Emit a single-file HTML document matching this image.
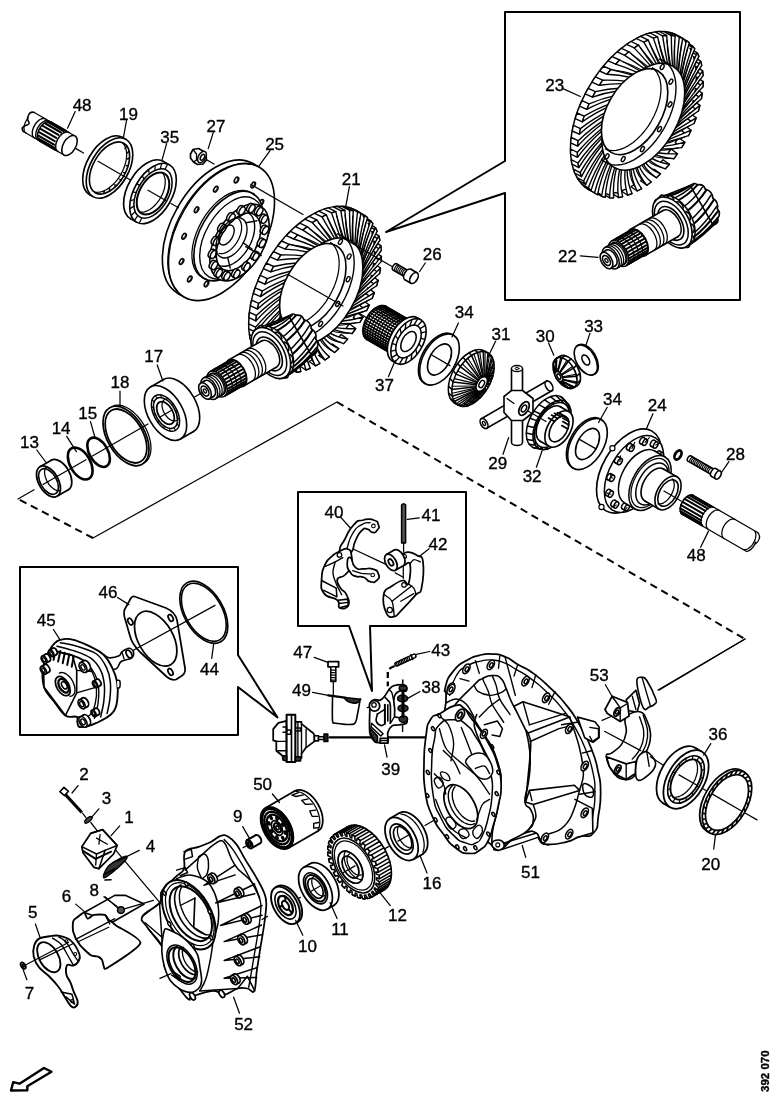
<!DOCTYPE html>
<html><head><meta charset="utf-8"><title>392 070</title>
<style>
html,body{margin:0;padding:0;background:#fff;}
svg{display:block;will-change:transform}
text{font-family:"Liberation Sans",sans-serif;fill:#000;stroke:#000;stroke-width:0.35px}
</style></head><body>
<svg width="778" height="1100" viewBox="0 0 778 1100" fill="none" stroke="#000" stroke-linecap="round" stroke-linejoin="round">
<rect x="0" y="0" width="778" height="1100" fill="#fff" stroke="none"/>
<path d="M505,161 L505,12 L740,12 L740,300 L505,300 L505,193 L386,232 Z" stroke-width="2" fill="none" />
<path d="M238,655 L238,567 L20,567 L20,735 L238,735 L238,687 L277.5,717.5 Z" stroke-width="2" fill="none" />
<path d="M349,626 L298,626 L298,492 L466,492 L466,626 L370,626 L372,691 Z" stroke-width="2" fill="none" />
<line x1="337.0" y1="402.0" x2="745.0" y2="639.0" stroke-width="2" stroke-dasharray="7.5 5" stroke-linecap="butt"/>
<line x1="93.0" y1="538.0" x2="18.0" y2="499.0" stroke-width="2" stroke-dasharray="7.5 5" stroke-linecap="butt"/>
<line x1="337.0" y1="402.0" x2="93.0" y2="538.0" stroke-width="1.25" />
<line x1="745.0" y1="639.0" x2="658.0" y2="690.0" stroke-width="1.25" />
<polygon points="64.0,155.0 75.0,136.0 34.3,112.5 23.3,131.5" fill="#fff" stroke="none"/>
<line x1="64.0" y1="155.0" x2="23.3" y2="131.5" stroke-width="1.25" />
<line x1="75.0" y1="136.0" x2="34.3" y2="112.5" stroke-width="1.25" />
<path d="M23.3,131.5 C18.3,124.5 31.8,126.0 28.8,122.0 S29.3,110.5 34.3,112.5" stroke-width="1.5" fill="#fff" />
<path d="M26.3,133.2 L25.9,132.9 L25.5,132.6 L25.2,132.2 L24.9,131.8 L24.6,131.3 L24.4,130.7 L24.2,130.2 L24.1,129.5 L24.0,128.9 L24.0,128.2 L24.0,127.5 L24.1,126.7 L24.2,126.0 L24.4,125.2 L24.6,124.4 L24.9,123.6 L25.2,122.8 L25.5,122.1 L25.9,121.3 L26.3,120.5 L26.7,119.8 L27.2,119.1 L27.7,118.4 L28.3,117.7" stroke-width="1.25" fill="none" />
<path d="M38.0,140.0 L37.3,139.5 L36.8,138.9 L36.3,138.1 L36.0,137.2 L35.8,136.1 L35.7,135.0 L35.8,133.8 L36.0,132.5 L36.3,131.2 L36.8,129.9 L37.4,128.6 L38.0,127.3 L38.8,126.1 L39.6,125.0 L40.5,123.9 L41.5,123.0 L42.5,122.2 L43.5,121.5 L44.5,121.0 L45.5,120.7 L46.5,120.5 L47.4,120.5 L48.3,120.6 L49.0,121.0" stroke-width="1.38" fill="none" />
<path d="M34.6,138.0 L33.9,137.5 L33.3,136.9 L32.9,136.1 L32.5,135.2 L32.3,134.1 L32.3,133.0 L32.3,131.8 L32.5,130.5 L32.9,129.2 L33.3,127.9 L33.9,126.6 L34.6,125.3 L35.3,124.1 L36.2,123.0 L37.1,121.9 L38.0,121.0 L39.0,120.2 L40.1,119.5 L41.1,119.0 L42.1,118.7 L43.0,118.5 L43.9,118.5 L44.8,118.6 L45.6,119.0" stroke-width="1.38" fill="none" />
<line x1="55.3" y1="149.8" x2="39.7" y2="140.8" stroke-width="2.12" />
<line x1="54.2" y1="147.6" x2="38.6" y2="138.6" stroke-width="2.12" />
<line x1="54.0" y1="144.6" x2="38.4" y2="135.6" stroke-width="2.12" />
<line x1="54.7" y1="141.2" x2="39.1" y2="132.2" stroke-width="2.12" />
<line x1="56.2" y1="137.8" x2="40.6" y2="128.8" stroke-width="2.12" />
<line x1="58.4" y1="134.8" x2="42.8" y2="125.8" stroke-width="2.12" />
<line x1="61.0" y1="132.5" x2="45.4" y2="123.5" stroke-width="2.12" />
<line x1="63.6" y1="131.2" x2="48.1" y2="122.2" stroke-width="2.12" />
<line x1="66.1" y1="131.0" x2="50.5" y2="122.0" stroke-width="2.12" />
<path d="M57.9,151.5 L57.3,151.0 L56.7,150.4 L56.3,149.6 L55.9,148.7 L55.7,147.6 L55.7,146.5 L55.7,145.3 L55.9,144.0 L56.3,142.7 L56.7,141.4 L57.3,140.1 L57.9,138.8 L58.7,137.6 L59.6,136.5 L60.5,135.4 L61.4,134.5 L62.4,133.7 L63.4,133.0 L64.5,132.5 L65.5,132.2 L66.4,132.0 L67.3,132.0 L68.2,132.1 L68.9,132.5" stroke-width="1.5" fill="none" />
<path d="M39.8,141.0 L39.1,140.5 L38.5,139.9 L38.1,139.1 L37.7,138.2 L37.5,137.1 L37.5,136.0 L37.5,134.8 L37.7,133.5 L38.1,132.2 L38.5,130.9 L39.1,129.6 L39.8,128.3 L40.5,127.1 L41.4,126.0 L42.3,124.9 L43.2,124.0 L44.2,123.2 L45.3,122.5 L46.3,122.0 L47.3,121.7 L48.2,121.5 L49.1,121.5 L50.0,121.6 L50.8,122.0" stroke-width="1.5" fill="none" />
<ellipse cx="69.5" cy="145.5" rx="6.3" ry="11.0" transform="rotate(30 69.5 145.5)" stroke-width="1.5" fill="#fff" />
<ellipse cx="106.0" cy="166.0" rx="19.0" ry="33.0" transform="rotate(30 106.0 166.0)" stroke-width="1.62" fill="#fff" />
<polygon points="93.0,196.6 126.0,139.4 122.5,137.4 89.5,194.6" fill="#fff" stroke="none"/>
<line x1="93.0" y1="196.6" x2="89.5" y2="194.6" stroke-width="1.62" />
<line x1="126.0" y1="139.4" x2="122.5" y2="137.4" stroke-width="1.62" />
<ellipse cx="109.5" cy="168.0" rx="19.0" ry="33.0" transform="rotate(30 109.5 168.0)" stroke-width="1.62" fill="#fff" />
<ellipse cx="109.5" cy="168.0" rx="16.4" ry="28.5" transform="rotate(30 109.5 168.0)" stroke-width="1.62" fill="none" />
<path d="M122.8,143.2 L124.1,144.8 L125.1,146.6 L125.9,148.8 L126.4,151.2 L126.6,153.8 L126.6,156.5 L126.3,159.4 L125.7,162.4 L124.8,165.5 L123.7,168.5 L122.3,171.6 L120.7,174.5 L119.0,177.4 L117.0,180.1 L114.9,182.6 L112.7,184.8 L110.4,186.8 L108.1,188.6 L105.7,190.0 L103.3,191.1 L101.0,191.9 L98.8,192.2 L96.7,192.3 L94.7,192.0" stroke-width="1.25" fill="none" />
<line x1="126.8" y1="146.1" x2="125.0" y2="148.4" stroke-width="1.5" />
<line x1="129.1" y1="151.3" x2="127.0" y2="153.0" stroke-width="1.5" />
<line x1="129.6" y1="157.9" x2="127.5" y2="159.0" stroke-width="1.5" />
<line x1="128.3" y1="165.4" x2="126.3" y2="165.7" stroke-width="1.5" />
<line x1="125.4" y1="173.2" x2="123.7" y2="172.6" stroke-width="1.5" />
<line x1="121.0" y1="180.5" x2="119.8" y2="179.2" stroke-width="1.5" />
<line x1="115.6" y1="186.7" x2="114.9" y2="184.7" stroke-width="1.5" />
<line x1="109.6" y1="191.2" x2="109.6" y2="188.8" stroke-width="1.5" />
<line x1="103.7" y1="193.6" x2="104.3" y2="190.9" stroke-width="1.5" />
<ellipse cx="146.9" cy="190.0" rx="19.0" ry="33.0" transform="rotate(30 146.9 190.0)" stroke-width="1.62" fill="#fff" />
<polygon points="136.5,222.1 169.5,164.9 163.4,161.4 130.4,218.6" fill="#fff" stroke="none"/>
<line x1="136.5" y1="222.1" x2="130.4" y2="218.6" stroke-width="1.62" />
<line x1="169.5" y1="164.9" x2="163.4" y2="161.4" stroke-width="1.62" />
<ellipse cx="153.0" cy="193.5" rx="19.0" ry="33.0" transform="rotate(30 153.0 193.5)" stroke-width="1.62" fill="#fff" />
<ellipse cx="153.0" cy="193.5" rx="15.6" ry="27.0" transform="rotate(30 153.0 193.5)" stroke-width="1.5" fill="none" />
<ellipse cx="153.0" cy="193.5" rx="13.3" ry="23.0" transform="rotate(30 153.0 193.5)" stroke-width="2.0" fill="none" />
<path d="M162.2,172.6 L163.2,173.8 L164.0,175.3 L164.6,177.1 L165.1,179.0 L165.2,181.1 L165.2,183.3 L164.9,185.7 L164.5,188.1 L163.8,190.5 L162.9,193.0 L161.8,195.4 L160.5,197.8 L159.1,200.1 L157.5,202.3 L155.8,204.3 L154.0,206.2 L152.2,207.8 L150.3,209.2 L148.4,210.3 L146.5,211.2 L144.6,211.8 L142.8,212.1 L141.1,212.2 L139.4,211.9" stroke-width="1.25" fill="none" />
<line x1="141.8" y1="217.8" x2="139.7" y2="222.3" stroke-width="1.25" />
<line x1="137.8" y1="215.6" x2="135.0" y2="219.7" stroke-width="1.25" />
<line x1="135.2" y1="211.6" x2="131.8" y2="215.0" stroke-width="1.25" />
<line x1="134.0" y1="206.1" x2="130.4" y2="208.4" stroke-width="1.25" />
<line x1="134.4" y1="199.5" x2="130.9" y2="200.6" stroke-width="1.25" />
<line x1="136.3" y1="192.4" x2="133.2" y2="192.2" stroke-width="1.25" />
<line x1="139.7" y1="185.4" x2="137.2" y2="183.9" stroke-width="1.25" />
<line x1="144.1" y1="179.1" x2="142.5" y2="176.4" stroke-width="1.25" />
<line x1="149.3" y1="174.0" x2="148.7" y2="170.4" stroke-width="1.25" />
<line x1="154.8" y1="170.5" x2="155.2" y2="166.2" stroke-width="1.25" />
<line x1="160.2" y1="168.9" x2="161.5" y2="164.4" stroke-width="1.25" />
<line x1="165.0" y1="169.4" x2="167.2" y2="165.0" stroke-width="1.25" />
<path d="M190.5,154 L193,149.5 L198.5,148.5 L203,151 L206,154 L206.5,160 L203,164 L197.5,164.5 L193.5,162 L190.5,158 Z" stroke-width="1.62" fill="#fff" />
<ellipse cx="202.0" cy="157.0" rx="3.6" ry="6.2" transform="rotate(30 202.0 157.0)" stroke-width="1.5" fill="#fff" />
<ellipse cx="202.5" cy="157.3" rx="1.8" ry="3.2" transform="rotate(30 202.5 157.3)" stroke-width="1.5" fill="none" />
<line x1="193.0" y1="149.5" x2="196.5" y2="154.0" stroke-width="1.25" />
<line x1="196.5" y1="154.0" x2="196.5" y2="160.0" stroke-width="1.25" />
<line x1="196.5" y1="160.0" x2="193.5" y2="162.0" stroke-width="1.25" />
<line x1="207.0" y1="160.0" x2="214.0" y2="164.0" stroke-width="1.25" />
<ellipse cx="215.4" cy="228.5" rx="43.3" ry="75.0" transform="rotate(30 215.4 228.5)" stroke-width="1.62" fill="#fff" />
<polygon points="184.0,296.9 259.0,167.1 252.9,163.6 177.9,293.4" fill="#fff" stroke="none"/>
<line x1="184.0" y1="296.9" x2="177.9" y2="293.4" stroke-width="1.62" />
<line x1="259.0" y1="167.1" x2="252.9" y2="163.6" stroke-width="1.62" />
<ellipse cx="221.5" cy="232.0" rx="43.3" ry="75.0" transform="rotate(30 221.5 232.0)" stroke-width="1.62" fill="#fff" />
<path d="M177.7,291.1 L174.4,287.0 L171.7,282.1 L169.7,276.6 L168.3,270.4 L167.7,263.7 L167.9,256.5 L168.7,249.0 L170.3,241.2 L172.5,233.3 L175.4,225.3 L178.9,217.4 L183.0,209.8 L187.6,202.4 L192.7,195.4 L198.1,188.9 L203.9,183.0 L209.8,177.7 L215.9,173.2 L222.1,169.5 L228.2,166.7 L234.2,164.8 L240.0,163.7 L245.6,163.6 L250.8,164.5" stroke-width="1.12" fill="none" />
<ellipse cx="253.2" cy="185.0" rx="1.8" ry="3.2" transform="rotate(30 253.2 185.0)" stroke-width="1.5" fill="none" />
<path d="M254.2,182.1 L254.5,182.9 L254.4,184.1 L253.9,185.3 L253.1,186.4 L252.1,187.0 L251.2,187.2" stroke-width="1.0" fill="none" />
<ellipse cx="261.4" cy="202.4" rx="1.8" ry="3.2" transform="rotate(30 261.4 202.4)" stroke-width="1.5" fill="none" />
<path d="M262.4,199.5 L262.7,200.4 L262.6,201.5 L262.1,202.7 L261.3,203.8 L260.3,204.5 L259.4,204.6" stroke-width="1.0" fill="none" />
<ellipse cx="258.9" cy="227.7" rx="1.8" ry="3.2" transform="rotate(30 258.9 227.7)" stroke-width="1.5" fill="none" />
<path d="M259.9,224.9 L260.2,225.7 L260.1,226.9 L259.6,228.1 L258.8,229.2 L257.8,229.8 L256.9,230.0" stroke-width="1.0" fill="none" />
<ellipse cx="246.4" cy="254.2" rx="1.8" ry="3.2" transform="rotate(30 246.4 254.2)" stroke-width="1.5" fill="none" />
<path d="M247.3,251.4 L247.7,252.2 L247.6,253.4 L247.1,254.6 L246.2,255.7 L245.3,256.3 L244.4,256.5" stroke-width="1.0" fill="none" />
<ellipse cx="227.2" cy="274.8" rx="1.8" ry="3.2" transform="rotate(30 227.2 274.8)" stroke-width="1.5" fill="none" />
<path d="M228.1,271.9 L228.5,272.7 L228.4,273.9 L227.9,275.1 L227.1,276.2 L226.1,276.9 L225.2,277.0" stroke-width="1.0" fill="none" />
<ellipse cx="206.5" cy="283.9" rx="1.8" ry="3.2" transform="rotate(30 206.5 283.9)" stroke-width="1.5" fill="none" />
<path d="M207.4,281.0 L207.8,281.8 L207.7,283.0 L207.2,284.2 L206.4,285.3 L205.4,285.9 L204.5,286.1" stroke-width="1.0" fill="none" />
<ellipse cx="189.8" cy="279.0" rx="1.8" ry="3.2" transform="rotate(30 189.8 279.0)" stroke-width="1.5" fill="none" />
<path d="M190.8,276.2 L191.1,277.0 L191.0,278.2 L190.5,279.4 L189.7,280.5 L188.7,281.1 L187.8,281.3" stroke-width="1.0" fill="none" />
<ellipse cx="181.6" cy="261.6" rx="1.8" ry="3.2" transform="rotate(30 181.6 261.6)" stroke-width="1.5" fill="none" />
<path d="M182.6,258.7 L182.9,259.6 L182.8,260.7 L182.3,262.0 L181.5,263.0 L180.5,263.7 L179.6,263.8" stroke-width="1.0" fill="none" />
<ellipse cx="184.1" cy="236.3" rx="1.8" ry="3.2" transform="rotate(30 184.1 236.3)" stroke-width="1.5" fill="none" />
<path d="M185.1,233.4 L185.4,234.2 L185.3,235.4 L184.8,236.6 L184.0,237.7 L183.0,238.3 L182.1,238.5" stroke-width="1.0" fill="none" />
<ellipse cx="196.6" cy="209.8" rx="1.8" ry="3.2" transform="rotate(30 196.6 209.8)" stroke-width="1.5" fill="none" />
<path d="M197.6,206.9 L197.9,207.7 L197.8,208.9 L197.3,210.1 L196.5,211.2 L195.6,211.9 L194.7,212.0" stroke-width="1.0" fill="none" />
<ellipse cx="215.8" cy="189.2" rx="1.8" ry="3.2" transform="rotate(30 215.8 189.2)" stroke-width="1.5" fill="none" />
<path d="M216.8,186.4 L217.1,187.2 L217.0,188.4 L216.5,189.6 L215.7,190.6 L214.7,191.3 L213.8,191.4" stroke-width="1.0" fill="none" />
<ellipse cx="236.5" cy="180.1" rx="1.8" ry="3.2" transform="rotate(30 236.5 180.1)" stroke-width="1.5" fill="none" />
<path d="M237.5,177.3 L237.8,178.1 L237.7,179.3 L237.2,180.5 L236.4,181.6 L235.5,182.2 L234.6,182.4" stroke-width="1.0" fill="none" />
<ellipse cx="228.5" cy="236.0" rx="28.3" ry="49.0" transform="rotate(30 228.5 236.0)" stroke-width="1.62" fill="#fff" />
<path d="M206.1,279.1 L202.3,277.6 L199.0,275.2 L196.3,272.0 L194.2,268.0 L192.7,263.3 L192.0,258.1 L191.9,252.4 L192.6,246.3 L194.0,239.9 L196.1,233.5 L198.8,227.1 L202.0,220.9 L205.8,214.9 L210.0,209.4 L214.5,204.4 L219.3,200.0 L224.2,196.4 L229.2,193.6 L234.2,191.6 L238.9,190.5 L243.4,190.3 L247.6,191.1 L251.3,192.8 L254.5,195.3" stroke-width="1.25" fill="none" />
<ellipse cx="231.5" cy="238.0" rx="26.0" ry="45.0" transform="rotate(30 231.5 238.0)" stroke-width="1.38" fill="#fff" />
<ellipse cx="239.5" cy="242.5" rx="24.2" ry="42.0" transform="rotate(30 239.5 242.5)" stroke-width="1.62" fill="#fff" />
<ellipse cx="238.5" cy="241.9" rx="18.2" ry="31.5" transform="rotate(30 238.5 241.9)" stroke-width="1.62" fill="none" />
<ellipse cx="257.6" cy="210.4" rx="2.5" ry="4.4" transform="rotate(30 257.6 210.4)" stroke-width="1.5" fill="#fff" />
<polygon points="257.6,215.5 262.0,207.9 259.8,206.6 255.4,214.2" fill="#fff" stroke="none"/>
<line x1="257.6" y1="215.5" x2="255.4" y2="214.2" stroke-width="1.5" />
<line x1="262.0" y1="207.9" x2="259.8" y2="206.6" stroke-width="1.5" />
<ellipse cx="259.8" cy="211.7" rx="2.5" ry="4.4" transform="rotate(30 259.8 211.7)" stroke-width="1.5" fill="#fff" />
<ellipse cx="262.4" cy="218.1" rx="2.5" ry="4.4" transform="rotate(30 262.4 218.1)" stroke-width="1.5" fill="#fff" />
<polygon points="262.3,223.1 266.7,215.5 264.6,214.3 260.2,221.9" fill="#fff" stroke="none"/>
<line x1="262.3" y1="223.1" x2="260.2" y2="221.9" stroke-width="1.5" />
<line x1="266.7" y1="215.5" x2="264.6" y2="214.3" stroke-width="1.5" />
<ellipse cx="264.5" cy="219.3" rx="2.5" ry="4.4" transform="rotate(30 264.5 219.3)" stroke-width="1.5" fill="#fff" />
<ellipse cx="263.4" cy="229.2" rx="2.5" ry="4.4" transform="rotate(30 263.4 229.2)" stroke-width="1.5" fill="#fff" />
<polygon points="263.3,234.3 267.7,226.7 265.6,225.4 261.2,233.0" fill="#fff" stroke="none"/>
<line x1="263.3" y1="234.3" x2="261.2" y2="233.0" stroke-width="1.5" />
<line x1="267.7" y1="226.7" x2="265.6" y2="225.4" stroke-width="1.5" />
<ellipse cx="265.5" cy="230.5" rx="2.5" ry="4.4" transform="rotate(30 265.5 230.5)" stroke-width="1.5" fill="#fff" />
<ellipse cx="260.4" cy="242.2" rx="2.5" ry="4.4" transform="rotate(30 260.4 242.2)" stroke-width="1.5" fill="#fff" />
<polygon points="260.3,247.3 264.7,239.7 262.6,238.4 258.2,246.0" fill="#fff" stroke="none"/>
<line x1="260.3" y1="247.3" x2="258.2" y2="246.0" stroke-width="1.5" />
<line x1="264.7" y1="239.7" x2="262.6" y2="238.4" stroke-width="1.5" />
<ellipse cx="262.5" cy="243.5" rx="2.5" ry="4.4" transform="rotate(30 262.5 243.5)" stroke-width="1.5" fill="#fff" />
<ellipse cx="253.9" cy="255.1" rx="2.5" ry="4.4" transform="rotate(30 253.9 255.1)" stroke-width="1.5" fill="#fff" />
<polygon points="253.8,260.1 258.2,252.5 256.1,251.3 251.7,258.9" fill="#fff" stroke="none"/>
<line x1="253.8" y1="260.1" x2="251.7" y2="258.9" stroke-width="1.5" />
<line x1="258.2" y1="252.5" x2="256.1" y2="251.3" stroke-width="1.5" />
<ellipse cx="256.0" cy="256.3" rx="2.5" ry="4.4" transform="rotate(30 256.0 256.3)" stroke-width="1.5" fill="#fff" />
<ellipse cx="244.9" cy="265.8" rx="2.5" ry="4.4" transform="rotate(30 244.9 265.8)" stroke-width="1.5" fill="#fff" />
<polygon points="244.8,270.9 249.2,263.3 247.1,262.0 242.7,269.6" fill="#fff" stroke="none"/>
<line x1="244.8" y1="270.9" x2="242.7" y2="269.6" stroke-width="1.5" />
<line x1="249.2" y1="263.3" x2="247.1" y2="262.0" stroke-width="1.5" />
<ellipse cx="247.0" cy="267.1" rx="2.5" ry="4.4" transform="rotate(30 247.0 267.1)" stroke-width="1.5" fill="#fff" />
<ellipse cx="234.7" cy="272.8" rx="2.5" ry="4.4" transform="rotate(30 234.7 272.8)" stroke-width="1.5" fill="#fff" />
<polygon points="234.7,277.9 239.1,270.3 236.9,269.0 232.5,276.6" fill="#fff" stroke="none"/>
<line x1="234.7" y1="277.9" x2="232.5" y2="276.6" stroke-width="1.5" />
<line x1="239.1" y1="270.3" x2="236.9" y2="269.0" stroke-width="1.5" />
<ellipse cx="236.9" cy="274.1" rx="2.5" ry="4.4" transform="rotate(30 236.9 274.1)" stroke-width="1.5" fill="#fff" />
<ellipse cx="225.0" cy="275.0" rx="2.5" ry="4.4" transform="rotate(30 225.0 275.0)" stroke-width="1.5" fill="#fff" />
<polygon points="224.9,280.1 229.3,272.4 227.2,271.2 222.8,278.8" fill="#fff" stroke="none"/>
<line x1="224.9" y1="280.1" x2="222.8" y2="278.8" stroke-width="1.5" />
<line x1="229.3" y1="272.4" x2="227.2" y2="271.2" stroke-width="1.5" />
<ellipse cx="227.1" cy="276.3" rx="2.5" ry="4.4" transform="rotate(30 227.1 276.3)" stroke-width="1.5" fill="#fff" />
<ellipse cx="217.1" cy="272.1" rx="2.5" ry="4.4" transform="rotate(30 217.1 272.1)" stroke-width="1.5" fill="#fff" />
<polygon points="217.0,277.1 221.4,269.5 219.3,268.3 214.9,275.9" fill="#fff" stroke="none"/>
<line x1="217.0" y1="277.1" x2="214.9" y2="275.9" stroke-width="1.5" />
<line x1="221.4" y1="269.5" x2="219.3" y2="268.3" stroke-width="1.5" />
<ellipse cx="219.2" cy="273.3" rx="2.5" ry="4.4" transform="rotate(30 219.2 273.3)" stroke-width="1.5" fill="#fff" />
<ellipse cx="212.3" cy="264.4" rx="2.5" ry="4.4" transform="rotate(30 212.3 264.4)" stroke-width="1.5" fill="#fff" />
<polygon points="212.3,269.5 216.7,261.9 214.5,260.6 210.1,268.2" fill="#fff" stroke="none"/>
<line x1="212.3" y1="269.5" x2="210.1" y2="268.2" stroke-width="1.5" />
<line x1="216.7" y1="261.9" x2="214.5" y2="260.6" stroke-width="1.5" />
<ellipse cx="214.5" cy="265.7" rx="2.5" ry="4.4" transform="rotate(30 214.5 265.7)" stroke-width="1.5" fill="#fff" />
<ellipse cx="211.3" cy="253.3" rx="2.5" ry="4.4" transform="rotate(30 211.3 253.3)" stroke-width="1.5" fill="#fff" />
<polygon points="211.3,258.3 215.7,250.7 213.5,249.5 209.1,257.1" fill="#fff" stroke="none"/>
<line x1="211.3" y1="258.3" x2="209.1" y2="257.1" stroke-width="1.5" />
<line x1="215.7" y1="250.7" x2="213.5" y2="249.5" stroke-width="1.5" />
<ellipse cx="213.5" cy="254.5" rx="2.5" ry="4.4" transform="rotate(30 213.5 254.5)" stroke-width="1.5" fill="#fff" />
<ellipse cx="214.3" cy="240.3" rx="2.5" ry="4.4" transform="rotate(30 214.3 240.3)" stroke-width="1.5" fill="#fff" />
<polygon points="214.3,245.3 218.7,237.7 216.5,236.5 212.1,244.1" fill="#fff" stroke="none"/>
<line x1="214.3" y1="245.3" x2="212.1" y2="244.1" stroke-width="1.5" />
<line x1="218.7" y1="237.7" x2="216.5" y2="236.5" stroke-width="1.5" />
<ellipse cx="216.5" cy="241.5" rx="2.5" ry="4.4" transform="rotate(30 216.5 241.5)" stroke-width="1.5" fill="#fff" />
<ellipse cx="220.8" cy="227.4" rx="2.5" ry="4.4" transform="rotate(30 220.8 227.4)" stroke-width="1.5" fill="#fff" />
<polygon points="220.8,232.5 225.2,224.9 223.0,223.6 218.6,231.2" fill="#fff" stroke="none"/>
<line x1="220.8" y1="232.5" x2="218.6" y2="231.2" stroke-width="1.5" />
<line x1="225.2" y1="224.9" x2="223.0" y2="223.6" stroke-width="1.5" />
<ellipse cx="223.0" cy="228.7" rx="2.5" ry="4.4" transform="rotate(30 223.0 228.7)" stroke-width="1.5" fill="#fff" />
<ellipse cx="229.8" cy="216.7" rx="2.5" ry="4.4" transform="rotate(30 229.8 216.7)" stroke-width="1.5" fill="#fff" />
<polygon points="229.8,221.7 234.2,214.1 232.0,212.9 227.6,220.5" fill="#fff" stroke="none"/>
<line x1="229.8" y1="221.7" x2="227.6" y2="220.5" stroke-width="1.5" />
<line x1="234.2" y1="214.1" x2="232.0" y2="212.9" stroke-width="1.5" />
<ellipse cx="232.0" cy="217.9" rx="2.5" ry="4.4" transform="rotate(30 232.0 217.9)" stroke-width="1.5" fill="#fff" />
<ellipse cx="240.0" cy="209.7" rx="2.5" ry="4.4" transform="rotate(30 240.0 209.7)" stroke-width="1.5" fill="#fff" />
<polygon points="239.9,214.7 244.3,207.1 242.2,205.9 237.8,213.5" fill="#fff" stroke="none"/>
<line x1="239.9" y1="214.7" x2="237.8" y2="213.5" stroke-width="1.5" />
<line x1="244.3" y1="207.1" x2="242.2" y2="205.9" stroke-width="1.5" />
<ellipse cx="242.1" cy="210.9" rx="2.5" ry="4.4" transform="rotate(30 242.1 210.9)" stroke-width="1.5" fill="#fff" />
<ellipse cx="249.7" cy="207.5" rx="2.5" ry="4.4" transform="rotate(30 249.7 207.5)" stroke-width="1.5" fill="#fff" />
<polygon points="249.7,212.6 254.1,204.9 251.9,203.7 247.5,211.3" fill="#fff" stroke="none"/>
<line x1="249.7" y1="212.6" x2="247.5" y2="211.3" stroke-width="1.5" />
<line x1="254.1" y1="204.9" x2="251.9" y2="203.7" stroke-width="1.5" />
<ellipse cx="251.9" cy="208.7" rx="2.5" ry="4.4" transform="rotate(30 251.9 208.7)" stroke-width="1.5" fill="#fff" />
<path d="M248.5,213.0 L250.3,214.4 L251.9,216.1 L253.1,218.3 L254.0,220.8 L254.5,223.7 L254.7,226.7 L254.5,230.1 L254.0,233.5 L253.1,237.1 L251.9,240.6 L250.3,244.2 L248.5,247.7 L246.4,251.0 L244.1,254.1 L241.6,256.9 L239.0,259.5 L236.3,261.7 L233.5,263.5 L230.7,264.9 L228.0,265.8 L225.4,266.3 L222.9,266.3 L220.6,265.9 L218.5,265.0" stroke-width="1.38" fill="none" />
<ellipse cx="231.5" cy="237.9" rx="12.7" ry="22.0" transform="rotate(30 231.5 237.9)" stroke-width="1.38" fill="none" />
<path d="M238.9,219.3 L239.8,220.4 L240.6,221.7 L241.1,223.2 L241.5,224.9 L241.6,226.7 L241.6,228.6 L241.4,230.7 L240.9,232.8 L240.3,234.9 L239.6,237.1 L238.6,239.2 L237.5,241.3 L236.2,243.3 L234.9,245.2 L233.4,246.9 L231.9,248.5 L230.3,249.9 L228.6,251.1 L226.9,252.1 L225.3,252.9 L223.7,253.4 L222.1,253.7 L220.6,253.7 L219.2,253.5" stroke-width="1.25" fill="none" />
<ellipse cx="226.5" cy="235.0" rx="6.3" ry="11.0" transform="rotate(30 226.5 235.0)" stroke-width="1.38" fill="none" />
<line x1="245.9" y1="222.8" x2="256.9" y2="220.8" stroke-width="1.38" />
<line x1="243.2" y1="242.9" x2="252.1" y2="249.0" stroke-width="1.38" />
<line x1="227.7" y1="257.5" x2="230.2" y2="268.2" stroke-width="1.38" />
<line x1="216.3" y1="250.7" x2="215.3" y2="257.4" stroke-width="1.38" />
<line x1="221.5" y1="229.9" x2="223.5" y2="228.5" stroke-width="1.38" />
<line x1="237.6" y1="217.9" x2="245.9" y2="213.0" stroke-width="1.38" />
<line x1="245.7" y1="246.6" x2="261.3" y2="255.6" stroke-width="1.25" />
<line x1="76.0" y1="148.6" x2="83.5" y2="153.0" stroke-width="1.25" />
<line x1="98.0" y1="161.3" x2="130.0" y2="179.8" stroke-width="1.25" />
<line x1="148.0" y1="190.2" x2="166.3" y2="200.8" stroke-width="1.25" />
<line x1="171.0" y1="203.5" x2="178.5" y2="207.8" stroke-width="1.25" />
<ellipse cx="311.6" cy="287.5" rx="51.4" ry="89.0" transform="rotate(30 311.6 287.5)" stroke-width="1.5" fill="#fff" />
<ellipse cx="318.5" cy="291.5" rx="51.1" ry="88.5" transform="rotate(30 318.5 291.5)" stroke-width="0.12" fill="#fff" stroke="#fff"/>
<path d="M329.4,356.8 L323.1,352.3 L318.7,355.5 L325.0,360.0 Z" stroke-width="1.38" fill="#fff" />
<path d="M317.5,341.3 Q321.2,350.0 329.4,356.8 L325.0,360.0 Q318.0,352.0 315.3,342.3 Z" stroke-width="1.38" fill="#fff" />
<path d="M313.8,342.8 Q316.2,351.3 322.9,357.3" stroke-width="1.12" fill="none" />
<path d="M338.7,348.6 L332.4,344.0 L328.2,348.0 L334.5,352.5 Z" stroke-width="1.38" fill="#fff" />
<path d="M323.9,337.8 Q329.1,344.3 338.7,348.6 L334.5,352.5 Q325.9,346.8 321.6,339.2 Z" stroke-width="1.38" fill="#fff" />
<path d="M320.1,340.0 Q324.0,346.6 331.9,350.6" stroke-width="1.12" fill="none" />
<path d="M319.8,363.4 L313.5,359.0 L309.1,361.5 L315.4,365.8 Z" stroke-width="1.38" fill="#fff" />
<path d="M311.3,343.7 Q313.3,354.4 319.8,363.4 L315.4,365.8 Q310.0,355.8 309.1,344.2 Z" stroke-width="1.38" fill="#fff" />
<path d="M307.7,344.5 Q308.5,354.7 313.8,362.6" stroke-width="1.12" fill="none" />
<path d="M347.6,339.1 L341.2,334.5 L337.2,339.0 L343.6,343.6 Z" stroke-width="1.38" fill="#fff" />
<path d="M330.1,333.2 Q336.8,337.3 347.6,339.1 L343.6,343.6 Q333.7,340.3 327.9,335.0 Z" stroke-width="1.38" fill="#fff" />
<path d="M326.5,336.0 Q331.6,340.5 340.5,342.4" stroke-width="1.12" fill="none" />
<path d="M310.2,368.3 L303.9,364.0 L299.5,365.8 L305.8,370.0 Z" stroke-width="1.38" fill="#fff" />
<path d="M305.3,344.8 Q305.4,357.3 310.2,368.3 L305.8,370.0 Q302.3,358.1 303.2,344.9 Z" stroke-width="1.38" fill="#fff" />
<path d="M355.7,328.5 L349.3,323.8 L345.7,328.8 L352.1,333.5 Z" stroke-width="1.38" fill="#fff" />
<path d="M336.2,327.6 Q344.0,329.2 355.7,328.5 L352.1,333.5 Q341.2,332.6 334.1,329.7 Z" stroke-width="1.38" fill="#fff" />
<path d="M332.7,331.0 Q338.9,333.3 348.7,333.1" stroke-width="1.12" fill="none" />
<path d="M300.8,371.5 L294.4,367.3 L290.2,368.2 L296.6,372.3 Z" stroke-width="1.38" fill="#fff" />
<path d="M299.7,344.7 Q297.8,358.7 300.8,371.5 L296.6,372.3 Q294.9,358.8 297.8,344.3 Z" stroke-width="1.38" fill="#fff" />
<path d="M363.1,317.0 L356.6,312.3 L353.4,317.6 L359.8,322.4 Z" stroke-width="1.38" fill="#fff" />
<path d="M341.9,321.2 Q350.7,320.3 363.1,317.0 L359.8,322.4 Q348.1,324.0 339.9,323.6 Z" stroke-width="1.38" fill="#fff" />
<path d="M338.6,325.1 Q345.8,325.1 356.2,322.7" stroke-width="1.12" fill="none" />
<path d="M291.8,372.7 L285.4,368.7 L281.5,368.7 L287.8,372.7 Z" stroke-width="1.38" fill="#fff" />
<path d="M294.6,343.3 Q290.8,358.5 291.8,372.7 L287.8,372.7 Q288.1,358.0 292.9,342.5 Z" stroke-width="1.38" fill="#fff" />
<path d="M369.3,305.0 L362.8,300.2 L360.1,305.7 L366.6,310.5 Z" stroke-width="1.38" fill="#fff" />
<path d="M347.2,314.1 Q356.6,310.6 369.3,305.0 L366.6,310.5 Q354.3,314.6 345.4,316.7 Z" stroke-width="1.38" fill="#fff" />
<path d="M344.2,318.3 Q352.0,316.1 362.7,311.7" stroke-width="1.12" fill="none" />
<path d="M283.4,372.1 L277.0,368.2 L273.4,367.3 L279.8,371.1 Z" stroke-width="1.38" fill="#fff" />
<path d="M290.1,340.7 Q284.4,356.7 283.4,372.1 L279.8,371.1 Q282.0,355.6 288.7,339.5 Z" stroke-width="1.38" fill="#fff" />
<path d="M374.4,292.6 L367.7,287.8 L365.6,293.4 L372.2,298.3 Z" stroke-width="1.38" fill="#fff" />
<path d="M351.8,306.4 Q361.6,300.5 374.4,292.6 L372.2,298.3 Q359.6,304.7 350.2,309.2 Z" stroke-width="1.38" fill="#fff" />
<path d="M349.2,311.0 Q357.4,306.6 368.3,300.2" stroke-width="1.12" fill="none" />
<path d="M275.8,369.5 L269.4,365.8 L266.2,364.0 L272.7,367.8 Z" stroke-width="1.38" fill="#fff" />
<path d="M286.4,337.0 Q278.8,353.4 275.8,369.5 L272.7,367.8 Q276.7,351.7 285.2,335.4 Z" stroke-width="1.38" fill="#fff" />
<path d="M378.1,280.2 L371.4,275.4 L369.9,281.0 L376.6,285.8 Z" stroke-width="1.38" fill="#fff" />
<path d="M355.8,298.4 Q365.5,290.3 378.1,280.2 L376.6,285.8 Q364.0,294.5 354.4,301.3 Z" stroke-width="1.38" fill="#fff" />
<path d="M353.5,303.2 Q361.9,296.7 372.6,288.4" stroke-width="1.12" fill="none" />
<path d="M269.3,365.2 L262.7,361.5 L260.1,359.0 L266.6,362.6 Z" stroke-width="1.38" fill="#fff" />
<path d="M283.4,332.2 Q274.1,348.7 269.3,365.2 L266.6,362.6 Q272.5,346.3 282.6,330.2 Z" stroke-width="1.38" fill="#fff" />
<path d="M380.5,268.0 L373.7,263.2 L372.8,268.7 L379.6,273.5 Z" stroke-width="1.38" fill="#fff" />
<path d="M358.9,290.3 Q368.4,280.0 380.5,268.0 L379.6,273.5 Q367.4,284.2 357.9,293.2 Z" stroke-width="1.38" fill="#fff" />
<path d="M357.2,295.1 Q365.4,286.6 375.7,276.8" stroke-width="1.12" fill="none" />
<path d="M263.9,359.1 L257.2,355.5 L255.2,352.3 L261.8,355.8 Z" stroke-width="1.38" fill="#fff" />
<path d="M281.4,326.4 Q270.4,342.6 263.9,359.1 L261.8,355.8 Q269.3,339.7 280.9,324.1 Z" stroke-width="1.38" fill="#fff" />
<path d="M381.4,256.4 L374.5,251.7 L374.3,256.9 L381.2,261.6 Z" stroke-width="1.38" fill="#fff" />
<path d="M361.2,282.1 Q370.1,270.0 381.4,256.4 L381.2,261.6 Q369.6,274.0 360.4,285.0 Z" stroke-width="1.38" fill="#fff" />
<path d="M359.9,286.9 Q367.8,276.7 377.5,265.5" stroke-width="1.12" fill="none" />
<path d="M259.7,351.4 L253.0,348.0 L251.6,344.0 L258.3,347.4 Z" stroke-width="1.38" fill="#fff" />
<path d="M280.3,319.8 Q267.9,335.3 259.7,351.4 L258.3,347.4 Q267.2,332.0 280.2,317.3 Z" stroke-width="1.38" fill="#fff" />
<path d="M380.8,245.6 L373.8,241.0 L374.3,245.8 L381.3,250.5 Z" stroke-width="1.38" fill="#fff" />
<path d="M362.5,274.2 Q370.6,260.5 380.8,245.6 L381.3,250.5 Q370.6,264.3 362.1,277.0 Z" stroke-width="1.38" fill="#fff" />
<path d="M361.8,278.8 Q369.0,267.2 377.8,254.8" stroke-width="1.12" fill="none" />
<path d="M257.0,342.4 L250.2,339.0 L249.4,334.5 L256.2,337.8 Z" stroke-width="1.38" fill="#fff" />
<path d="M280.2,312.6 Q266.6,327.0 257.0,342.4 L256.2,337.8 Q266.4,323.3 280.4,309.9 Z" stroke-width="1.38" fill="#fff" />
<path d="M378.8,235.9 L371.7,231.4 L372.8,235.6 L379.9,240.2 Z" stroke-width="1.38" fill="#fff" />
<path d="M362.8,266.7 Q369.9,251.8 378.8,235.9 L379.9,240.2 Q370.3,255.2 362.8,269.3 Z" stroke-width="1.38" fill="#fff" />
<path d="M362.7,271.1 Q369.1,258.2 376.8,244.9" stroke-width="1.12" fill="none" />
<path d="M255.7,332.1 L248.8,328.8 L248.7,323.8 L255.6,327.1 Z" stroke-width="1.38" fill="#fff" />
<path d="M281.1,304.9 Q266.5,317.8 255.7,332.1 L255.6,327.1 Q266.8,313.9 281.6,302.0 Z" stroke-width="1.38" fill="#fff" />
<path d="M375.4,227.6 L368.2,223.1 L369.9,226.7 L377.1,231.2 Z" stroke-width="1.38" fill="#fff" />
<path d="M362.2,259.8 Q368.0,243.9 375.4,227.6 L377.1,231.2 Q368.9,247.0 362.6,262.2 Z" stroke-width="1.38" fill="#fff" />
<path d="M362.7,263.8 Q368.0,250.0 374.4,236.2" stroke-width="1.12" fill="none" />
<path d="M255.9,320.9 L248.9,317.6 L249.4,312.3 L256.4,315.5 Z" stroke-width="1.38" fill="#fff" />
<path d="M282.9,296.8 Q267.6,308.0 255.9,320.9 L256.4,315.5 Q268.4,303.9 283.7,293.9 Z" stroke-width="1.38" fill="#fff" />
<path d="M370.6,220.7 L363.3,216.3 L365.7,219.2 L372.9,223.6 Z" stroke-width="1.38" fill="#fff" />
<path d="M360.7,253.6 Q364.9,237.2 370.6,220.7 L372.9,223.6 Q366.3,239.8 361.4,255.7 Z" stroke-width="1.38" fill="#fff" />
<path d="M361.7,257.1 Q365.7,242.7 370.7,228.7" stroke-width="1.12" fill="none" />
<path d="M257.5,309.0 L250.4,305.8 L251.6,300.2 L258.7,303.4 Z" stroke-width="1.38" fill="#fff" />
<path d="M285.6,288.7 Q269.9,297.9 257.5,309.0 L258.7,303.4 Q271.1,293.7 286.7,285.7 Z" stroke-width="1.38" fill="#fff" />
<path d="M364.6,215.4 L357.2,211.1 L360.1,213.3 L367.5,217.6 Z" stroke-width="1.38" fill="#fff" />
<path d="M358.2,248.3 Q360.7,231.8 364.6,215.4 L367.5,217.6 Q362.5,233.8 359.2,250.1 Z" stroke-width="1.38" fill="#fff" />
<path d="M359.8,251.3 Q362.3,236.6 365.8,222.7" stroke-width="1.12" fill="none" />
<path d="M260.6,296.6 L253.4,293.5 L255.2,287.8 L262.4,291.0 Z" stroke-width="1.38" fill="#fff" />
<path d="M289.1,280.5 Q273.3,287.6 260.6,296.6 L262.4,291.0 Q275.0,283.4 290.6,277.7 Z" stroke-width="1.38" fill="#fff" />
<path d="M357.5,212.0 L350.1,207.8 L353.5,209.1 L360.9,213.3 Z" stroke-width="1.38" fill="#fff" />
<path d="M354.9,244.0 Q355.5,227.7 357.5,212.0 L360.9,213.3 Q357.8,229.2 356.2,245.4 Z" stroke-width="1.38" fill="#fff" />
<path d="M356.9,246.4 Q357.8,231.8 359.8,218.4" stroke-width="1.12" fill="none" />
<path d="M265.0,284.2 L257.7,281.0 L260.2,275.4 L267.4,278.6 Z" stroke-width="1.38" fill="#fff" />
<path d="M293.4,272.7 Q277.8,277.4 265.0,284.2 L267.4,278.6 Q279.9,273.3 295.1,270.0 Z" stroke-width="1.38" fill="#fff" />
<path d="M349.5,210.4 L342.0,206.3 L345.8,206.8 L353.3,210.9 Z" stroke-width="1.38" fill="#fff" />
<path d="M350.8,240.8 Q349.5,225.2 349.5,210.4 L353.3,210.9 Q352.1,226.0 352.3,241.8 Z" stroke-width="1.38" fill="#fff" />
<path d="M353.3,242.6 Q352.5,228.4 352.8,215.7" stroke-width="1.12" fill="none" />
<path d="M270.7,271.9 L263.3,268.7 L266.3,263.2 L273.7,266.5 Z" stroke-width="1.38" fill="#fff" />
<path d="M298.4,265.3 Q283.3,267.5 270.7,271.9 L273.7,266.5 Q285.7,263.6 300.3,262.8 Z" stroke-width="1.38" fill="#fff" />
<path d="M340.8,210.7 L333.3,206.8 L337.4,206.3 L344.9,210.3 Z" stroke-width="1.38" fill="#fff" />
<path d="M345.9,238.9 Q342.8,224.2 340.8,210.7 L344.9,210.3 Q345.6,224.4 347.7,239.4 Z" stroke-width="1.38" fill="#fff" />
<path d="M348.8,239.9 Q346.4,226.5 345.0,214.8" stroke-width="1.12" fill="none" />
<path d="M277.5,260.1 L270.1,256.9 L273.5,251.7 L280.9,255.0 Z" stroke-width="1.38" fill="#fff" />
<path d="M303.9,258.5 Q289.5,258.2 277.5,260.1 L280.9,255.0 Q292.3,254.6 306.0,256.2 Z" stroke-width="1.38" fill="#fff" />
<path d="M331.6,212.9 L324.0,209.1 L328.3,207.8 L335.8,211.6 Z" stroke-width="1.38" fill="#fff" />
<path d="M340.6,238.1 Q335.4,224.8 331.6,212.9 L335.8,211.6 Q338.5,224.4 342.6,238.2 Z" stroke-width="1.38" fill="#fff" />
<path d="M343.8,238.4 Q339.6,226.0 336.6,215.7" stroke-width="1.12" fill="none" />
<path d="M285.2,249.1 L277.8,245.8 L281.6,241.0 L289.1,244.3 Z" stroke-width="1.38" fill="#fff" />
<path d="M309.8,252.5 Q296.5,249.6 285.2,249.1 L289.1,244.3 Q299.5,246.4 312.0,250.5 Z" stroke-width="1.38" fill="#fff" />
<path d="M313.4,249.4 Q301.7,246.0 292.3,245.1" stroke-width="1.12" fill="none" />
<path d="M322.0,216.9 L314.5,213.3 L318.9,211.1 L326.4,214.9 Z" stroke-width="1.38" fill="#fff" />
<path d="M334.7,238.6 Q327.7,226.9 322.0,216.9 L326.4,214.9 Q330.9,225.9 336.9,238.3 Z" stroke-width="1.38" fill="#fff" />
<path d="M338.2,238.2 Q332.3,227.2 327.7,218.4" stroke-width="1.12" fill="none" />
<path d="M293.8,239.0 L286.3,235.6 L290.4,231.4 L297.9,234.8 Z" stroke-width="1.38" fill="#fff" />
<path d="M316.0,247.4 Q304.0,242.1 293.8,239.0 L297.9,234.8 Q307.1,239.3 318.2,245.8 Z" stroke-width="1.38" fill="#fff" />
<path d="M319.7,244.8 Q309.2,239.3 300.7,236.3" stroke-width="1.12" fill="none" />
<path d="M312.4,222.7 L304.8,219.2 L309.2,216.3 L316.8,219.9 Z" stroke-width="1.38" fill="#fff" />
<path d="M328.6,240.4 Q319.8,230.6 312.4,222.7 L316.8,219.9 Q323.0,228.9 330.8,239.6 Z" stroke-width="1.38" fill="#fff" />
<path d="M332.2,239.2 Q324.7,229.8 318.7,222.8" stroke-width="1.12" fill="none" />
<path d="M302.9,230.1 L295.4,226.7 L299.7,223.1 L307.2,226.6 Z" stroke-width="1.38" fill="#fff" />
<path d="M322.3,243.3 Q311.8,235.7 302.9,230.1 L307.2,226.6 Q315.0,233.4 324.6,242.1 Z" stroke-width="1.38" fill="#fff" />
<path d="M326.0,241.4 Q316.9,233.9 309.6,228.9" stroke-width="1.12" fill="none" />
<ellipse cx="321.5" cy="291.5" rx="33.8" ry="58.5" transform="rotate(30 321.5 291.5)" stroke-width="1.5" fill="#fff" />
<path d="M337.4,233.9 L341.0,235.3 L344.3,237.3 L347.2,240.0 L349.6,243.4 L351.5,247.3 L352.9,251.7 L353.8,256.5 L354.2,261.8 L354.0,267.4 L353.3,273.2 L352.0,279.2 L350.2,285.3 L348.0,291.4 L345.2,297.5 L342.1,303.4 L338.5,309.1 L334.7,314.5 L330.5,319.5 L326.1,324.1 L321.5,328.2 L316.8,331.7 L312.1,334.7 L307.4,337.0 L302.7,338.6 L298.2,339.6 L293.9,339.9 L289.8,339.5 L286.0,338.3 L282.6,336.5 L279.6,334.1" stroke-width="1.38" fill="none" />
<ellipse cx="312.8" cy="286.5" rx="27.1" ry="47.0" transform="rotate(30 312.8 286.5)" stroke-width="1.62" fill="#fff" />
<path d="M330.6,242.5 L333.2,244.8 L335.4,247.7 L337.1,251.2 L338.3,255.1 L339.0,259.5 L339.2,264.3 L338.8,269.3 L337.9,274.6 L336.5,280.0 L334.6,285.4 L332.2,290.8 L329.4,296.1 L326.3,301.1 L322.8,305.8 L319.0,310.2 L315.1,314.1 L311.0,317.5 L306.8,320.4 L302.6,322.6 L298.4,324.2 L294.4,325.1 L290.5,325.4 L286.9,325.0 L283.6,323.8" stroke-width="1.25" fill="none" />
<ellipse cx="340.4" cy="241.8" rx="1.6" ry="2.8" transform="rotate(30 340.4 241.8)" stroke-width="1.38" fill="#fff" />
<ellipse cx="349.1" cy="256.5" rx="1.6" ry="2.8" transform="rotate(30 349.1 256.5)" stroke-width="1.38" fill="#fff" />
<ellipse cx="348.2" cy="279.2" rx="1.6" ry="2.8" transform="rotate(30 348.2 279.2)" stroke-width="1.38" fill="#fff" />
<ellipse cx="337.7" cy="303.9" rx="1.6" ry="2.8" transform="rotate(30 337.7 303.9)" stroke-width="1.38" fill="#fff" />
<ellipse cx="320.6" cy="323.9" rx="1.6" ry="2.8" transform="rotate(30 320.6 323.9)" stroke-width="1.38" fill="#fff" />
<ellipse cx="301.4" cy="333.9" rx="1.6" ry="2.8" transform="rotate(30 301.4 333.9)" stroke-width="1.38" fill="#fff" />
<ellipse cx="285.3" cy="331.2" rx="1.6" ry="2.8" transform="rotate(30 285.3 331.2)" stroke-width="1.38" fill="#fff" />
<line x1="251.0" y1="184.5" x2="303.0" y2="214.5" stroke-width="1.25" />
<line x1="343.0" y1="238.0" x2="392.0" y2="266.5" stroke-width="1.25" />
<line x1="288.0" y1="274.5" x2="343.0" y2="306.0" stroke-width="1.25" />
<line x1="359.5" y1="313.5" x2="368.0" y2="318.5" stroke-width="1.25" />
<ellipse cx="300.3" cy="336.0" rx="13.3" ry="23.0" transform="rotate(-30 300.3 336.0)" stroke-width="0.12" fill="#fff" stroke="#fff"/>
<path d="M256.8,328.8 L288.8,316.1 L311.8,355.9 L284.8,377.2 Z" stroke-width="1.62" fill="#fff" />
<path d="M312.3,355.6 Q318.2,352.6 316.1,349.2" stroke-width="1.62" fill="#fff" />
<path d="M316.1,349.2 Q320.1,343.7 315.8,339.3" stroke-width="1.62" fill="#fff" />
<path d="M315.8,339.3 Q317.4,332.4 311.3,328.6" stroke-width="1.62" fill="#fff" />
<path d="M311.3,328.6 Q310.8,321.6 303.9,319.8" stroke-width="1.62" fill="#fff" />
<path d="M303.9,319.8 Q302.2,314.3 295.5,315.3" stroke-width="1.62" fill="#fff" />
<path d="M295.5,315.3 Q293.6,312.3 288.4,316.3" stroke-width="1.62" fill="#fff" />
<path d="M284.8,377.2 Q301.6,366.9 315.4,351.5" stroke-width="2.0" fill="none" />
<path d="M287.3,375.2 Q303.4,363.9 316.4,347.7" stroke-width="1.5" fill="none" />
<path d="M290.1,369.4 Q304.7,358.1 316.2,341.8" stroke-width="2.0" fill="none" />
<path d="M290.6,365.2 Q304.3,353.5 315.1,336.8" stroke-width="1.5" fill="none" />
<path d="M289.6,356.8 Q302.5,346.1 312.3,330.4" stroke-width="2.0" fill="none" />
<path d="M288.0,351.7 Q300.2,341.2 309.4,325.7" stroke-width="1.5" fill="none" />
<path d="M283.7,343.0 Q295.8,334.3 304.8,320.6" stroke-width="2.0" fill="none" />
<path d="M280.4,338.6 Q292.2,330.6 301.0,317.7" stroke-width="1.5" fill="none" />
<path d="M273.9,332.2 Q286.5,326.3 296.0,315.4" stroke-width="2.0" fill="none" />
<path d="M269.9,329.7 Q282.7,324.8 292.4,315.0" stroke-width="1.5" fill="none" />
<path d="M263.2,327.5 Q277.5,324.3 288.8,316.1" stroke-width="2.0" fill="none" />
<path d="M259.7,327.7 Q275.7,324.4 288.8,316.1" stroke-width="1.5" fill="none" />
<ellipse cx="273.8" cy="351.3" rx="16.2" ry="28.0" transform="rotate(-30 273.8 351.3)" stroke-width="1.5" fill="#fff" />
<path d="M256.5,358.1 Q258.9,362.4 261.6,366.1" stroke-width="1.62" fill="#fff" />
<path d="M264.4,369.4 Q268.6,373.7 270.9,374.8" stroke-width="1.62" fill="#fff" />
<path d="M274.1,376.5 Q279.5,379.5 280.5,378.1" stroke-width="1.62" fill="#fff" />
<path d="M283.2,377.8 Q288.9,378.5 288.0,375.0" stroke-width="1.62" fill="#fff" />
<path d="M289.6,372.8 Q294.5,370.9 291.5,366.5" stroke-width="1.62" fill="#fff" />
<path d="M291.6,362.9 Q294.9,358.5 290.2,354.5" stroke-width="1.62" fill="#fff" />
<path d="M288.7,350.4 Q290.0,344.4 284.4,342.1" stroke-width="1.62" fill="#fff" />
<path d="M281.8,338.5 Q281.0,332.1 275.5,332.2" stroke-width="1.62" fill="#fff" />
<path d="M272.3,329.9 Q270.1,324.5 265.7,327.2" stroke-width="1.62" fill="#fff" />
<path d="M262.8,326.9 Q260.1,323.5 257.4,328.5" stroke-width="1.62" fill="#fff" />
<path d="M255.4,330.2 Q253.2,329.4 252.7,335.6" stroke-width="1.62" fill="#fff" />
<ellipse cx="270.8" cy="353.0" rx="16.2" ry="28.0" transform="rotate(-30 270.8 353.0)" stroke-width="1.62" fill="#fff" />
<ellipse cx="269.8" cy="353.6" rx="13.8" ry="24.0" transform="rotate(-30 269.8 353.6)" stroke-width="1.5" fill="none" />
<ellipse cx="269.3" cy="353.9" rx="10.7" ry="18.5" transform="rotate(-30 269.3 353.9)" stroke-width="1.62" fill="#fff" />
<ellipse cx="269.1" cy="354.0" rx="8.7" ry="15.0" transform="rotate(-30 269.1 354.0)" stroke-width="1.5" fill="#fff" />
<polygon points="228.7,360.0 243.7,386.0 276.6,367.0 261.6,341.0" fill="#fff" stroke="none"/>
<line x1="228.7" y1="360.0" x2="261.6" y2="341.0" stroke-width="1.5" />
<line x1="243.7" y1="386.0" x2="276.6" y2="367.0" stroke-width="1.5" />
<ellipse cx="236.2" cy="373.0" rx="8.7" ry="15.0" transform="rotate(-30 236.2 373.0)" stroke-width="1.5" fill="#fff" />
<path d="M252.3,381.0 L253.3,380.3 L254.0,379.4 L254.6,378.3 L255.1,377.1 L255.3,375.7 L255.4,374.1 L255.3,372.5 L255.1,370.7 L254.6,369.0 L254.0,367.2 L253.2,365.4 L252.3,363.7 L251.3,362.0 L250.1,360.5 L248.9,359.0 L247.6,357.8 L246.2,356.7 L244.8,355.8 L243.4,355.1 L242.1,354.6 L240.8,354.3 L239.5,354.3 L238.4,354.6 L237.3,355.0" stroke-width="1.25" fill="none" />
<path d="M255.8,379.0 L256.7,378.3 L257.5,377.4 L258.1,376.3 L258.5,375.1 L258.8,373.7 L258.9,372.1 L258.8,370.5 L258.5,368.7 L258.1,367.0 L257.5,365.2 L256.7,363.4 L255.8,361.7 L254.8,360.0 L253.6,358.5 L252.4,357.0 L251.0,355.8 L249.7,354.7 L248.3,353.8 L246.9,353.1 L245.6,352.6 L244.2,352.3 L243.0,352.3 L241.8,352.6 L240.8,353.0" stroke-width="1.25" fill="none" />
<path d="M259.3,377.0 L260.2,376.3 L260.9,375.4 L261.6,374.3 L262.0,373.1 L262.3,371.7 L262.4,370.1 L262.3,368.5 L262.0,366.7 L261.6,365.0 L260.9,363.2 L260.2,361.4 L259.3,359.7 L258.2,358.0 L257.1,356.5 L255.8,355.0 L254.5,353.8 L253.1,352.7 L251.8,351.8 L250.4,351.1 L249.0,350.6 L247.7,350.3 L246.5,350.3 L245.3,350.6 L244.3,351.0" stroke-width="1.25" fill="none" />
<path d="M262.7,375.0 L263.6,374.3 L264.4,373.4 L265.0,372.3 L265.5,371.1 L265.7,369.7 L265.8,368.1 L265.7,366.5 L265.5,364.7 L265.0,363.0 L264.4,361.2 L263.6,359.4 L262.7,357.7 L261.7,356.0 L260.5,354.5 L259.3,353.0 L258.0,351.8 L256.6,350.7 L255.2,349.8 L253.8,349.1 L252.5,348.6 L251.2,348.3 L249.9,348.3 L248.8,348.6 L247.7,349.0" stroke-width="1.25" fill="none" />
<ellipse cx="236.2" cy="373.0" rx="8.3" ry="14.3" transform="rotate(-30 236.2 373.0)" stroke-width="1.5" fill="#fff" />
<polygon points="210.0,371.6 224.3,396.4 243.3,385.4 229.0,360.6" fill="#fff" stroke="none"/>
<line x1="210.0" y1="371.6" x2="229.0" y2="360.6" stroke-width="1.5" />
<line x1="224.3" y1="396.4" x2="243.3" y2="385.4" stroke-width="1.5" />
<ellipse cx="217.1" cy="384.0" rx="8.3" ry="14.3" transform="rotate(-30 217.1 384.0)" stroke-width="1.5" fill="#fff" />
<line x1="226.0" y1="395.3" x2="243.3" y2="385.3" stroke-width="1.88" />
<line x1="227.2" y1="393.6" x2="244.5" y2="383.6" stroke-width="1.88" />
<line x1="227.9" y1="391.3" x2="245.3" y2="381.3" stroke-width="1.88" />
<line x1="228.1" y1="388.6" x2="245.4" y2="378.6" stroke-width="1.88" />
<line x1="227.6" y1="385.6" x2="245.0" y2="375.6" stroke-width="1.88" />
<line x1="226.6" y1="382.4" x2="244.0" y2="372.4" stroke-width="1.88" />
<line x1="225.1" y1="379.4" x2="242.5" y2="369.4" stroke-width="1.88" />
<line x1="223.2" y1="376.5" x2="240.5" y2="366.5" stroke-width="1.88" />
<line x1="221.0" y1="374.1" x2="238.3" y2="364.1" stroke-width="1.88" />
<line x1="218.6" y1="372.2" x2="235.9" y2="362.2" stroke-width="1.88" />
<line x1="216.2" y1="371.0" x2="233.5" y2="361.0" stroke-width="1.88" />
<line x1="213.9" y1="370.5" x2="231.2" y2="360.5" stroke-width="1.88" />
<line x1="211.8" y1="370.7" x2="229.1" y2="360.7" stroke-width="1.88" />
<path d="M229.5,393.4 L230.3,392.7 L231.1,391.9 L231.7,390.9 L232.1,389.7 L232.3,388.3 L232.4,386.8 L232.3,385.3 L232.1,383.6 L231.7,381.9 L231.1,380.2 L230.3,378.5 L229.5,376.9 L228.5,375.3 L227.4,373.8 L226.2,372.4 L224.9,371.2 L223.6,370.2 L222.3,369.3 L221.0,368.7 L219.7,368.2 L218.4,368.0 L217.3,368.0 L216.2,368.2 L215.2,368.6" stroke-width="1.12" fill="none" />
<path d="M233.8,390.9 L234.7,390.2 L235.4,389.4 L236.0,388.4 L236.4,387.2 L236.7,385.8 L236.8,384.3 L236.7,382.8 L236.4,381.1 L236.0,379.4 L235.4,377.7 L234.7,376.0 L233.8,374.4 L232.8,372.8 L231.7,371.3 L230.5,369.9 L229.3,368.7 L228.0,367.7 L226.6,366.8 L225.3,366.2 L224.0,365.7 L222.8,365.5 L221.6,365.5 L220.5,365.7 L219.5,366.1" stroke-width="1.12" fill="none" />
<path d="M238.1,388.4 L239.0,387.7 L239.7,386.9 L240.3,385.9 L240.7,384.7 L241.0,383.3 L241.1,381.8 L241.0,380.3 L240.7,378.6 L240.3,376.9 L239.7,375.2 L239.0,373.5 L238.1,371.9 L237.1,370.3 L236.0,368.8 L234.8,367.4 L233.6,366.2 L232.3,365.2 L231.0,364.3 L229.7,363.7 L228.4,363.2 L227.1,363.0 L225.9,363.0 L224.8,363.2 L223.8,363.6" stroke-width="1.12" fill="none" />
<ellipse cx="217.1" cy="384.0" rx="6.9" ry="12.0" transform="rotate(-30 217.1 384.0)" stroke-width="1.5" fill="#fff" />
<polygon points="203.3,378.1 215.3,398.9 223.1,394.4 211.1,373.6" fill="#fff" stroke="none"/>
<line x1="203.3" y1="378.1" x2="211.1" y2="373.6" stroke-width="1.5" />
<line x1="215.3" y1="398.9" x2="223.1" y2="394.4" stroke-width="1.5" />
<ellipse cx="209.3" cy="388.5" rx="6.9" ry="12.0" transform="rotate(-30 209.3 388.5)" stroke-width="1.5" fill="#fff" />
<path d="M217.5,397.6 L218.2,397.1 L218.8,396.4 L219.3,395.5 L219.7,394.5 L219.9,393.4 L220.0,392.2 L219.9,390.8 L219.7,389.4 L219.3,388.0 L218.8,386.6 L218.2,385.2 L217.5,383.8 L216.7,382.5 L215.7,381.2 L214.7,380.1 L213.7,379.1 L212.6,378.2 L211.5,377.5 L210.4,376.9 L209.3,376.5 L208.2,376.3 L207.3,376.3 L206.3,376.5 L205.5,376.9" stroke-width="1.25" fill="none" />
<path d="M219.7,396.4 L220.4,395.9 L221.0,395.1 L221.5,394.3 L221.9,393.3 L222.1,392.1 L222.1,390.9 L222.1,389.6 L221.9,388.2 L221.5,386.8 L221.0,385.3 L220.4,383.9 L219.7,382.5 L218.8,381.2 L217.9,380.0 L216.9,378.8 L215.9,377.8 L214.8,376.9 L213.7,376.2 L212.6,375.6 L211.5,375.3 L210.4,375.1 L209.4,375.1 L208.5,375.2 L207.7,375.6" stroke-width="1.25" fill="none" />
<path d="M221.8,395.1 L222.6,394.6 L223.2,393.9 L223.7,393.0 L224.0,392.0 L224.2,390.9 L224.3,389.7 L224.2,388.3 L224.0,386.9 L223.7,385.5 L223.2,384.1 L222.6,382.7 L221.8,381.3 L221.0,380.0 L220.1,378.7 L219.1,377.6 L218.0,376.6 L216.9,375.7 L215.8,375.0 L214.7,374.4 L213.6,374.0 L212.6,373.8 L211.6,373.8 L210.7,374.0 L209.8,374.4" stroke-width="1.25" fill="none" />
<ellipse cx="209.3" cy="388.5" rx="5.2" ry="9.0" transform="rotate(-30 209.3 388.5)" stroke-width="1.62" fill="#fff" />
<polygon points="200.5,383.2 209.5,398.8 213.8,396.3 204.8,380.7" fill="#fff" stroke="none"/>
<line x1="200.5" y1="383.2" x2="204.8" y2="380.7" stroke-width="1.62" />
<line x1="209.5" y1="398.8" x2="213.8" y2="396.3" stroke-width="1.62" />
<ellipse cx="205.0" cy="391.0" rx="5.2" ry="9.0" transform="rotate(-30 205.0 391.0)" stroke-width="1.62" fill="#fff" />
<ellipse cx="205.0" cy="391.0" rx="3.2" ry="5.5" transform="rotate(-30 205.0 391.0)" stroke-width="1.62" fill="none" />
<ellipse cx="205.0" cy="391.0" rx="1.3" ry="2.2" transform="rotate(-30 205.0 391.0)" stroke-width="1.25" fill="none" />
<ellipse cx="394.9" cy="267.0" rx="2.1" ry="3.6" transform="rotate(30 394.9 267.0)" stroke-width="1.5" fill="#fff" />
<polygon points="406.1,277.6 409.7,271.4 396.7,263.9 393.1,270.1" fill="#fff" stroke="none"/>
<line x1="406.1" y1="277.6" x2="393.1" y2="270.1" stroke-width="1.5" />
<line x1="409.7" y1="271.4" x2="396.7" y2="263.9" stroke-width="1.5" />
<ellipse cx="407.9" cy="274.5" rx="2.1" ry="3.6" transform="rotate(30 407.9 274.5)" stroke-width="1.5" fill="#fff" />
<path d="M403.0,275.8 L402.4,274.9 L402.4,273.4 L403.0,271.7 L404.2,270.2 L405.5,269.5 L406.6,269.6" stroke-width="1.12" fill="none" />
<path d="M401.5,274.9 L400.8,274.0 L400.8,272.5 L401.5,270.8 L402.6,269.3 L403.9,268.6 L405.1,268.7" stroke-width="1.12" fill="none" />
<path d="M399.9,274.0 L399.2,273.1 L399.2,271.6 L399.9,269.9 L401.0,268.4 L402.4,267.7 L403.5,267.8" stroke-width="1.12" fill="none" />
<path d="M398.3,273.1 L397.7,272.2 L397.7,270.7 L398.3,269.0 L399.5,267.5 L400.8,266.8 L401.9,266.9" stroke-width="1.12" fill="none" />
<path d="M396.8,272.2 L396.1,271.3 L396.1,269.8 L396.8,268.1 L397.9,266.6 L399.2,265.9 L400.4,266.0" stroke-width="1.12" fill="none" />
<path d="M395.2,271.3 L394.6,270.4 L394.6,268.9 L395.2,267.2 L396.4,265.7 L397.7,265.0 L398.8,265.1" stroke-width="1.12" fill="none" />
<ellipse cx="407.9" cy="274.5" rx="3.5" ry="6.0" transform="rotate(30 407.9 274.5)" stroke-width="1.62" fill="#fff" />
<polygon points="411.0,283.2 417.0,272.8 410.9,269.3 404.9,279.7" fill="#fff" stroke="none"/>
<line x1="411.0" y1="283.2" x2="404.9" y2="279.7" stroke-width="1.62" />
<line x1="417.0" y1="272.8" x2="410.9" y2="269.3" stroke-width="1.62" />
<ellipse cx="414.0" cy="278.0" rx="3.5" ry="6.0" transform="rotate(30 414.0 278.0)" stroke-width="1.62" fill="#fff" />
<polygon points="395.5,356.0 414.5,323.0 386.0,306.5 367.0,339.5" fill="#fff" stroke="none"/>
<line x1="395.5" y1="356.0" x2="367.0" y2="339.5" stroke-width="1.62" />
<line x1="414.5" y1="323.0" x2="386.0" y2="306.5" stroke-width="1.62" />
<ellipse cx="376.5" cy="323.0" rx="11.0" ry="19.0" transform="rotate(30 376.5 323.0)" stroke-width="0.12" fill="#fff" stroke="#fff"/>
<path d="M367.0,339.5 L365.8,338.6 L364.8,337.5 L364.0,336.1 L363.5,334.5 L363.1,332.7 L363.0,330.8 L363.1,328.7 L363.5,326.5 L364.1,324.2 L364.8,322.0 L365.8,319.7 L367.0,317.5 L368.3,315.4 L369.7,313.4 L371.3,311.6 L373.0,310.0 L374.7,308.6 L376.5,307.5 L378.2,306.6 L379.9,306.0 L381.6,305.7 L383.2,305.7 L384.6,306.0 L386.0,306.5" stroke-width="1.88" fill="none" />
<line x1="395.0" y1="355.6" x2="366.4" y2="339.1" stroke-width="1.62" />
<line x1="393.7" y1="354.4" x2="365.2" y2="337.9" stroke-width="1.62" />
<line x1="392.8" y1="352.9" x2="364.2" y2="336.4" stroke-width="1.62" />
<line x1="392.1" y1="351.1" x2="363.5" y2="334.6" stroke-width="1.62" />
<line x1="391.7" y1="349.1" x2="363.1" y2="332.6" stroke-width="1.62" />
<line x1="391.6" y1="346.8" x2="363.0" y2="330.3" stroke-width="1.62" />
<line x1="391.8" y1="344.3" x2="363.3" y2="327.8" stroke-width="1.62" />
<line x1="392.3" y1="341.8" x2="363.8" y2="325.3" stroke-width="1.62" />
<line x1="393.1" y1="339.2" x2="364.6" y2="322.7" stroke-width="1.62" />
<line x1="394.2" y1="336.6" x2="365.6" y2="320.1" stroke-width="1.62" />
<line x1="395.5" y1="334.0" x2="367.0" y2="317.5" stroke-width="1.62" />
<line x1="397.1" y1="331.6" x2="368.5" y2="315.1" stroke-width="1.62" />
<line x1="398.8" y1="329.4" x2="370.2" y2="312.9" stroke-width="1.62" />
<line x1="400.6" y1="327.4" x2="372.1" y2="310.9" stroke-width="1.62" />
<line x1="402.6" y1="325.7" x2="374.0" y2="309.2" stroke-width="1.62" />
<line x1="404.6" y1="324.2" x2="376.0" y2="307.7" stroke-width="1.62" />
<line x1="406.6" y1="323.2" x2="378.1" y2="306.7" stroke-width="1.62" />
<line x1="408.6" y1="322.5" x2="380.0" y2="306.0" stroke-width="1.62" />
<line x1="410.5" y1="322.2" x2="382.0" y2="305.7" stroke-width="1.62" />
<line x1="412.3" y1="322.3" x2="383.7" y2="305.8" stroke-width="1.62" />
<line x1="413.9" y1="322.7" x2="385.3" y2="306.2" stroke-width="1.62" />
<path d="M392.1,354.0 L390.9,353.1 L389.9,352.0 L389.2,350.6 L388.6,349.0 L388.3,347.2 L388.1,345.3 L388.3,343.2 L388.6,341.0 L389.2,338.7 L389.9,336.5 L390.9,334.2 L392.1,332.0 L393.4,329.9 L394.9,327.9 L396.4,326.1 L398.1,324.5 L399.8,323.1 L401.6,322.0 L403.3,321.1 L405.1,320.5 L406.7,320.2 L408.3,320.2 L409.8,320.5 L411.1,321.0" stroke-width="1.12" fill="none" />
<path d="M389.5,352.5 L388.3,351.6 L387.3,350.5 L386.6,349.1 L386.0,347.5 L385.7,345.7 L385.5,343.8 L385.7,341.7 L386.0,339.5 L386.6,337.2 L387.3,335.0 L388.3,332.7 L389.5,330.5 L390.8,328.4 L392.3,326.4 L393.8,324.6 L395.5,323.0 L397.2,321.6 L399.0,320.5 L400.7,319.6 L402.5,319.0 L404.1,318.7 L405.7,318.7 L407.2,319.0 L408.5,319.5" stroke-width="1.12" fill="none" />
<path d="M386.9,351.0 L385.7,350.1 L384.7,349.0 L384.0,347.6 L383.4,346.0 L383.1,344.2 L382.9,342.3 L383.1,340.2 L383.4,338.0 L384.0,335.7 L384.7,333.5 L385.7,331.2 L386.9,329.0 L388.2,326.9 L389.7,324.9 L391.2,323.1 L392.9,321.5 L394.6,320.1 L396.4,319.0 L398.1,318.1 L399.9,317.5 L401.5,317.2 L403.1,317.2 L404.6,317.5 L405.9,318.0" stroke-width="1.12" fill="none" />
<path d="M384.3,349.5 L383.1,348.6 L382.1,347.5 L381.4,346.1 L380.8,344.5 L380.5,342.7 L380.3,340.8 L380.5,338.7 L380.8,336.5 L381.4,334.2 L382.1,332.0 L383.1,329.7 L384.3,327.5 L385.6,325.4 L387.1,323.4 L388.6,321.6 L390.3,320.0 L392.0,318.6 L393.8,317.5 L395.5,316.6 L397.3,316.0 L398.9,315.7 L400.5,315.7 L402.0,316.0 L403.3,316.5" stroke-width="1.12" fill="none" />
<path d="M381.7,348.0 L380.5,347.1 L379.5,346.0 L378.8,344.6 L378.2,343.0 L377.9,341.2 L377.7,339.3 L377.9,337.2 L378.2,335.0 L378.8,332.7 L379.6,330.5 L380.5,328.2 L381.7,326.0 L383.0,323.9 L384.5,321.9 L386.0,320.1 L387.7,318.5 L389.4,317.1 L391.2,316.0 L392.9,315.1 L394.7,314.5 L396.3,314.2 L397.9,314.2 L399.4,314.5 L400.7,315.0" stroke-width="1.12" fill="none" />
<path d="M379.1,346.5 L377.9,345.6 L376.9,344.5 L376.2,343.1 L375.6,341.5 L375.3,339.7 L375.2,337.8 L375.3,335.7 L375.6,333.5 L376.2,331.2 L377.0,329.0 L377.9,326.7 L379.1,324.5 L380.4,322.4 L381.9,320.4 L383.4,318.6 L385.1,317.0 L386.8,315.6 L388.6,314.5 L390.3,313.6 L392.1,313.0 L393.7,312.7 L395.3,312.7 L396.8,313.0 L398.1,313.5" stroke-width="1.12" fill="none" />
<path d="M376.5,345.0 L375.3,344.1 L374.4,343.0 L373.6,341.6 L373.0,340.0 L372.7,338.2 L372.6,336.3 L372.7,334.2 L373.0,332.0 L373.6,329.7 L374.4,327.5 L375.3,325.2 L376.5,323.0 L377.8,320.9 L379.3,318.9 L380.8,317.1 L382.5,315.5 L384.2,314.1 L386.0,313.0 L387.7,312.1 L389.5,311.5 L391.1,311.2 L392.7,311.2 L394.2,311.5 L395.5,312.0" stroke-width="1.12" fill="none" />
<path d="M373.9,343.5 L372.7,342.6 L371.8,341.5 L371.0,340.1 L370.4,338.5 L370.1,336.7 L370.0,334.8 L370.1,332.7 L370.4,330.5 L371.0,328.2 L371.8,326.0 L372.7,323.7 L373.9,321.5 L375.2,319.4 L376.7,317.4 L378.3,315.6 L379.9,314.0 L381.6,312.6 L383.4,311.5 L385.1,310.6 L386.9,310.0 L388.5,309.7 L390.1,309.7 L391.6,310.0 L392.9,310.5" stroke-width="1.12" fill="none" />
<path d="M371.3,342.0 L370.1,341.1 L369.2,340.0 L368.4,338.6 L367.8,337.0 L367.5,335.2 L367.4,333.3 L367.5,331.2 L367.8,329.0 L368.4,326.7 L369.2,324.5 L370.1,322.2 L371.3,320.0 L372.6,317.9 L374.1,315.9 L375.7,314.1 L377.3,312.5 L379.0,311.1 L380.8,310.0 L382.5,309.1 L384.3,308.5 L385.9,308.2 L387.5,308.2 L389.0,308.5 L390.3,309.0" stroke-width="1.12" fill="none" />
<path d="M368.7,340.5 L367.5,339.6 L366.6,338.5 L365.8,337.1 L365.2,335.5 L364.9,333.7 L364.8,331.8 L364.9,329.7 L365.2,327.5 L365.8,325.2 L366.6,323.0 L367.5,320.7 L368.7,318.5 L370.0,316.4 L371.5,314.4 L373.1,312.6 L374.7,311.0 L376.4,309.6 L378.2,308.5 L379.9,307.6 L381.7,307.0 L383.3,306.7 L384.9,306.7 L386.4,307.0 L387.7,307.5" stroke-width="1.12" fill="none" />
<ellipse cx="405.0" cy="339.5" rx="14.4" ry="25.0" transform="rotate(30 405.0 339.5)" stroke-width="1.62" fill="#fff" />
<polygon points="396.0,363.1 421.0,319.9 417.5,317.9 392.5,361.1" fill="#fff" stroke="none"/>
<line x1="396.0" y1="363.1" x2="392.5" y2="361.1" stroke-width="1.62" />
<line x1="421.0" y1="319.9" x2="417.5" y2="317.9" stroke-width="1.62" />
<ellipse cx="408.5" cy="341.5" rx="14.4" ry="25.0" transform="rotate(30 408.5 341.5)" stroke-width="1.62" fill="#fff" />
<ellipse cx="408.5" cy="341.5" rx="10.4" ry="18.0" transform="rotate(30 408.5 341.5)" stroke-width="1.5" fill="none" />
<ellipse cx="408.5" cy="341.5" rx="6.3" ry="11.0" transform="rotate(30 408.5 341.5)" stroke-width="1.5" fill="none" />
<line x1="417.5" y1="325.9" x2="421.6" y2="321.5" stroke-width="1.38" />
<line x1="420.0" y1="328.6" x2="424.5" y2="325.8" stroke-width="1.38" />
<line x1="421.2" y1="332.9" x2="425.5" y2="331.9" stroke-width="1.38" />
<line x1="420.8" y1="338.2" x2="424.4" y2="339.3" stroke-width="1.38" />
<line x1="418.9" y1="343.9" x2="421.4" y2="346.9" stroke-width="1.38" />
<line x1="415.8" y1="349.3" x2="416.8" y2="353.8" stroke-width="1.38" />
<line x1="411.8" y1="353.8" x2="411.2" y2="359.3" stroke-width="1.38" />
<line x1="407.4" y1="356.8" x2="405.3" y2="362.6" stroke-width="1.38" />
<line x1="403.1" y1="357.9" x2="399.8" y2="363.3" stroke-width="1.38" />
<line x1="399.5" y1="357.1" x2="395.4" y2="361.5" stroke-width="1.38" />
<line x1="397.0" y1="354.4" x2="392.5" y2="357.2" stroke-width="1.38" />
<line x1="395.8" y1="350.1" x2="391.5" y2="351.1" stroke-width="1.38" />
<line x1="396.2" y1="344.8" x2="392.6" y2="343.7" stroke-width="1.38" />
<line x1="398.1" y1="339.1" x2="395.6" y2="336.1" stroke-width="1.38" />
<line x1="401.2" y1="333.7" x2="400.2" y2="329.2" stroke-width="1.38" />
<line x1="405.2" y1="329.2" x2="405.8" y2="323.7" stroke-width="1.38" />
<line x1="409.6" y1="326.2" x2="411.7" y2="320.4" stroke-width="1.38" />
<line x1="413.9" y1="325.1" x2="417.2" y2="319.7" stroke-width="1.38" />
<ellipse cx="438.2" cy="358.8" rx="16.2" ry="28.0" transform="rotate(30 438.2 358.8)" stroke-width="1.62" fill="#fff" />
<polygon points="425.5,383.7 453.5,335.3 452.2,334.5 424.2,383.0" fill="#fff" stroke="none"/>
<line x1="425.5" y1="383.7" x2="424.2" y2="383.0" stroke-width="1.62" />
<line x1="453.5" y1="335.3" x2="452.2" y2="334.5" stroke-width="1.62" />
<ellipse cx="439.5" cy="359.5" rx="16.2" ry="28.0" transform="rotate(30 439.5 359.5)" stroke-width="1.62" fill="#fff" />
<ellipse cx="439.5" cy="359.5" rx="9.8" ry="17.0" transform="rotate(30 439.5 359.5)" stroke-width="1.62" fill="none" />
<line x1="430.5" y1="354.3" x2="450.0" y2="365.6" stroke-width="1.25" />
<ellipse cx="469.5" cy="377.0" rx="17.3" ry="30.0" transform="rotate(30 469.5 377.0)" stroke-width="1.5" fill="#fff" />
<ellipse cx="473.0" cy="379.0" rx="17.3" ry="30.0" transform="rotate(30 473.0 379.0)" stroke-width="1.5" fill="#fff" />
<path d="M485.7,377.1 L488.0,353.0 L485.3,351.5" stroke-width="1.5" fill="none" />
<line x1="486.1" y1="377.4" x2="489.4" y2="354.7" stroke-width="1.12" />
<path d="M486.6,378.0 L491.6,356.5 L488.6,355.3" stroke-width="1.5" fill="none" />
<line x1="486.9" y1="378.5" x2="492.3" y2="359.0" stroke-width="1.12" />
<path d="M487.2,379.4 L493.7,361.8 L490.5,360.9" stroke-width="1.5" fill="none" />
<line x1="487.3" y1="380.1" x2="493.7" y2="364.8" stroke-width="1.12" />
<path d="M487.3,381.2 L494.2,368.5 L490.6,367.8" stroke-width="1.5" fill="none" />
<line x1="487.2" y1="382.0" x2="493.4" y2="371.8" stroke-width="1.12" />
<path d="M487.0,383.2 L492.9,376.1 L489.0,375.4" stroke-width="1.5" fill="none" />
<line x1="486.7" y1="384.1" x2="491.5" y2="379.4" stroke-width="1.12" />
<path d="M486.2,385.3 L490.0,383.9 L485.9,383.2" stroke-width="1.5" fill="none" />
<line x1="485.7" y1="386.1" x2="488.0" y2="386.9" stroke-width="1.12" />
<path d="M485.0,387.3 L485.7,391.3 L481.4,390.5" stroke-width="1.5" fill="none" />
<line x1="484.5" y1="388.0" x2="483.4" y2="393.8" stroke-width="1.12" />
<path d="M483.6,389.0 L480.4,397.7 L475.9,396.6" stroke-width="1.5" fill="none" />
<line x1="483.0" y1="389.6" x2="477.9" y2="399.5" stroke-width="1.12" />
<path d="M482.1,390.3 L474.5,402.6 L470.0,401.2" stroke-width="1.5" fill="none" />
<line x1="481.4" y1="390.7" x2="472.0" y2="403.6" stroke-width="1.12" />
<path d="M480.5,391.1 L468.5,405.5 L464.0,403.8" stroke-width="1.5" fill="none" />
<line x1="479.8" y1="391.2" x2="466.2" y2="405.6" stroke-width="1.12" />
<path d="M478.9,391.3 L462.8,406.4 L458.4,404.3" stroke-width="1.5" fill="none" />
<line x1="478.4" y1="391.2" x2="460.9" y2="405.5" stroke-width="1.12" />
<path d="M477.7,390.9 L458.0,405.0 L453.8,402.5" stroke-width="1.5" fill="none" />
<line x1="477.2" y1="390.6" x2="456.6" y2="403.3" stroke-width="1.12" />
<path d="M476.7,390.0 L454.4,401.5 L450.4,398.7" stroke-width="1.5" fill="none" />
<line x1="476.4" y1="389.5" x2="453.7" y2="399.0" stroke-width="1.12" />
<path d="M476.1,388.6 L452.3,396.2 L448.6,393.1" stroke-width="1.5" fill="none" />
<line x1="476.0" y1="387.9" x2="452.3" y2="393.2" stroke-width="1.12" />
<path d="M476.0,386.8 L451.8,389.5 L448.5,386.2" stroke-width="1.5" fill="none" />
<line x1="476.1" y1="386.0" x2="452.6" y2="386.2" stroke-width="1.12" />
<path d="M476.4,384.8 L453.1,381.9 L450.1,378.6" stroke-width="1.5" fill="none" />
<line x1="476.6" y1="383.9" x2="454.5" y2="378.6" stroke-width="1.12" />
<path d="M477.1,382.7 L456.0,374.1 L453.2,370.8" stroke-width="1.5" fill="none" />
<line x1="477.6" y1="381.9" x2="458.0" y2="371.1" stroke-width="1.12" />
<path d="M478.3,380.7 L460.3,366.7 L457.7,363.5" stroke-width="1.5" fill="none" />
<line x1="478.8" y1="380.0" x2="462.6" y2="364.2" stroke-width="1.12" />
<path d="M479.7,379.0 L465.6,360.3 L463.1,357.4" stroke-width="1.5" fill="none" />
<line x1="480.3" y1="378.4" x2="468.1" y2="358.5" stroke-width="1.12" />
<path d="M481.3,377.7 L471.5,355.4 L469.1,352.8" stroke-width="1.5" fill="none" />
<line x1="481.9" y1="377.3" x2="474.0" y2="354.4" stroke-width="1.12" />
<path d="M482.9,376.9 L477.5,352.5 L475.1,350.2" stroke-width="1.5" fill="none" />
<line x1="483.5" y1="376.8" x2="479.8" y2="352.4" stroke-width="1.12" />
<path d="M484.4,376.7 L483.2,351.6 L480.6,349.7" stroke-width="1.5" fill="none" />
<line x1="484.9" y1="376.8" x2="485.1" y2="352.5" stroke-width="1.12" />
<ellipse cx="481.7" cy="384.0" rx="4.6" ry="8.0" transform="rotate(30 481.7 384.0)" stroke-width="1.5" fill="#fff" />
<ellipse cx="481.7" cy="384.0" rx="2.3" ry="4.0" transform="rotate(30 481.7 384.0)" stroke-width="1.5" fill="none" />
<path d="M511.5,368.5 L511.5,442.5 A5.5,3 0 0 0 522.5,442.5 L522.5,368.5 Z" stroke-width="1.62" fill="#fff" />
<ellipse cx="517" cy="368.5" rx="5.5" ry="3" fill="#fff" stroke-width="1.3"/>
<ellipse cx="517" cy="368.5" rx="2" ry="1" stroke-width="1"/>
<path d="M486.7,428.3 L552.7,390.3 L547.3,380.7 L481.3,418.7 Z" stroke-width="1.62" fill="#fff" />
<ellipse cx="549.0" cy="386.0" rx="3.2" ry="5.5" transform="rotate(-30 549.0 386.0)" stroke-width="1.62" fill="#fff" />
<ellipse cx="484.0" cy="423.5" rx="3.2" ry="5.5" transform="rotate(-30 484.0 423.5)" stroke-width="1.62" fill="#fff" />
<ellipse cx="484.0" cy="423.5" rx="1.3" ry="2.2" transform="rotate(-30 484.0 423.5)" stroke-width="1.25" fill="none" />
<path d="M504,396.5 L511.5,390.5 L522.5,390.5 L533,398.5 L533,412.5 L523,420.5 L511.5,420.5 L504,412.5 Z" stroke-width="1.62" fill="#fff" />
<ellipse cx="524.0" cy="408.5" rx="4.3" ry="7.5" transform="rotate(30 524.0 408.5)" stroke-width="1.75" fill="#fff" />
<ellipse cx="524.0" cy="408.5" rx="2.2" ry="3.8" transform="rotate(30 524.0 408.5)" stroke-width="1.5" fill="none" />
<line x1="507.0" y1="398.5" x2="514.0" y2="403.5" stroke-width="1.25" />
<ellipse cx="568.5" cy="371.0" rx="9.8" ry="17.0" transform="rotate(-30 568.5 371.0)" stroke-width="1.62" fill="#fff" />
<ellipse cx="565.0" cy="373.0" rx="9.8" ry="17.0" transform="rotate(-30 565.0 373.0)" stroke-width="1.62" fill="#fff" />
<path d="M561.7,381.3 L573.5,387.7 L577.4,385.5" stroke-width="1.62" fill="none" />
<line x1="562.0" y1="381.0" x2="574.3" y2="386.7" stroke-width="1.12" />
<path d="M562.7,379.8 L576.6,383.3 L580.2,380.7" stroke-width="1.62" fill="none" />
<line x1="562.8" y1="379.4" x2="576.7" y2="381.7" stroke-width="1.12" />
<path d="M562.7,377.5 L576.6,376.1 L579.9,373.3" stroke-width="1.62" fill="none" />
<line x1="562.5" y1="376.9" x2="575.9" y2="374.2" stroke-width="1.12" />
<path d="M561.7,374.9 L573.5,368.1 L576.5,365.4" stroke-width="1.62" fill="none" />
<line x1="561.3" y1="374.4" x2="572.3" y2="366.5" stroke-width="1.12" />
<path d="M559.9,372.7 L568.1,361.4 L571.0,358.9" stroke-width="1.62" fill="none" />
<line x1="559.5" y1="372.4" x2="566.7" y2="360.5" stroke-width="1.12" />
<path d="M557.9,371.6 L561.9,357.8 L564.8,355.7" stroke-width="1.62" fill="none" />
<line x1="557.5" y1="371.5" x2="560.6" y2="357.8" stroke-width="1.12" />
<path d="M556.2,371.7 L556.5,358.3 L559.6,356.5" stroke-width="1.62" fill="none" />
<line x1="555.9" y1="372.0" x2="555.7" y2="359.3" stroke-width="1.12" />
<path d="M555.2,373.2 L553.4,362.7 L556.7,361.3" stroke-width="1.62" fill="none" />
<line x1="555.1" y1="373.6" x2="553.3" y2="364.3" stroke-width="1.12" />
<path d="M555.2,375.5 L553.4,369.9 L557.0,368.7" stroke-width="1.62" fill="none" />
<line x1="555.3" y1="376.1" x2="554.1" y2="371.8" stroke-width="1.12" />
<path d="M556.2,378.1 L556.5,377.9 L560.4,376.6" stroke-width="1.62" fill="none" />
<line x1="556.5" y1="378.6" x2="557.7" y2="379.5" stroke-width="1.12" />
<path d="M557.9,380.3 L561.9,384.6 L565.9,383.1" stroke-width="1.62" fill="none" />
<line x1="558.4" y1="380.6" x2="563.3" y2="385.5" stroke-width="1.12" />
<path d="M559.9,381.4 L568.1,388.2 L572.2,386.3" stroke-width="1.62" fill="none" />
<line x1="560.4" y1="381.5" x2="569.4" y2="388.2" stroke-width="1.12" />
<ellipse cx="558.9" cy="376.5" rx="3.2" ry="5.5" transform="rotate(-30 558.9 376.5)" stroke-width="1.62" fill="#fff" />
<ellipse cx="558.9" cy="376.5" rx="1.6" ry="2.8" transform="rotate(-30 558.9 376.5)" stroke-width="1.62" fill="none" />
<ellipse cx="586.7" cy="359.5" rx="9.5" ry="16.5" transform="rotate(-30 586.7 359.5)" stroke-width="1.62" fill="#fff" />
<polygon points="577.5,345.7 594.0,374.3 594.9,373.8 578.4,345.2" fill="#fff" stroke="none"/>
<line x1="577.5" y1="345.7" x2="578.4" y2="345.2" stroke-width="1.62" />
<line x1="594.0" y1="374.3" x2="594.9" y2="373.8" stroke-width="1.62" />
<ellipse cx="585.8" cy="360.0" rx="9.5" ry="16.5" transform="rotate(-30 585.8 360.0)" stroke-width="1.62" fill="#fff" />
<ellipse cx="585.8" cy="360.0" rx="3.2" ry="5.5" transform="rotate(-30 585.8 360.0)" stroke-width="1.62" fill="none" />
<ellipse cx="546.8" cy="422.0" rx="16.7" ry="29.0" transform="rotate(30 546.8 422.0)" stroke-width="1.5" fill="#fff" />
<ellipse cx="552.0" cy="425.0" rx="15.6" ry="27.0" transform="rotate(30 552.0 425.0)" stroke-width="1.5" fill="#fff" />
<path d="M567.0,406.1 L565.5,401.6 L560.7,396.6" stroke-width="1.5" fill="none" />
<path d="M568.9,410.3 L568.7,404.8 L564.4,399.7" stroke-width="1.5" fill="none" />
<path d="M569.4,415.7 L570.6,409.6 L566.6,404.6" stroke-width="1.5" fill="none" />
<path d="M568.5,421.8 L571.0,415.6 L567.3,410.9" stroke-width="1.5" fill="none" />
<path d="M566.3,428.2 L569.9,422.4 L566.3,418.1" stroke-width="1.5" fill="none" />
<path d="M562.9,434.4 L567.3,429.4 L563.7,425.7" stroke-width="1.5" fill="none" />
<path d="M558.7,439.7 L563.4,436.0 L559.7,432.9" stroke-width="1.5" fill="none" />
<path d="M553.9,443.9 L558.7,441.8 L554.7,439.3" stroke-width="1.5" fill="none" />
<path d="M548.9,446.6 L553.4,446.2 L549.1,444.2" stroke-width="1.5" fill="none" />
<path d="M544.2,447.5 L547.9,448.9 L543.2,447.4" stroke-width="1.5" fill="none" />
<path d="M540.1,446.6 L542.9,449.6 L537.7,448.5" stroke-width="1.5" fill="none" />
<path d="M537.0,443.9 L538.5,448.4 L532.9,447.4" stroke-width="1.5" fill="none" />
<path d="M535.1,439.7 L535.3,445.2 L529.2,444.3" stroke-width="1.5" fill="none" />
<path d="M534.6,434.3 L533.4,440.4 L527.0,439.4" stroke-width="1.5" fill="none" />
<path d="M535.5,428.2 L533.0,434.4 L526.3,433.1" stroke-width="1.5" fill="none" />
<path d="M537.7,421.8 L534.1,427.6 L527.3,425.9" stroke-width="1.5" fill="none" />
<path d="M541.1,415.6 L536.7,420.6 L529.9,418.3" stroke-width="1.5" fill="none" />
<path d="M545.3,410.3 L540.6,414.0 L533.9,411.1" stroke-width="1.5" fill="none" />
<path d="M550.1,406.1 L545.3,408.2 L538.9,404.7" stroke-width="1.5" fill="none" />
<path d="M555.1,403.4 L550.6,403.8 L544.5,399.8" stroke-width="1.5" fill="none" />
<path d="M559.8,402.5 L556.1,401.1 L550.4,396.6" stroke-width="1.5" fill="none" />
<path d="M563.9,403.4 L561.1,400.4 L555.9,395.5" stroke-width="1.5" fill="none" />
<ellipse cx="552.0" cy="425.0" rx="14.2" ry="24.6" transform="rotate(30 552.0 425.0)" stroke-width="1.5" fill="#fff" />
<ellipse cx="550.3" cy="424.0" rx="11.5" ry="20.0" transform="rotate(30 550.3 424.0)" stroke-width="1.62" fill="#fff" />
<polygon points="549.0,446.3 569.0,411.7 560.3,406.7 540.3,441.3" fill="#fff" stroke="none"/>
<line x1="549.0" y1="446.3" x2="540.3" y2="441.3" stroke-width="1.62" />
<line x1="569.0" y1="411.7" x2="560.3" y2="406.7" stroke-width="1.62" />
<ellipse cx="559.0" cy="429.0" rx="11.5" ry="20.0" transform="rotate(30 559.0 429.0)" stroke-width="1.62" fill="#fff" />
<ellipse cx="559.0" cy="429.0" rx="8.1" ry="14.0" transform="rotate(30 559.0 429.0)" stroke-width="1.62" fill="none" />
<line x1="554.5" y1="421.4" x2="548.5" y2="417.9" stroke-width="1.75" />
<line x1="557.5" y1="418.6" x2="551.5" y2="415.1" stroke-width="1.75" />
<line x1="560.6" y1="416.8" x2="554.6" y2="413.3" stroke-width="1.75" />
<line x1="563.5" y1="416.2" x2="557.5" y2="412.7" stroke-width="1.75" />
<line x1="566.0" y1="416.9" x2="560.0" y2="413.4" stroke-width="1.75" />
<line x1="567.8" y1="418.7" x2="561.8" y2="415.2" stroke-width="1.75" />
<line x1="568.8" y1="421.6" x2="562.8" y2="418.1" stroke-width="1.75" />
<line x1="568.8" y1="425.1" x2="562.8" y2="421.6" stroke-width="1.75" />
<line x1="567.8" y1="429.1" x2="561.8" y2="425.6" stroke-width="1.75" />
<line x1="528.0" y1="411.0" x2="546.0" y2="421.5" stroke-width="1.25" />
<ellipse cx="586.2" cy="443.2" rx="16.2" ry="28.0" transform="rotate(30 586.2 443.2)" stroke-width="1.62" fill="#fff" />
<polygon points="573.5,468.2 601.5,419.8 600.2,419.0 572.2,467.5" fill="#fff" stroke="none"/>
<line x1="573.5" y1="468.2" x2="572.2" y2="467.5" stroke-width="1.62" />
<line x1="601.5" y1="419.8" x2="600.2" y2="419.0" stroke-width="1.62" />
<ellipse cx="587.5" cy="444.0" rx="16.2" ry="28.0" transform="rotate(30 587.5 444.0)" stroke-width="1.62" fill="#fff" />
<ellipse cx="587.5" cy="444.0" rx="9.8" ry="17.0" transform="rotate(30 587.5 444.0)" stroke-width="1.62" fill="none" />
<line x1="579.0" y1="439.1" x2="596.0" y2="448.9" stroke-width="1.25" />
<ellipse cx="689.4" cy="458.5" rx="1.7" ry="3.0" transform="rotate(30 689.4 458.5)" stroke-width="1.5" fill="#fff" />
<polygon points="712.2,475.1 715.2,469.9 690.9,455.9 687.9,461.1" fill="#fff" stroke="none"/>
<line x1="712.2" y1="475.1" x2="687.9" y2="461.1" stroke-width="1.5" />
<line x1="715.2" y1="469.9" x2="690.9" y2="455.9" stroke-width="1.5" />
<ellipse cx="713.7" cy="472.5" rx="1.7" ry="3.0" transform="rotate(30 713.7 472.5)" stroke-width="1.5" fill="#fff" />
<path d="M709.1,473.3 L708.5,472.5 L708.5,471.2 L709.1,469.8 L710.0,468.7 L711.1,468.0 L712.1,468.1" stroke-width="1.12" fill="none" />
<path d="M707.5,472.4 L706.9,471.6 L706.9,470.3 L707.5,468.9 L708.4,467.8 L709.5,467.1 L710.5,467.2" stroke-width="1.12" fill="none" />
<path d="M705.9,471.5 L705.4,470.7 L705.4,469.4 L705.9,468.0 L706.9,466.9 L708.0,466.2 L708.9,466.3" stroke-width="1.12" fill="none" />
<path d="M704.4,470.6 L703.8,469.8 L703.8,468.5 L704.4,467.1 L705.3,466.0 L706.4,465.3 L707.4,465.4" stroke-width="1.12" fill="none" />
<path d="M702.8,469.7 L702.3,468.9 L702.3,467.6 L702.8,466.2 L703.8,465.1 L704.9,464.4 L705.8,464.5" stroke-width="1.12" fill="none" />
<path d="M701.3,468.8 L700.7,468.0 L700.7,466.7 L701.3,465.3 L702.2,464.2 L703.3,463.5 L704.3,463.6" stroke-width="1.12" fill="none" />
<path d="M699.7,467.9 L699.2,467.1 L699.2,465.8 L699.7,464.4 L700.7,463.3 L701.7,462.6 L702.7,462.7" stroke-width="1.12" fill="none" />
<path d="M698.1,467.0 L697.6,466.2 L697.6,464.9 L698.1,463.5 L699.1,462.4 L700.2,461.7 L701.1,461.8" stroke-width="1.12" fill="none" />
<path d="M696.6,466.1 L696.0,465.3 L696.0,464.0 L696.6,462.6 L697.5,461.5 L698.6,460.8 L699.6,460.9" stroke-width="1.12" fill="none" />
<path d="M695.0,465.2 L694.5,464.4 L694.5,463.1 L695.0,461.7 L696.0,460.6 L697.1,459.9 L698.0,460.0" stroke-width="1.12" fill="none" />
<path d="M693.5,464.3 L692.9,463.5 L692.9,462.2 L693.5,460.8 L694.4,459.7 L695.5,459.0 L696.5,459.1" stroke-width="1.12" fill="none" />
<path d="M691.9,463.4 L691.4,462.6 L691.4,461.3 L691.9,459.9 L692.9,458.8 L694.0,458.1 L694.9,458.2" stroke-width="1.12" fill="none" />
<path d="M690.3,462.5 L689.8,461.7 L689.8,460.4 L690.3,459.0 L691.3,457.9 L692.4,457.2 L693.3,457.3" stroke-width="1.12" fill="none" />
<ellipse cx="713.7" cy="472.5" rx="2.6" ry="4.5" transform="rotate(30 713.7 472.5)" stroke-width="1.62" fill="#fff" />
<polygon points="715.8,478.9 720.2,471.1 715.9,468.6 711.4,476.4" fill="#fff" stroke="none"/>
<line x1="715.8" y1="478.9" x2="711.4" y2="476.4" stroke-width="1.62" />
<line x1="720.2" y1="471.1" x2="715.9" y2="468.6" stroke-width="1.62" />
<ellipse cx="718.0" cy="475.0" rx="2.6" ry="4.5" transform="rotate(30 718.0 475.0)" stroke-width="1.62" fill="#fff" />
<ellipse cx="678.0" cy="455.0" rx="2.9" ry="5.0" transform="rotate(30 678.0 455.0)" stroke-width="2.8" fill="#fff" />
<polygon points="746.6,551.5 757.6,532.5 693.5,495.5 682.5,514.5" fill="#fff" stroke="none"/>
<line x1="746.6" y1="551.5" x2="682.5" y2="514.5" stroke-width="1.25" />
<line x1="757.6" y1="532.5" x2="693.5" y2="495.5" stroke-width="1.25" />
<path d="M682.5,514.5 L681.8,514.0 L681.3,513.4 L680.8,512.6 L680.5,511.7 L680.3,510.6 L680.2,509.5 L680.3,508.3 L680.5,507.0 L680.8,505.7 L681.3,504.4 L681.8,503.1 L682.5,501.8 L683.3,500.6 L684.1,499.5 L685.0,498.4 L686.0,497.5 L687.0,496.7 L688.0,496.0 L689.0,495.5 L690.0,495.2 L691.0,495.0 L691.9,495.0 L692.7,495.1 L693.5,495.5" stroke-width="1.62" fill="none" />
<path d="M746.6,551.5 C753.6,550.5 757.1,539.0 755.1,543.0 S763.6,538.5 757.6,532.5" stroke-width="1.25" fill="#fff" />
<path d="M755.0,531.5 L755.3,532.3 L755.6,533.1 L755.8,534.1 L755.9,535.1 L755.8,536.2 L755.7,537.3 L755.4,538.5 L755.0,539.7 L754.6,540.9 L754.0,542.0 L753.4,543.2 L752.7,544.3 L751.9,545.3 L751.1,546.2 L750.2,547.1 L749.3,547.8 L748.4,548.5 L747.5,549.0 L746.6,549.4 L745.7,549.6 L744.8,549.7 L744.0,549.7 L743.3,549.5 L742.6,549.2" stroke-width="1.25" fill="none" />
<path d="M703.3,526.5 L702.6,526.0 L702.0,525.4 L701.6,524.6 L701.3,523.7 L701.1,522.6 L701.0,521.5 L701.1,520.3 L701.3,519.0 L701.6,517.7 L702.1,516.4 L702.6,515.1 L703.3,513.8 L704.1,512.6 L704.9,511.5 L705.8,510.4 L706.8,509.5 L707.8,508.7 L708.8,508.0 L709.8,507.5 L710.8,507.2 L711.8,507.0 L712.7,507.0 L713.5,507.1 L714.3,507.5" stroke-width="1.25" fill="none" />
<path d="M708.5,529.5 L707.8,529.0 L707.2,528.4 L706.8,527.6 L706.5,526.7 L706.3,525.6 L706.2,524.5 L706.3,523.3 L706.5,522.0 L706.8,520.7 L707.2,519.4 L707.8,518.1 L708.5,516.8 L709.2,515.6 L710.1,514.5 L711.0,513.4 L712.0,512.5 L713.0,511.7 L714.0,511.0 L715.0,510.5 L716.0,510.2 L717.0,510.0 L717.9,510.0 L718.7,510.1 L719.5,510.5" stroke-width="1.25" fill="none" />
<path d="M724.1,538.5 L723.4,538.0 L722.8,537.4 L722.4,536.6 L722.1,535.7 L721.9,534.6 L721.8,533.5 L721.9,532.3 L722.1,531.0 L722.4,529.7 L722.8,528.4 L723.4,527.1 L724.1,525.8 L724.8,524.6 L725.7,523.5 L726.6,522.4 L727.6,521.5 L728.6,520.7 L729.6,520.0 L730.6,519.5 L731.6,519.2 L732.5,519.0 L733.5,519.0 L734.3,519.1 L735.1,519.5" stroke-width="1.25" fill="none" />
<line x1="681.3" y1="513.4" x2="702.1" y2="525.4" stroke-width="2.0" />
<line x1="680.4" y1="511.2" x2="701.2" y2="523.2" stroke-width="2.0" />
<line x1="680.3" y1="508.3" x2="701.1" y2="520.3" stroke-width="2.0" />
<line x1="681.0" y1="505.1" x2="701.8" y2="517.1" stroke-width="2.0" />
<line x1="682.5" y1="501.8" x2="703.3" y2="513.8" stroke-width="2.0" />
<line x1="684.6" y1="498.9" x2="705.4" y2="510.9" stroke-width="2.0" />
<line x1="687.0" y1="496.7" x2="707.8" y2="508.7" stroke-width="2.0" />
<line x1="689.6" y1="495.3" x2="710.4" y2="507.3" stroke-width="2.0" />
<line x1="692.0" y1="495.0" x2="712.7" y2="507.0" stroke-width="2.0" />
<ellipse cx="629.0" cy="471.0" rx="26.5" ry="46.0" transform="rotate(30 629.0 471.0)" stroke-width="1.62" fill="#fff" />
<circle cx="612.4" cy="448.3" r="2.6" fill="#fff" stroke-width="1.2"/>
<circle cx="601.5" cy="507.0" r="2.6" fill="#fff" stroke-width="1.2"/>
<circle cx="636.8" cy="502.9" r="2.6" fill="#fff" stroke-width="1.2"/>
<circle cx="660.9" cy="459.8" r="2.6" fill="#fff" stroke-width="1.2"/>
<ellipse cx="634.0" cy="474.0" rx="24.2" ry="42.0" transform="rotate(30 634.0 474.0)" stroke-width="1.5" fill="#fff" />
<ellipse cx="652.7" cy="443.3" rx="2.0" ry="3.4" transform="rotate(30 652.7 443.3)" stroke-width="1.5" fill="#fff" />
<polygon points="654.0,448.0 657.4,442.1 654.4,440.3 651.0,446.2" fill="#fff" stroke="none"/>
<line x1="654.0" y1="448.0" x2="651.0" y2="446.2" stroke-width="1.5" />
<line x1="657.4" y1="442.1" x2="654.4" y2="440.3" stroke-width="1.5" />
<ellipse cx="655.7" cy="445.0" rx="2.0" ry="3.4" transform="rotate(30 655.7 445.0)" stroke-width="1.5" fill="#fff" />
<line x1="655.7" y1="445.0" x2="660.5" y2="442.9" stroke-width="1.12" />
<ellipse cx="658.1" cy="454.0" rx="2.0" ry="3.4" transform="rotate(30 658.1 454.0)" stroke-width="1.5" fill="#fff" />
<polygon points="659.4,458.7 662.8,452.8 659.8,451.1 656.4,457.0" fill="#fff" stroke="none"/>
<line x1="659.4" y1="458.7" x2="656.4" y2="457.0" stroke-width="1.5" />
<line x1="662.8" y1="452.8" x2="659.8" y2="451.1" stroke-width="1.5" />
<ellipse cx="661.1" cy="455.8" rx="2.0" ry="3.4" transform="rotate(30 661.1 455.8)" stroke-width="1.5" fill="#fff" />
<line x1="661.1" y1="455.8" x2="665.0" y2="456.9" stroke-width="1.12" />
<ellipse cx="656.8" cy="469.9" rx="2.0" ry="3.4" transform="rotate(30 656.8 469.9)" stroke-width="1.5" fill="#fff" />
<polygon points="658.1,474.6 661.5,468.7 658.5,467.0 655.1,472.8" fill="#fff" stroke="none"/>
<line x1="658.1" y1="474.6" x2="655.1" y2="472.8" stroke-width="1.5" />
<line x1="661.5" y1="468.7" x2="658.5" y2="467.0" stroke-width="1.5" />
<ellipse cx="659.8" cy="471.7" rx="2.0" ry="3.4" transform="rotate(30 659.8 471.7)" stroke-width="1.5" fill="#fff" />
<line x1="659.8" y1="471.7" x2="661.7" y2="475.7" stroke-width="1.12" />
<ellipse cx="649.1" cy="486.7" rx="2.0" ry="3.4" transform="rotate(30 649.1 486.7)" stroke-width="1.5" fill="#fff" />
<polygon points="650.4,491.4 653.8,485.5 650.8,483.8 647.4,489.6" fill="#fff" stroke="none"/>
<line x1="650.4" y1="491.4" x2="647.4" y2="489.6" stroke-width="1.5" />
<line x1="653.8" y1="485.5" x2="650.8" y2="483.8" stroke-width="1.5" />
<ellipse cx="652.1" cy="488.4" rx="2.0" ry="3.4" transform="rotate(30 652.1 488.4)" stroke-width="1.5" fill="#fff" />
<line x1="652.1" y1="488.4" x2="651.5" y2="494.3" stroke-width="1.12" />
<ellipse cx="637.1" cy="499.9" rx="2.0" ry="3.4" transform="rotate(30 637.1 499.9)" stroke-width="1.5" fill="#fff" />
<polygon points="638.4,504.6 641.8,498.7 638.8,496.9 635.4,502.8" fill="#fff" stroke="none"/>
<line x1="638.4" y1="504.6" x2="635.4" y2="502.8" stroke-width="1.5" />
<line x1="641.8" y1="498.7" x2="638.8" y2="496.9" stroke-width="1.5" />
<ellipse cx="640.1" cy="501.6" rx="2.0" ry="3.4" transform="rotate(30 640.1 501.6)" stroke-width="1.5" fill="#fff" />
<line x1="640.1" y1="501.6" x2="637.2" y2="507.7" stroke-width="1.12" />
<ellipse cx="624.0" cy="505.9" rx="2.0" ry="3.4" transform="rotate(30 624.0 505.9)" stroke-width="1.5" fill="#fff" />
<polygon points="625.3,510.6 628.7,504.7 625.7,503.0 622.3,508.9" fill="#fff" stroke="none"/>
<line x1="625.3" y1="510.6" x2="622.3" y2="508.9" stroke-width="1.5" />
<line x1="628.7" y1="504.7" x2="625.7" y2="503.0" stroke-width="1.5" />
<ellipse cx="627.0" cy="507.7" rx="2.0" ry="3.4" transform="rotate(30 627.0 507.7)" stroke-width="1.5" fill="#fff" />
<line x1="627.0" y1="507.7" x2="622.6" y2="512.4" stroke-width="1.12" />
<ellipse cx="613.3" cy="503.2" rx="2.0" ry="3.4" transform="rotate(30 613.3 503.2)" stroke-width="1.5" fill="#fff" />
<polygon points="614.6,507.9 618.0,502.0 615.0,500.3 611.6,506.2" fill="#fff" stroke="none"/>
<line x1="614.6" y1="507.9" x2="611.6" y2="506.2" stroke-width="1.5" />
<line x1="618.0" y1="502.0" x2="615.0" y2="500.3" stroke-width="1.5" />
<ellipse cx="616.3" cy="505.0" rx="2.0" ry="3.4" transform="rotate(30 616.3 505.0)" stroke-width="1.5" fill="#fff" />
<line x1="616.3" y1="505.0" x2="611.5" y2="507.1" stroke-width="1.12" />
<ellipse cx="607.9" cy="492.5" rx="2.0" ry="3.4" transform="rotate(30 607.9 492.5)" stroke-width="1.5" fill="#fff" />
<polygon points="609.2,497.2 612.6,491.3 609.6,489.5 606.2,495.4" fill="#fff" stroke="none"/>
<line x1="609.2" y1="497.2" x2="606.2" y2="495.4" stroke-width="1.5" />
<line x1="612.6" y1="491.3" x2="609.6" y2="489.5" stroke-width="1.5" />
<ellipse cx="610.9" cy="494.2" rx="2.0" ry="3.4" transform="rotate(30 610.9 494.2)" stroke-width="1.5" fill="#fff" />
<line x1="610.9" y1="494.2" x2="607.0" y2="493.1" stroke-width="1.12" />
<ellipse cx="609.2" cy="476.6" rx="2.0" ry="3.4" transform="rotate(30 609.2 476.6)" stroke-width="1.5" fill="#fff" />
<polygon points="610.5,481.3 613.9,475.4 610.9,473.7 607.5,479.5" fill="#fff" stroke="none"/>
<line x1="610.5" y1="481.3" x2="607.5" y2="479.5" stroke-width="1.5" />
<line x1="613.9" y1="475.4" x2="610.9" y2="473.7" stroke-width="1.5" />
<ellipse cx="612.2" cy="478.3" rx="2.0" ry="3.4" transform="rotate(30 612.2 478.3)" stroke-width="1.5" fill="#fff" />
<line x1="612.2" y1="478.3" x2="610.3" y2="474.3" stroke-width="1.12" />
<ellipse cx="616.9" cy="459.8" rx="2.0" ry="3.4" transform="rotate(30 616.9 459.8)" stroke-width="1.5" fill="#fff" />
<polygon points="618.2,464.5 621.6,458.6 618.6,456.9 615.2,462.7" fill="#fff" stroke="none"/>
<line x1="618.2" y1="464.5" x2="615.2" y2="462.7" stroke-width="1.5" />
<line x1="621.6" y1="458.6" x2="618.6" y2="456.9" stroke-width="1.5" />
<ellipse cx="619.9" cy="461.6" rx="2.0" ry="3.4" transform="rotate(30 619.9 461.6)" stroke-width="1.5" fill="#fff" />
<line x1="619.9" y1="461.6" x2="620.5" y2="455.7" stroke-width="1.12" />
<ellipse cx="628.9" cy="446.6" rx="2.0" ry="3.4" transform="rotate(30 628.9 446.6)" stroke-width="1.5" fill="#fff" />
<polygon points="630.2,451.3 633.6,445.4 630.6,443.7 627.2,449.6" fill="#fff" stroke="none"/>
<line x1="630.2" y1="451.3" x2="627.2" y2="449.6" stroke-width="1.5" />
<line x1="633.6" y1="445.4" x2="630.6" y2="443.7" stroke-width="1.5" />
<ellipse cx="631.9" cy="448.4" rx="2.0" ry="3.4" transform="rotate(30 631.9 448.4)" stroke-width="1.5" fill="#fff" />
<line x1="631.9" y1="448.4" x2="634.8" y2="442.3" stroke-width="1.12" />
<ellipse cx="642.0" cy="440.6" rx="2.0" ry="3.4" transform="rotate(30 642.0 440.6)" stroke-width="1.5" fill="#fff" />
<polygon points="643.3,445.3 646.7,439.4 643.7,437.6 640.3,443.5" fill="#fff" stroke="none"/>
<line x1="643.3" y1="445.3" x2="640.3" y2="443.5" stroke-width="1.5" />
<line x1="646.7" y1="439.4" x2="643.7" y2="437.6" stroke-width="1.5" />
<ellipse cx="645.0" cy="442.3" rx="2.0" ry="3.4" transform="rotate(30 645.0 442.3)" stroke-width="1.5" fill="#fff" />
<line x1="645.0" y1="442.3" x2="649.4" y2="437.6" stroke-width="1.12" />
<ellipse cx="639.6" cy="477.0" rx="17.3" ry="30.0" transform="rotate(30 639.6 477.0)" stroke-width="1.5" fill="#fff" />
<polygon points="635.0,509.0 665.0,457.0 654.6,451.0 624.6,503.0" fill="#fff" stroke="none"/>
<line x1="635.0" y1="509.0" x2="624.6" y2="503.0" stroke-width="1.5" />
<line x1="665.0" y1="457.0" x2="654.6" y2="451.0" stroke-width="1.5" />
<ellipse cx="650.0" cy="483.0" rx="17.3" ry="30.0" transform="rotate(30 650.0 483.0)" stroke-width="1.5" fill="#fff" />
<ellipse cx="650.0" cy="483.0" rx="15.6" ry="27.0" transform="rotate(30 650.0 483.0)" stroke-width="1.25" fill="none" />
<ellipse cx="652.0" cy="484.0" rx="13.3" ry="23.0" transform="rotate(30 652.0 484.0)" stroke-width="1.5" fill="#fff" />
<ellipse cx="654.1" cy="485.0" rx="10.7" ry="18.5" transform="rotate(30 654.1 485.0)" stroke-width="1.62" fill="#fff" />
<polygon points="658.8,509.0 677.2,477.0 663.4,469.0 644.9,501.0" fill="#fff" stroke="none"/>
<line x1="658.8" y1="509.0" x2="644.9" y2="501.0" stroke-width="1.62" />
<line x1="677.2" y1="477.0" x2="663.4" y2="469.0" stroke-width="1.62" />
<ellipse cx="668.0" cy="493.0" rx="10.7" ry="18.5" transform="rotate(30 668.0 493.0)" stroke-width="1.62" fill="#fff" />
<ellipse cx="668.0" cy="493.0" rx="8.4" ry="14.5" transform="rotate(30 668.0 493.0)" stroke-width="1.62" fill="none" />
<path d="M672.3,479.0 L672.9,479.7 L673.5,480.7 L673.9,481.8 L674.1,483.0 L674.2,484.3 L674.2,485.7 L674.1,487.2 L673.7,488.7 L673.3,490.3 L672.7,491.8 L672.0,493.4 L671.2,494.9 L670.3,496.3 L669.4,497.7 L668.3,499.0 L667.2,500.1 L666.0,501.2 L664.8,502.0 L663.6,502.8 L662.4,503.3 L661.2,503.7 L660.1,503.9 L659.0,503.9 L658.0,503.8" stroke-width="1.25" fill="none" />
<line x1="664.0" y1="491.0" x2="681.0" y2="501.0" stroke-width="1.25" />
<ellipse cx="178.5" cy="405.5" rx="17.3" ry="30.0" transform="rotate(-30 178.5 405.5)" stroke-width="1.62" fill="#fff" />
<polygon points="150.5,387.0 180.5,439.0 193.5,431.5 163.5,379.5" fill="#fff" stroke="none"/>
<line x1="150.5" y1="387.0" x2="163.5" y2="379.5" stroke-width="1.62" />
<line x1="180.5" y1="439.0" x2="193.5" y2="431.5" stroke-width="1.62" />
<ellipse cx="165.5" cy="413.0" rx="17.3" ry="30.0" transform="rotate(-30 165.5 413.0)" stroke-width="1.62" fill="#fff" />
<ellipse cx="165.5" cy="413.0" rx="11.5" ry="20.0" transform="rotate(-30 165.5 413.0)" stroke-width="1.5" fill="none" />
<ellipse cx="165.5" cy="413.0" rx="9.8" ry="17.0" transform="rotate(-30 165.5 413.0)" stroke-width="1.5" fill="none" />
<ellipse cx="165.5" cy="413.0" rx="7.2" ry="12.5" transform="rotate(-30 165.5 413.0)" stroke-width="1.75" fill="none" />
<path d="M164.5,399.6 L163.8,400.1 L163.2,400.9 L162.7,401.7 L162.3,402.7 L162.1,403.9 L162.0,405.1 L162.1,406.4 L162.3,407.8 L162.7,409.2 L163.2,410.7 L163.8,412.1 L164.5,413.5 L165.3,414.8 L166.3,416.0 L167.3,417.2 L168.3,418.2 L169.4,419.1 L170.5,419.8 L171.6,420.4 L172.7,420.7 L173.7,420.9 L174.7,420.9 L175.7,420.8 L176.5,420.4" stroke-width="1.25" fill="none" />
<line x1="174.0" y1="427.7" x2="175.5" y2="430.3" stroke-width="1.12" />
<line x1="176.8" y1="424.1" x2="178.8" y2="426.1" stroke-width="1.12" />
<line x1="177.4" y1="418.3" x2="179.5" y2="419.3" stroke-width="1.12" />
<line x1="175.7" y1="411.5" x2="177.5" y2="411.2" stroke-width="1.12" />
<line x1="171.9" y1="404.9" x2="173.0" y2="403.5" stroke-width="1.12" />
<line x1="166.8" y1="400.0" x2="167.1" y2="397.7" stroke-width="1.12" />
<line x1="161.5" y1="397.6" x2="160.8" y2="394.9" stroke-width="1.12" />
<line x1="157.0" y1="398.3" x2="155.5" y2="395.7" stroke-width="1.12" />
<line x1="154.2" y1="401.9" x2="152.2" y2="399.9" stroke-width="1.12" />
<line x1="153.6" y1="407.7" x2="151.5" y2="406.7" stroke-width="1.12" />
<line x1="155.3" y1="414.5" x2="153.5" y2="414.8" stroke-width="1.12" />
<line x1="159.1" y1="421.1" x2="158.0" y2="422.5" stroke-width="1.12" />
<line x1="164.2" y1="426.0" x2="163.9" y2="428.3" stroke-width="1.12" />
<line x1="169.5" y1="428.4" x2="170.2" y2="431.1" stroke-width="1.12" />
<line x1="160.0" y1="417.0" x2="172.1" y2="410.0" stroke-width="1.25" />
<line x1="194.6" y1="397.0" x2="201.5" y2="393.0" stroke-width="1.25" />
<ellipse cx="126.0" cy="436.0" rx="18.8" ry="32.5" transform="rotate(-30 126.0 436.0)" stroke-width="1.75" fill="none" />
<ellipse cx="126.0" cy="436.0" rx="17.0" ry="29.5" transform="rotate(-30 126.0 436.0)" stroke-width="1.75" fill="none" />
<path d="M144.2,462.9 L146.2,461.5 L147.9,459.6 L149.2,457.2 L150.2,454.5 L150.8,451.4 L151.0,448.1 L150.8,444.5 L150.2,440.8 L149.2,436.9 L147.9,433.0 L146.2,429.2 L144.2,425.4 L142.0,421.8 L139.5,418.5 L136.8,415.4 L133.9,412.6 L131.0,410.2 L128.0,408.3 L125.0,406.8 L122.0,405.7 L119.2,405.2 L116.5,405.2 L114.0,405.7 L111.8,406.7" stroke-width="1.25" fill="none" />
<ellipse cx="98.6" cy="452.3" rx="9.2" ry="16.0" transform="rotate(-30 98.6 452.3)" stroke-width="2.6" fill="none" />
<ellipse cx="80.2" cy="463.5" rx="10.1" ry="17.5" transform="rotate(-30 80.2 463.5)" stroke-width="2.6" fill="none" />
<ellipse cx="59.8" cy="475.0" rx="9.8" ry="17.0" transform="rotate(-30 59.8 475.0)" stroke-width="1.75" fill="#fff" />
<polygon points="40.0,466.8 57.0,496.2 68.3,489.7 51.3,460.3" fill="#fff" stroke="none"/>
<line x1="40.0" y1="466.8" x2="51.3" y2="460.3" stroke-width="1.75" />
<line x1="57.0" y1="496.2" x2="68.3" y2="489.7" stroke-width="1.75" />
<ellipse cx="48.5" cy="481.5" rx="9.8" ry="17.0" transform="rotate(-30 48.5 481.5)" stroke-width="1.75" fill="#fff" />
<ellipse cx="48.5" cy="481.5" rx="8.1" ry="14.0" transform="rotate(-30 48.5 481.5)" stroke-width="1.62" fill="none" />
<path d="M46.5,466.7 L45.9,467.4 L45.4,468.3 L45.0,469.4 L44.7,470.6 L44.6,471.8 L44.6,473.2 L44.8,474.6 L45.1,476.1 L45.5,477.6 L46.1,479.1 L46.7,480.6 L47.5,482.0 L48.4,483.4 L49.3,484.8 L50.4,486.0 L51.4,487.1 L52.6,488.1 L53.7,488.9 L54.9,489.6 L56.1,490.2 L57.2,490.6 L58.3,490.7 L59.3,490.8 L60.3,490.6" stroke-width="1.25" fill="none" />
<line x1="18.0" y1="499.0" x2="34.0" y2="489.7" stroke-width="1.25" />
<line x1="43.0" y1="484.5" x2="86.0" y2="459.7" stroke-width="1.25" />
<line x1="92.0" y1="456.3" x2="148.0" y2="424.0" stroke-width="1.25" />
<ellipse cx="633.4" cy="112.7" rx="51.4" ry="89.0" transform="rotate(30 633.4 112.7)" stroke-width="1.5" fill="#fff" />
<ellipse cx="640.3" cy="116.7" rx="51.1" ry="88.5" transform="rotate(30 640.3 116.7)" stroke-width="0.12" fill="#fff" stroke="#fff"/>
<path d="M651.2,182.0 L644.9,177.5 L640.5,180.7 L646.8,185.2 Z" stroke-width="1.38" fill="#fff" />
<path d="M639.3,166.5 Q643.0,175.2 651.2,182.0 L646.8,185.2 Q639.8,177.2 637.1,167.5 Z" stroke-width="1.38" fill="#fff" />
<path d="M635.6,168.0 Q638.0,176.5 644.7,182.5" stroke-width="1.12" fill="none" />
<path d="M660.5,173.8 L654.2,169.2 L650.0,173.2 L656.3,177.7 Z" stroke-width="1.38" fill="#fff" />
<path d="M645.7,163.0 Q650.9,169.5 660.5,173.8 L656.3,177.7 Q647.7,172.0 643.4,164.4 Z" stroke-width="1.38" fill="#fff" />
<path d="M641.9,165.2 Q645.8,171.8 653.7,175.8" stroke-width="1.12" fill="none" />
<path d="M641.6,188.6 L635.3,184.2 L630.9,186.7 L637.2,191.0 Z" stroke-width="1.38" fill="#fff" />
<path d="M633.1,168.9 Q635.1,179.6 641.6,188.6 L637.2,191.0 Q631.8,181.0 630.9,169.4 Z" stroke-width="1.38" fill="#fff" />
<path d="M629.5,169.7 Q630.3,179.9 635.6,187.8" stroke-width="1.12" fill="none" />
<path d="M669.4,164.3 L663.0,159.7 L659.0,164.2 L665.4,168.8 Z" stroke-width="1.38" fill="#fff" />
<path d="M651.9,158.4 Q658.6,162.5 669.4,164.3 L665.4,168.8 Q655.5,165.5 649.7,160.2 Z" stroke-width="1.38" fill="#fff" />
<path d="M648.3,161.2 Q653.4,165.7 662.3,167.6" stroke-width="1.12" fill="none" />
<path d="M632.0,193.5 L625.7,189.2 L621.3,191.0 L627.6,195.2 Z" stroke-width="1.38" fill="#fff" />
<path d="M627.1,170.0 Q627.2,182.5 632.0,193.5 L627.6,195.2 Q624.1,183.3 625.0,170.1 Z" stroke-width="1.38" fill="#fff" />
<path d="M677.5,153.7 L671.1,149.0 L667.5,154.0 L673.9,158.7 Z" stroke-width="1.38" fill="#fff" />
<path d="M658.0,152.8 Q665.8,154.4 677.5,153.7 L673.9,158.7 Q663.0,157.8 655.9,154.9 Z" stroke-width="1.38" fill="#fff" />
<path d="M654.5,156.2 Q660.7,158.5 670.5,158.3" stroke-width="1.12" fill="none" />
<path d="M622.6,196.7 L616.2,192.5 L612.0,193.4 L618.4,197.5 Z" stroke-width="1.38" fill="#fff" />
<path d="M621.5,169.9 Q619.6,183.9 622.6,196.7 L618.4,197.5 Q616.7,184.0 619.6,169.5 Z" stroke-width="1.38" fill="#fff" />
<path d="M684.9,142.2 L678.4,137.5 L675.2,142.8 L681.6,147.6 Z" stroke-width="1.38" fill="#fff" />
<path d="M663.7,146.4 Q672.5,145.5 684.9,142.2 L681.6,147.6 Q669.9,149.2 661.7,148.8 Z" stroke-width="1.38" fill="#fff" />
<path d="M660.4,150.3 Q667.6,150.3 678.0,147.9" stroke-width="1.12" fill="none" />
<path d="M613.6,197.9 L607.2,193.9 L603.3,193.9 L609.6,197.9 Z" stroke-width="1.38" fill="#fff" />
<path d="M616.4,168.5 Q612.6,183.7 613.6,197.9 L609.6,197.9 Q609.9,183.2 614.7,167.7 Z" stroke-width="1.38" fill="#fff" />
<path d="M691.1,130.2 L684.6,125.4 L681.9,130.9 L688.4,135.7 Z" stroke-width="1.38" fill="#fff" />
<path d="M669.0,139.3 Q678.4,135.8 691.1,130.2 L688.4,135.7 Q676.1,139.8 667.2,141.9 Z" stroke-width="1.38" fill="#fff" />
<path d="M666.0,143.5 Q673.8,141.3 684.5,136.9" stroke-width="1.12" fill="none" />
<path d="M605.2,197.3 L598.8,193.4 L595.2,192.5 L601.6,196.3 Z" stroke-width="1.38" fill="#fff" />
<path d="M611.9,165.9 Q606.2,181.9 605.2,197.3 L601.6,196.3 Q603.8,180.8 610.5,164.7 Z" stroke-width="1.38" fill="#fff" />
<path d="M696.2,117.8 L689.5,113.0 L687.4,118.6 L694.0,123.5 Z" stroke-width="1.38" fill="#fff" />
<path d="M673.6,131.6 Q683.4,125.7 696.2,117.8 L694.0,123.5 Q681.4,129.9 672.0,134.4 Z" stroke-width="1.38" fill="#fff" />
<path d="M671.0,136.2 Q679.2,131.8 690.1,125.4" stroke-width="1.12" fill="none" />
<path d="M597.6,194.7 L591.2,191.0 L588.0,189.2 L594.5,193.0 Z" stroke-width="1.38" fill="#fff" />
<path d="M608.2,162.2 Q600.6,178.6 597.6,194.7 L594.5,193.0 Q598.5,176.9 607.0,160.6 Z" stroke-width="1.38" fill="#fff" />
<path d="M699.9,105.4 L693.2,100.6 L691.7,106.2 L698.4,111.0 Z" stroke-width="1.38" fill="#fff" />
<path d="M677.6,123.6 Q687.3,115.5 699.9,105.4 L698.4,111.0 Q685.8,119.7 676.2,126.5 Z" stroke-width="1.38" fill="#fff" />
<path d="M675.3,128.4 Q683.7,121.9 694.4,113.6" stroke-width="1.12" fill="none" />
<path d="M591.1,190.4 L584.5,186.7 L581.9,184.2 L588.4,187.8 Z" stroke-width="1.38" fill="#fff" />
<path d="M605.2,157.4 Q595.9,173.9 591.1,190.4 L588.4,187.8 Q594.3,171.5 604.4,155.4 Z" stroke-width="1.38" fill="#fff" />
<path d="M702.3,93.2 L695.5,88.4 L694.6,93.9 L701.4,98.7 Z" stroke-width="1.38" fill="#fff" />
<path d="M680.7,115.5 Q690.2,105.2 702.3,93.2 L701.4,98.7 Q689.2,109.4 679.7,118.4 Z" stroke-width="1.38" fill="#fff" />
<path d="M679.0,120.3 Q687.2,111.8 697.5,102.0" stroke-width="1.12" fill="none" />
<path d="M585.7,184.3 L579.0,180.7 L577.0,177.5 L583.6,181.0 Z" stroke-width="1.38" fill="#fff" />
<path d="M603.2,151.6 Q592.2,167.8 585.7,184.3 L583.6,181.0 Q591.1,164.9 602.7,149.3 Z" stroke-width="1.38" fill="#fff" />
<path d="M703.2,81.6 L696.3,76.9 L696.1,82.1 L703.0,86.8 Z" stroke-width="1.38" fill="#fff" />
<path d="M683.0,107.3 Q691.9,95.2 703.2,81.6 L703.0,86.8 Q691.4,99.2 682.2,110.2 Z" stroke-width="1.38" fill="#fff" />
<path d="M681.7,112.1 Q689.6,101.9 699.3,90.7" stroke-width="1.12" fill="none" />
<path d="M581.5,176.6 L574.8,173.2 L573.4,169.2 L580.1,172.6 Z" stroke-width="1.38" fill="#fff" />
<path d="M602.1,145.0 Q589.7,160.5 581.5,176.6 L580.1,172.6 Q589.0,157.2 602.0,142.5 Z" stroke-width="1.38" fill="#fff" />
<path d="M702.6,70.8 L695.6,66.2 L696.1,71.0 L703.1,75.7 Z" stroke-width="1.38" fill="#fff" />
<path d="M684.3,99.4 Q692.4,85.7 702.6,70.8 L703.1,75.7 Q692.4,89.5 683.9,102.2 Z" stroke-width="1.38" fill="#fff" />
<path d="M683.6,104.0 Q690.8,92.4 699.6,80.0" stroke-width="1.12" fill="none" />
<path d="M578.8,167.6 L572.0,164.2 L571.2,159.7 L578.0,163.0 Z" stroke-width="1.38" fill="#fff" />
<path d="M602.0,137.8 Q588.4,152.2 578.8,167.6 L578.0,163.0 Q588.2,148.5 602.2,135.1 Z" stroke-width="1.38" fill="#fff" />
<path d="M700.6,61.1 L693.5,56.6 L694.6,60.8 L701.7,65.4 Z" stroke-width="1.38" fill="#fff" />
<path d="M684.6,91.9 Q691.7,77.0 700.6,61.1 L701.7,65.4 Q692.1,80.4 684.6,94.5 Z" stroke-width="1.38" fill="#fff" />
<path d="M684.5,96.3 Q690.9,83.4 698.6,70.1" stroke-width="1.12" fill="none" />
<path d="M577.5,157.3 L570.6,154.0 L570.5,149.0 L577.4,152.3 Z" stroke-width="1.38" fill="#fff" />
<path d="M602.9,130.1 Q588.3,143.0 577.5,157.3 L577.4,152.3 Q588.6,139.1 603.4,127.2 Z" stroke-width="1.38" fill="#fff" />
<path d="M697.2,52.8 L690.0,48.3 L691.7,51.9 L698.9,56.4 Z" stroke-width="1.38" fill="#fff" />
<path d="M684.0,85.0 Q689.8,69.1 697.2,52.8 L698.9,56.4 Q690.7,72.2 684.4,87.4 Z" stroke-width="1.38" fill="#fff" />
<path d="M684.5,89.0 Q689.8,75.2 696.2,61.4" stroke-width="1.12" fill="none" />
<path d="M577.7,146.1 L570.7,142.8 L571.2,137.5 L578.2,140.7 Z" stroke-width="1.38" fill="#fff" />
<path d="M604.7,122.0 Q589.4,133.2 577.7,146.1 L578.2,140.7 Q590.2,129.1 605.5,119.1 Z" stroke-width="1.38" fill="#fff" />
<path d="M692.4,45.9 L685.1,41.5 L687.5,44.4 L694.7,48.8 Z" stroke-width="1.38" fill="#fff" />
<path d="M682.5,78.8 Q686.7,62.4 692.4,45.9 L694.7,48.8 Q688.1,65.0 683.2,80.9 Z" stroke-width="1.38" fill="#fff" />
<path d="M683.5,82.3 Q687.5,67.9 692.5,53.9" stroke-width="1.12" fill="none" />
<path d="M579.3,134.2 L572.2,131.0 L573.4,125.4 L580.5,128.6 Z" stroke-width="1.38" fill="#fff" />
<path d="M607.4,113.9 Q591.7,123.1 579.3,134.2 L580.5,128.6 Q592.9,118.9 608.5,110.9 Z" stroke-width="1.38" fill="#fff" />
<path d="M686.4,40.6 L679.0,36.3 L681.9,38.5 L689.3,42.8 Z" stroke-width="1.38" fill="#fff" />
<path d="M680.0,73.5 Q682.5,57.0 686.4,40.6 L689.3,42.8 Q684.3,59.0 681.0,75.3 Z" stroke-width="1.38" fill="#fff" />
<path d="M681.6,76.5 Q684.1,61.8 687.6,47.9" stroke-width="1.12" fill="none" />
<path d="M582.4,121.8 L575.2,118.7 L577.0,113.0 L584.2,116.2 Z" stroke-width="1.38" fill="#fff" />
<path d="M610.9,105.7 Q595.1,112.8 582.4,121.8 L584.2,116.2 Q596.8,108.6 612.4,102.9 Z" stroke-width="1.38" fill="#fff" />
<path d="M679.3,37.2 L671.9,33.0 L675.3,34.3 L682.7,38.5 Z" stroke-width="1.38" fill="#fff" />
<path d="M676.7,69.2 Q677.3,52.9 679.3,37.2 L682.7,38.5 Q679.6,54.4 678.0,70.6 Z" stroke-width="1.38" fill="#fff" />
<path d="M678.7,71.6 Q679.6,57.0 681.6,43.6" stroke-width="1.12" fill="none" />
<path d="M586.8,109.4 L579.5,106.2 L582.0,100.6 L589.2,103.8 Z" stroke-width="1.38" fill="#fff" />
<path d="M615.2,97.9 Q599.6,102.6 586.8,109.4 L589.2,103.8 Q601.7,98.5 616.9,95.2 Z" stroke-width="1.38" fill="#fff" />
<path d="M671.3,35.6 L663.8,31.5 L667.6,32.0 L675.1,36.1 Z" stroke-width="1.38" fill="#fff" />
<path d="M672.5,66.0 Q671.3,50.4 671.3,35.6 L675.1,36.1 Q673.9,51.2 674.1,67.0 Z" stroke-width="1.38" fill="#fff" />
<path d="M675.1,67.8 Q674.3,53.6 674.6,40.9" stroke-width="1.12" fill="none" />
<path d="M592.5,97.1 L585.1,93.9 L588.1,88.4 L595.5,91.7 Z" stroke-width="1.38" fill="#fff" />
<path d="M620.2,90.5 Q605.1,92.7 592.5,97.1 L595.5,91.7 Q607.5,88.8 622.1,88.0 Z" stroke-width="1.38" fill="#fff" />
<path d="M662.6,35.9 L655.1,32.0 L659.2,31.5 L666.7,35.5 Z" stroke-width="1.38" fill="#fff" />
<path d="M667.7,64.1 Q664.6,49.4 662.6,35.9 L666.7,35.5 Q667.4,49.6 669.5,64.6 Z" stroke-width="1.38" fill="#fff" />
<path d="M670.6,65.1 Q668.2,51.7 666.8,40.0" stroke-width="1.12" fill="none" />
<path d="M599.3,85.3 L591.9,82.1 L595.3,76.9 L602.7,80.2 Z" stroke-width="1.38" fill="#fff" />
<path d="M625.7,83.7 Q611.3,83.4 599.3,85.3 L602.7,80.2 Q614.1,79.8 627.8,81.4 Z" stroke-width="1.38" fill="#fff" />
<path d="M653.4,38.1 L645.8,34.3 L650.1,33.0 L657.6,36.8 Z" stroke-width="1.38" fill="#fff" />
<path d="M662.4,63.3 Q657.2,50.0 653.4,38.1 L657.6,36.8 Q660.3,49.6 664.4,63.4 Z" stroke-width="1.38" fill="#fff" />
<path d="M665.6,63.6 Q661.4,51.2 658.4,40.9" stroke-width="1.12" fill="none" />
<path d="M607.0,74.3 L599.6,71.0 L603.4,66.2 L610.9,69.5 Z" stroke-width="1.38" fill="#fff" />
<path d="M631.6,77.7 Q618.3,74.8 607.0,74.3 L610.9,69.5 Q621.3,71.6 633.8,75.7 Z" stroke-width="1.38" fill="#fff" />
<path d="M635.2,74.6 Q623.5,71.2 614.1,70.3" stroke-width="1.12" fill="none" />
<path d="M643.8,42.1 L636.3,38.5 L640.7,36.3 L648.2,40.1 Z" stroke-width="1.38" fill="#fff" />
<path d="M656.5,63.8 Q649.5,52.1 643.8,42.1 L648.2,40.1 Q652.7,51.1 658.7,63.5 Z" stroke-width="1.38" fill="#fff" />
<path d="M660.0,63.4 Q654.1,52.4 649.5,43.6" stroke-width="1.12" fill="none" />
<path d="M615.6,64.2 L608.1,60.8 L612.2,56.6 L619.7,60.0 Z" stroke-width="1.38" fill="#fff" />
<path d="M637.8,72.6 Q625.8,67.3 615.6,64.2 L619.7,60.0 Q628.9,64.5 640.0,71.0 Z" stroke-width="1.38" fill="#fff" />
<path d="M641.5,70.0 Q631.0,64.5 622.5,61.5" stroke-width="1.12" fill="none" />
<path d="M634.2,47.9 L626.6,44.4 L631.0,41.5 L638.6,45.1 Z" stroke-width="1.38" fill="#fff" />
<path d="M650.4,65.6 Q641.6,55.8 634.2,47.9 L638.6,45.1 Q644.8,54.1 652.6,64.8 Z" stroke-width="1.38" fill="#fff" />
<path d="M654.0,64.4 Q646.5,55.0 640.5,48.0" stroke-width="1.12" fill="none" />
<path d="M624.7,55.3 L617.2,51.9 L621.5,48.3 L629.0,51.8 Z" stroke-width="1.38" fill="#fff" />
<path d="M644.1,68.5 Q633.6,60.9 624.7,55.3 L629.0,51.8 Q636.8,58.6 646.4,67.3 Z" stroke-width="1.38" fill="#fff" />
<path d="M647.8,66.6 Q638.7,59.1 631.4,54.1" stroke-width="1.12" fill="none" />
<ellipse cx="643.3" cy="116.7" rx="33.8" ry="58.5" transform="rotate(30 643.3 116.7)" stroke-width="1.5" fill="#fff" />
<path d="M659.2,59.1 L662.8,60.5 L666.1,62.5 L669.0,65.2 L671.4,68.6 L673.3,72.5 L674.7,76.9 L675.6,81.7 L676.0,87.0 L675.8,92.6 L675.1,98.4 L673.8,104.4 L672.0,110.5 L669.8,116.6 L667.0,122.7 L663.9,128.6 L660.3,134.3 L656.5,139.7 L652.3,144.7 L647.9,149.3 L643.3,153.4 L638.6,156.9 L633.9,159.9 L629.2,162.2 L624.5,163.8 L620.0,164.8 L615.7,165.1 L611.6,164.7 L607.8,163.5 L604.4,161.7 L601.4,159.3" stroke-width="1.38" fill="none" />
<ellipse cx="634.6" cy="111.7" rx="27.1" ry="47.0" transform="rotate(30 634.6 111.7)" stroke-width="1.62" fill="#fff" />
<path d="M652.4,67.7 L655.0,70.0 L657.2,72.9 L658.9,76.4 L660.1,80.3 L660.8,84.7 L661.0,89.5 L660.6,94.5 L659.7,99.8 L658.3,105.2 L656.4,110.6 L654.0,116.0 L651.2,121.3 L648.1,126.3 L644.6,131.0 L640.8,135.4 L636.9,139.3 L632.8,142.7 L628.6,145.6 L624.4,147.8 L620.2,149.4 L616.2,150.3 L612.3,150.6 L608.7,150.2 L605.4,149.0" stroke-width="1.25" fill="none" />
<ellipse cx="662.2" cy="67.0" rx="1.6" ry="2.8" transform="rotate(30 662.2 67.0)" stroke-width="1.38" fill="#fff" />
<ellipse cx="670.9" cy="81.7" rx="1.6" ry="2.8" transform="rotate(30 670.9 81.7)" stroke-width="1.38" fill="#fff" />
<ellipse cx="670.0" cy="104.4" rx="1.6" ry="2.8" transform="rotate(30 670.0 104.4)" stroke-width="1.38" fill="#fff" />
<ellipse cx="659.5" cy="129.1" rx="1.6" ry="2.8" transform="rotate(30 659.5 129.1)" stroke-width="1.38" fill="#fff" />
<ellipse cx="642.4" cy="149.1" rx="1.6" ry="2.8" transform="rotate(30 642.4 149.1)" stroke-width="1.38" fill="#fff" />
<ellipse cx="623.2" cy="159.1" rx="1.6" ry="2.8" transform="rotate(30 623.2 159.1)" stroke-width="1.38" fill="#fff" />
<ellipse cx="607.1" cy="156.4" rx="1.6" ry="2.8" transform="rotate(30 607.1 156.4)" stroke-width="1.38" fill="#fff" />
<ellipse cx="701.8" cy="205.5" rx="13.3" ry="23.0" transform="rotate(-30 701.8 205.5)" stroke-width="0.12" fill="#fff" stroke="#fff"/>
<path d="M658.3,198.3 L690.3,185.6 L713.3,225.4 L686.3,246.7 Z" stroke-width="1.62" fill="#fff" />
<path d="M713.8,225.1 Q719.7,222.1 717.6,218.7" stroke-width="1.62" fill="#fff" />
<path d="M717.6,218.7 Q721.6,213.2 717.3,208.8" stroke-width="1.62" fill="#fff" />
<path d="M717.3,208.8 Q718.9,201.9 712.8,198.1" stroke-width="1.62" fill="#fff" />
<path d="M712.8,198.1 Q712.3,191.1 705.4,189.3" stroke-width="1.62" fill="#fff" />
<path d="M705.4,189.3 Q703.7,183.8 697.0,184.8" stroke-width="1.62" fill="#fff" />
<path d="M697.0,184.8 Q695.1,181.8 689.9,185.8" stroke-width="1.62" fill="#fff" />
<path d="M686.3,246.7 Q703.1,236.4 716.9,221.0" stroke-width="2.0" fill="none" />
<path d="M688.8,244.7 Q704.9,233.4 717.9,217.2" stroke-width="1.5" fill="none" />
<path d="M691.6,238.9 Q706.2,227.6 717.7,211.3" stroke-width="2.0" fill="none" />
<path d="M692.1,234.7 Q705.8,223.0 716.6,206.3" stroke-width="1.5" fill="none" />
<path d="M691.1,226.3 Q704.0,215.6 713.8,199.9" stroke-width="2.0" fill="none" />
<path d="M689.5,221.2 Q701.7,210.7 710.9,195.2" stroke-width="1.5" fill="none" />
<path d="M685.2,212.5 Q697.3,203.8 706.3,190.1" stroke-width="2.0" fill="none" />
<path d="M681.9,208.1 Q693.7,200.1 702.5,187.2" stroke-width="1.5" fill="none" />
<path d="M675.4,201.7 Q688.0,195.8 697.5,184.9" stroke-width="2.0" fill="none" />
<path d="M671.4,199.2 Q684.2,194.3 693.9,184.5" stroke-width="1.5" fill="none" />
<path d="M664.7,197.0 Q679.0,193.8 690.3,185.6" stroke-width="2.0" fill="none" />
<path d="M661.2,197.2 Q677.2,193.9 690.3,185.6" stroke-width="1.5" fill="none" />
<ellipse cx="675.3" cy="220.8" rx="16.2" ry="28.0" transform="rotate(-30 675.3 220.8)" stroke-width="1.5" fill="#fff" />
<path d="M658.0,227.6 Q660.4,231.9 663.1,235.6" stroke-width="1.62" fill="#fff" />
<path d="M665.9,238.9 Q670.1,243.2 672.4,244.3" stroke-width="1.62" fill="#fff" />
<path d="M675.6,246.0 Q681.0,249.0 682.0,247.6" stroke-width="1.62" fill="#fff" />
<path d="M684.7,247.3 Q690.4,248.0 689.5,244.5" stroke-width="1.62" fill="#fff" />
<path d="M691.1,242.3 Q696.0,240.4 693.0,236.0" stroke-width="1.62" fill="#fff" />
<path d="M693.1,232.4 Q696.4,228.0 691.7,224.0" stroke-width="1.62" fill="#fff" />
<path d="M690.2,219.9 Q691.5,213.9 685.9,211.6" stroke-width="1.62" fill="#fff" />
<path d="M683.3,208.0 Q682.5,201.6 677.0,201.7" stroke-width="1.62" fill="#fff" />
<path d="M673.8,199.4 Q671.6,194.0 667.2,196.7" stroke-width="1.62" fill="#fff" />
<path d="M664.3,196.4 Q661.6,193.0 658.9,198.0" stroke-width="1.62" fill="#fff" />
<path d="M656.9,199.7 Q654.7,198.9 654.2,205.1" stroke-width="1.62" fill="#fff" />
<ellipse cx="672.3" cy="222.5" rx="16.2" ry="28.0" transform="rotate(-30 672.3 222.5)" stroke-width="1.62" fill="#fff" />
<ellipse cx="671.3" cy="223.1" rx="13.8" ry="24.0" transform="rotate(-30 671.3 223.1)" stroke-width="1.5" fill="none" />
<ellipse cx="670.8" cy="223.4" rx="10.7" ry="18.5" transform="rotate(-30 670.8 223.4)" stroke-width="1.62" fill="#fff" />
<ellipse cx="670.6" cy="223.5" rx="8.7" ry="15.0" transform="rotate(-30 670.6 223.5)" stroke-width="1.5" fill="#fff" />
<polygon points="630.2,229.5 645.2,255.5 678.1,236.5 663.1,210.5" fill="#fff" stroke="none"/>
<line x1="630.2" y1="229.5" x2="663.1" y2="210.5" stroke-width="1.5" />
<line x1="645.2" y1="255.5" x2="678.1" y2="236.5" stroke-width="1.5" />
<ellipse cx="637.7" cy="242.5" rx="8.7" ry="15.0" transform="rotate(-30 637.7 242.5)" stroke-width="1.5" fill="#fff" />
<path d="M653.8,250.5 L654.8,249.8 L655.5,248.9 L656.1,247.8 L656.6,246.6 L656.8,245.2 L656.9,243.6 L656.8,242.0 L656.6,240.2 L656.1,238.5 L655.5,236.7 L654.7,234.9 L653.8,233.2 L652.8,231.5 L651.6,230.0 L650.4,228.5 L649.1,227.3 L647.7,226.2 L646.3,225.3 L644.9,224.6 L643.6,224.1 L642.3,223.8 L641.0,223.8 L639.9,224.1 L638.8,224.5" stroke-width="1.25" fill="none" />
<path d="M657.3,248.5 L658.2,247.8 L659.0,246.9 L659.6,245.8 L660.0,244.6 L660.3,243.2 L660.4,241.6 L660.3,240.0 L660.0,238.2 L659.6,236.5 L659.0,234.7 L658.2,232.9 L657.3,231.2 L656.3,229.5 L655.1,228.0 L653.9,226.5 L652.5,225.3 L651.2,224.2 L649.8,223.3 L648.4,222.6 L647.1,222.1 L645.7,221.8 L644.5,221.8 L643.3,222.1 L642.3,222.5" stroke-width="1.25" fill="none" />
<path d="M660.8,246.5 L661.7,245.8 L662.4,244.9 L663.1,243.8 L663.5,242.6 L663.8,241.2 L663.9,239.6 L663.8,238.0 L663.5,236.2 L663.1,234.5 L662.4,232.7 L661.7,230.9 L660.8,229.2 L659.7,227.5 L658.6,226.0 L657.3,224.5 L656.0,223.3 L654.6,222.2 L653.3,221.3 L651.9,220.6 L650.5,220.1 L649.2,219.8 L648.0,219.8 L646.8,220.1 L645.8,220.5" stroke-width="1.25" fill="none" />
<path d="M664.2,244.5 L665.1,243.8 L665.9,242.9 L666.5,241.8 L667.0,240.6 L667.2,239.2 L667.3,237.6 L667.2,236.0 L667.0,234.2 L666.5,232.5 L665.9,230.7 L665.1,228.9 L664.2,227.2 L663.2,225.5 L662.0,224.0 L660.8,222.5 L659.5,221.3 L658.1,220.2 L656.7,219.3 L655.3,218.6 L654.0,218.1 L652.7,217.8 L651.4,217.8 L650.3,218.1 L649.2,218.5" stroke-width="1.25" fill="none" />
<ellipse cx="637.7" cy="242.5" rx="8.3" ry="14.3" transform="rotate(-30 637.7 242.5)" stroke-width="1.5" fill="#fff" />
<polygon points="611.5,241.1 625.8,265.9 644.8,254.9 630.5,230.1" fill="#fff" stroke="none"/>
<line x1="611.5" y1="241.1" x2="630.5" y2="230.1" stroke-width="1.5" />
<line x1="625.8" y1="265.9" x2="644.8" y2="254.9" stroke-width="1.5" />
<ellipse cx="618.6" cy="253.5" rx="8.3" ry="14.3" transform="rotate(-30 618.6 253.5)" stroke-width="1.5" fill="#fff" />
<line x1="627.5" y1="264.8" x2="644.8" y2="254.8" stroke-width="1.88" />
<line x1="628.7" y1="263.1" x2="646.0" y2="253.1" stroke-width="1.88" />
<line x1="629.4" y1="260.8" x2="646.8" y2="250.8" stroke-width="1.88" />
<line x1="629.6" y1="258.1" x2="646.9" y2="248.1" stroke-width="1.88" />
<line x1="629.1" y1="255.1" x2="646.5" y2="245.1" stroke-width="1.88" />
<line x1="628.1" y1="251.9" x2="645.5" y2="241.9" stroke-width="1.88" />
<line x1="626.6" y1="248.9" x2="644.0" y2="238.9" stroke-width="1.88" />
<line x1="624.7" y1="246.0" x2="642.0" y2="236.0" stroke-width="1.88" />
<line x1="622.5" y1="243.6" x2="639.8" y2="233.6" stroke-width="1.88" />
<line x1="620.1" y1="241.7" x2="637.4" y2="231.7" stroke-width="1.88" />
<line x1="617.7" y1="240.5" x2="635.0" y2="230.5" stroke-width="1.88" />
<line x1="615.4" y1="240.0" x2="632.7" y2="230.0" stroke-width="1.88" />
<line x1="613.3" y1="240.2" x2="630.6" y2="230.2" stroke-width="1.88" />
<path d="M631.0,262.9 L631.8,262.2 L632.6,261.4 L633.2,260.4 L633.6,259.2 L633.8,257.8 L633.9,256.3 L633.8,254.8 L633.6,253.1 L633.2,251.4 L632.6,249.7 L631.8,248.0 L631.0,246.4 L630.0,244.8 L628.9,243.3 L627.7,241.9 L626.4,240.7 L625.1,239.7 L623.8,238.8 L622.5,238.2 L621.2,237.7 L619.9,237.5 L618.8,237.5 L617.7,237.7 L616.7,238.1" stroke-width="1.12" fill="none" />
<path d="M635.3,260.4 L636.2,259.7 L636.9,258.9 L637.5,257.9 L637.9,256.7 L638.2,255.3 L638.3,253.8 L638.2,252.3 L637.9,250.6 L637.5,248.9 L636.9,247.2 L636.2,245.5 L635.3,243.9 L634.3,242.3 L633.2,240.8 L632.0,239.4 L630.8,238.2 L629.5,237.2 L628.1,236.3 L626.8,235.7 L625.5,235.2 L624.3,235.0 L623.1,235.0 L622.0,235.2 L621.0,235.6" stroke-width="1.12" fill="none" />
<path d="M639.6,257.9 L640.5,257.2 L641.2,256.4 L641.8,255.4 L642.2,254.2 L642.5,252.8 L642.6,251.3 L642.5,249.8 L642.2,248.1 L641.8,246.4 L641.2,244.7 L640.5,243.0 L639.6,241.4 L638.6,239.8 L637.5,238.3 L636.3,236.9 L635.1,235.7 L633.8,234.7 L632.5,233.8 L631.2,233.2 L629.9,232.7 L628.6,232.5 L627.4,232.5 L626.3,232.7 L625.3,233.1" stroke-width="1.12" fill="none" />
<ellipse cx="618.6" cy="253.5" rx="6.9" ry="12.0" transform="rotate(-30 618.6 253.5)" stroke-width="1.5" fill="#fff" />
<polygon points="604.8,247.6 616.8,268.4 624.6,263.9 612.6,243.1" fill="#fff" stroke="none"/>
<line x1="604.8" y1="247.6" x2="612.6" y2="243.1" stroke-width="1.5" />
<line x1="616.8" y1="268.4" x2="624.6" y2="263.9" stroke-width="1.5" />
<ellipse cx="610.8" cy="258.0" rx="6.9" ry="12.0" transform="rotate(-30 610.8 258.0)" stroke-width="1.5" fill="#fff" />
<path d="M619.0,267.1 L619.7,266.6 L620.3,265.9 L620.8,265.0 L621.2,264.0 L621.4,262.9 L621.5,261.7 L621.4,260.3 L621.2,258.9 L620.8,257.5 L620.3,256.1 L619.7,254.7 L619.0,253.3 L618.2,252.0 L617.2,250.7 L616.2,249.6 L615.2,248.6 L614.1,247.7 L613.0,247.0 L611.9,246.4 L610.8,246.0 L609.7,245.8 L608.8,245.8 L607.8,246.0 L607.0,246.4" stroke-width="1.25" fill="none" />
<path d="M621.2,265.9 L621.9,265.4 L622.5,264.6 L623.0,263.8 L623.4,262.8 L623.6,261.6 L623.6,260.4 L623.6,259.1 L623.4,257.7 L623.0,256.3 L622.5,254.8 L621.9,253.4 L621.2,252.0 L620.3,250.7 L619.4,249.5 L618.4,248.3 L617.4,247.3 L616.3,246.4 L615.2,245.7 L614.1,245.1 L613.0,244.8 L611.9,244.6 L610.9,244.6 L610.0,244.7 L609.2,245.1" stroke-width="1.25" fill="none" />
<path d="M623.3,264.6 L624.1,264.1 L624.7,263.4 L625.2,262.5 L625.5,261.5 L625.7,260.4 L625.8,259.2 L625.7,257.8 L625.5,256.4 L625.2,255.0 L624.7,253.6 L624.1,252.2 L623.3,250.8 L622.5,249.5 L621.6,248.2 L620.6,247.1 L619.5,246.1 L618.4,245.2 L617.3,244.5 L616.2,243.9 L615.1,243.5 L614.1,243.3 L613.1,243.3 L612.2,243.5 L611.3,243.9" stroke-width="1.25" fill="none" />
<ellipse cx="610.8" cy="258.0" rx="5.2" ry="9.0" transform="rotate(-30 610.8 258.0)" stroke-width="1.62" fill="#fff" />
<polygon points="602.0,252.7 611.0,268.3 615.3,265.8 606.3,250.2" fill="#fff" stroke="none"/>
<line x1="602.0" y1="252.7" x2="606.3" y2="250.2" stroke-width="1.62" />
<line x1="611.0" y1="268.3" x2="615.3" y2="265.8" stroke-width="1.62" />
<ellipse cx="606.5" cy="260.5" rx="5.2" ry="9.0" transform="rotate(-30 606.5 260.5)" stroke-width="1.62" fill="#fff" />
<ellipse cx="606.5" cy="260.5" rx="3.2" ry="5.5" transform="rotate(-30 606.5 260.5)" stroke-width="1.62" fill="none" />
<ellipse cx="606.5" cy="260.5" rx="1.3" ry="2.2" transform="rotate(-30 606.5 260.5)" stroke-width="1.25" fill="none" />
<ellipse cx="203.8" cy="612.3" rx="19.6" ry="34.0" transform="rotate(-30 203.8 612.3)" stroke-width="1.62" fill="none" />
<ellipse cx="203.8" cy="612.3" rx="18.3" ry="31.8" transform="rotate(-30 203.8 612.3)" stroke-width="1.62" fill="none" />
<path d="M134.5,596.5 L166,608 Q175,612 177,620 L185,668 Q186,674 180,677 L176,679.5 Q172,681 167,677 L140,652 Q132,644 130,636 L124.5,617 Q123,611 126,607 L131,598 Q132.5,596 134.5,596.5 Z" stroke-width="1.75" fill="#fff" />
<ellipse cx="155.7" cy="638.7" rx="17.3" ry="30.0" transform="rotate(-30 155.7 638.7)" stroke-width="1.75" fill="none" />
<ellipse cx="130.3" cy="621.6" rx="2.1" ry="3.6" transform="rotate(-30 130.3 621.6)" stroke-width="1.75" fill="none" />
<ellipse cx="170.7" cy="617.9" rx="2.1" ry="3.6" transform="rotate(-30 170.7 617.9)" stroke-width="1.75" fill="none" />
<ellipse cx="170.5" cy="671.9" rx="2.1" ry="3.6" transform="rotate(-30 170.5 671.9)" stroke-width="1.75" fill="none" />
<line x1="133.0" y1="650.5" x2="215.0" y2="605.4" stroke-width="1.25" />
<path d="M103.6,655.4 C103.6,653.8 106.6,657.7 109.2,657.8 C111.8,657.9 117.0,656.8 119.1,655.8 C121.2,654.8 120.3,653.1 121.9,651.9 C123.6,650.6 127.1,648.3 129.0,648.3 C130.9,648.3 133.0,650.3 133.5,651.9 C134.1,653.5 133.3,656.5 132.1,657.8 C130.9,659.1 128.1,659.1 126.2,659.8 C124.2,660.5 122.2,660.5 120.5,662.1 C118.9,663.6 118.2,668.0 116.3,668.8 C114.4,669.7 111.3,669.7 109.2,667.4 C107.1,665.2 103.6,657.0 103.6,655.4 Z" stroke-width="1.62" fill="#fff" />
<ellipse cx="129.0" cy="654.0" rx="2.4" ry="4.2" transform="rotate(-30 129.0 654.0)" stroke-width="1.75" fill="#fff" />
<line x1="121.9" y1="651.9" x2="124.1" y2="658.9" stroke-width="1.38" />
<path d="M52.6,645.5 C56.7,640.1 59.1,640.1 63.9,639.1 C68.8,638.2 71.6,639.4 76.7,640.8 C81.8,642.3 84.0,643.4 89.4,646.2 C94.8,649.0 99.0,650.5 103.6,654.7 C108.1,658.9 109.3,662.1 112.0,667.4 C114.7,672.8 115.9,675.4 117.0,681.6 C118.1,687.8 118.3,692.3 117.4,698.6 C116.6,704.8 116.9,707.8 112.7,712.7 C108.6,717.6 102.8,720.0 96.5,722.9 C90.1,725.8 84.7,727.2 80.9,727.1 C77.1,727.1 78.2,724.6 77.4,722.6 C76.5,720.6 79.1,718.4 76.7,716.9 C74.3,715.5 69.9,718.6 65.4,715.5 C60.8,712.4 58.3,707.0 54.0,701.4 C49.8,695.7 46.3,694.3 44.1,687.2 C42.0,680.2 41.7,674.4 43.4,666.0 C45.1,657.7 48.5,650.9 52.6,645.5 Z" stroke-width="1.88" fill="#fff" />
<path d="M60.4,642.7 C63.1,643.3 70.7,644.3 76.7,646.2 C82.7,648.1 91.5,650.5 96.5,654.0 C101.4,657.5 104.1,662.8 106.4,667.4 C108.7,672.0 109.8,676.4 110.3,681.6 C110.9,686.8 110.5,693.2 109.9,698.6 C109.4,703.9 107.6,710.9 107.1,713.4" stroke-width="1.5" fill="none" />
<path d="M56.9,646.2 C59.9,647.0 69.6,649.2 75.3,651.2 C80.9,653.2 86.6,655.1 90.8,658.2 C95.1,661.4 98.5,665.9 100.7,670.3 C103.0,674.6 103.7,679.2 104.3,684.4 C104.8,689.6 104.4,696.0 103.8,701.4 C103.2,706.8 101.2,714.3 100.7,716.9" stroke-width="1.5" fill="none" />
<path d="M53.3,650.5 C56.5,651.3 66.9,653.3 72.4,655.4 C78.0,657.5 82.8,660.0 86.6,663.2 C90.3,666.4 93.1,670.5 95.1,674.5 C97.1,678.5 98.1,682.3 98.6,687.2 C99.1,692.2 98.6,699.0 97.9,704.2 C97.2,709.4 94.9,716.0 94.4,718.4" stroke-width="1.38" fill="none" />
<path d="M117.0,680.2 C117.5,680.3 119.3,679.7 119.8,680.9 C120.3,682.0 120.2,686.1 119.8,687.2 C119.4,688.4 117.8,687.8 117.4,687.9" stroke-width="1.5" fill="#fff" />
<path d="M43.4,666.0 L53.3,651.2 L72.4,655.4 L76.7,670.3 L76.7,692.9 L65.4,715.5 L44.1,687.2 Z" stroke-width="1.62" fill="#fff" />
<path d="M72.4,655.4 C74.3,656.2 80.4,657.6 83.7,660.4 C87.0,663.1 90.1,667.2 92.2,671.7 C94.4,676.2 96.0,681.8 96.5,687.2 C96.9,692.7 96.2,699.5 95.1,704.2 C93.9,708.9 92.5,713.4 89.4,715.5 C86.3,717.6 78.8,716.7 76.7,716.9" stroke-width="1.38" fill="none" />
<line x1="76.7" y1="692.9" x2="96.5" y2="687.2" stroke-width="1.38" />
<line x1="76.7" y1="670.3" x2="92.2" y2="671.7" stroke-width="1.25" />
<line x1="51.2" y1="647.6" x2="49.1" y2="658.2" stroke-width="2.0" />
<line x1="55.7" y1="649.3" x2="53.6" y2="659.9" stroke-width="2.0" />
<line x1="60.3" y1="651.0" x2="58.1" y2="661.6" stroke-width="2.0" />
<line x1="64.8" y1="652.7" x2="62.7" y2="663.3" stroke-width="2.0" />
<line x1="69.3" y1="654.4" x2="67.2" y2="665.0" stroke-width="2.0" />
<line x1="73.8" y1="656.1" x2="71.7" y2="666.7" stroke-width="2.0" />
<ellipse cx="62.8" cy="686.1" rx="6.1" ry="10.5" transform="rotate(-30 62.8 686.1)" stroke-width="1.75" fill="#fff" />
<ellipse cx="63.6" cy="685.7" rx="4.3" ry="7.5" transform="rotate(-30 63.6 685.7)" stroke-width="2.25" fill="none" />
<ellipse cx="64.3" cy="685.3" rx="2.3" ry="4.0" transform="rotate(-30 64.3 685.3)" stroke-width="1.62" fill="none" />
<path d="M70.0,696.3 L71.1,696.1 L72.1,695.8 L73.0,695.1 L73.8,694.3 L74.4,693.3 L74.8,692.0 L75.0,690.7 L75.0,689.1 L74.8,687.5 L74.5,685.9 L73.9,684.2 L73.2,682.5 L72.4,680.8 L71.4,679.2 L70.3,677.7 L69.1,676.4 L67.8,675.2 L66.5,674.2 L65.2,673.5 L63.9,672.9 L62.6,672.6 L61.4,672.5 L60.3,672.7 L59.3,673.1" stroke-width="1.38" fill="none" />
<ellipse cx="47.6" cy="657.7" rx="2.3" ry="4.0" transform="rotate(-30 47.6 657.7)" stroke-width="1.75" fill="#fff" />
<polygon points="42.1,656.2 46.1,663.1 49.6,661.1 45.6,654.2" fill="#fff" stroke="none"/>
<line x1="42.1" y1="656.2" x2="45.6" y2="654.2" stroke-width="1.75" />
<line x1="46.1" y1="663.1" x2="49.6" y2="661.1" stroke-width="1.75" />
<ellipse cx="44.1" cy="659.7" rx="2.3" ry="4.0" transform="rotate(-30 44.1 659.7)" stroke-width="1.75" fill="#fff" />
<ellipse cx="44.1" cy="659.7" rx="1.3" ry="2.2" transform="rotate(-30 44.1 659.7)" stroke-width="1.38" fill="none" />
<ellipse cx="46.9" cy="668.3" rx="2.4" ry="4.2" transform="rotate(-30 46.9 668.3)" stroke-width="1.75" fill="#fff" />
<polygon points="41.3,666.6 45.5,673.9 49.0,671.9 44.8,664.6" fill="#fff" stroke="none"/>
<line x1="41.3" y1="666.6" x2="44.8" y2="664.6" stroke-width="1.75" />
<line x1="45.5" y1="673.9" x2="49.0" y2="671.9" stroke-width="1.75" />
<ellipse cx="43.4" cy="670.3" rx="2.4" ry="4.2" transform="rotate(-30 43.4 670.3)" stroke-width="1.75" fill="#fff" />
<ellipse cx="43.4" cy="670.3" rx="1.3" ry="2.3" transform="rotate(-30 43.4 670.3)" stroke-width="1.38" fill="none" />
<ellipse cx="54.7" cy="651.3" rx="2.1" ry="3.6" transform="rotate(-30 54.7 651.3)" stroke-width="1.75" fill="#fff" />
<polygon points="49.4,650.2 53.0,656.4 56.5,654.4 52.9,648.2" fill="#fff" stroke="none"/>
<line x1="49.4" y1="650.2" x2="52.9" y2="648.2" stroke-width="1.75" />
<line x1="53.0" y1="656.4" x2="56.5" y2="654.4" stroke-width="1.75" />
<ellipse cx="51.2" cy="653.3" rx="2.1" ry="3.6" transform="rotate(-30 51.2 653.3)" stroke-width="1.75" fill="#fff" />
<ellipse cx="51.2" cy="653.3" rx="1.1" ry="2.0" transform="rotate(-30 51.2 653.3)" stroke-width="1.38" fill="none" />
<ellipse cx="86.5" cy="665.4" rx="3.2" ry="5.5" transform="rotate(-30 86.5 665.4)" stroke-width="1.75" fill="#fff" />
<polygon points="80.3,662.7 85.8,672.2 89.3,670.2 83.8,660.7" fill="#fff" stroke="none"/>
<line x1="80.3" y1="662.7" x2="83.8" y2="660.7" stroke-width="1.75" />
<line x1="85.8" y1="672.2" x2="89.3" y2="670.2" stroke-width="1.75" />
<ellipse cx="83.0" cy="667.4" rx="3.2" ry="5.5" transform="rotate(-30 83.0 667.4)" stroke-width="1.75" fill="#fff" />
<ellipse cx="83.0" cy="667.4" rx="1.7" ry="3.0" transform="rotate(-30 83.0 667.4)" stroke-width="1.38" fill="none" />
<ellipse cx="85.1" cy="702.2" rx="2.9" ry="5.0" transform="rotate(-30 85.1 702.2)" stroke-width="1.75" fill="#fff" />
<polygon points="79.1,699.9 84.1,708.5 87.6,706.5 82.6,697.9" fill="#fff" stroke="none"/>
<line x1="79.1" y1="699.9" x2="82.6" y2="697.9" stroke-width="1.75" />
<line x1="84.1" y1="708.5" x2="87.6" y2="706.5" stroke-width="1.75" />
<ellipse cx="81.6" cy="704.2" rx="2.9" ry="5.0" transform="rotate(-30 81.6 704.2)" stroke-width="1.75" fill="#fff" />
<ellipse cx="81.6" cy="704.2" rx="1.6" ry="2.8" transform="rotate(-30 81.6 704.2)" stroke-width="1.38" fill="none" />
<ellipse cx="86.5" cy="719.9" rx="3.3" ry="5.8" transform="rotate(-30 86.5 719.9)" stroke-width="1.75" fill="#fff" />
<polygon points="80.1,716.9 85.9,726.9 89.4,724.9 83.6,714.9" fill="#fff" stroke="none"/>
<line x1="80.1" y1="716.9" x2="83.6" y2="714.9" stroke-width="1.75" />
<line x1="85.9" y1="726.9" x2="89.4" y2="724.9" stroke-width="1.75" />
<ellipse cx="83.0" cy="721.9" rx="3.3" ry="5.8" transform="rotate(-30 83.0 721.9)" stroke-width="1.75" fill="#fff" />
<ellipse cx="83.0" cy="721.9" rx="1.8" ry="3.2" transform="rotate(-30 83.0 721.9)" stroke-width="1.38" fill="none" />
<ellipse cx="97.1" cy="711.4" rx="2.0" ry="3.5" transform="rotate(-30 97.1 711.4)" stroke-width="1.75" fill="#fff" />
<polygon points="91.9,710.4 95.4,716.4 98.9,714.4 95.4,708.4" fill="#fff" stroke="none"/>
<line x1="91.9" y1="710.4" x2="95.4" y2="708.4" stroke-width="1.75" />
<line x1="95.4" y1="716.4" x2="98.9" y2="714.4" stroke-width="1.75" />
<ellipse cx="93.6" cy="713.4" rx="2.0" ry="3.5" transform="rotate(-30 93.6 713.4)" stroke-width="1.75" fill="#fff" />
<ellipse cx="93.6" cy="713.4" rx="1.1" ry="1.9" transform="rotate(-30 93.6 713.4)" stroke-width="1.38" fill="none" />
<ellipse cx="98.5" cy="682.4" rx="2.1" ry="3.6" transform="rotate(-30 98.5 682.4)" stroke-width="1.75" fill="#fff" />
<polygon points="93.3,681.3 96.9,687.5 100.3,685.5 96.7,679.3" fill="#fff" stroke="none"/>
<line x1="93.3" y1="681.3" x2="96.7" y2="679.3" stroke-width="1.75" />
<line x1="96.9" y1="687.5" x2="100.3" y2="685.5" stroke-width="1.75" />
<ellipse cx="95.1" cy="684.4" rx="2.1" ry="3.6" transform="rotate(-30 95.1 684.4)" stroke-width="1.75" fill="#fff" />
<ellipse cx="95.1" cy="684.4" rx="1.1" ry="2.0" transform="rotate(-30 95.1 684.4)" stroke-width="1.38" fill="none" />
<path d="M401.6,505 Q403.6,502.5 405.6,505 L405.6,543 L401.6,543 Z" stroke-width="1.5" fill="#555" />
<line x1="403.6" y1="543.0" x2="403.6" y2="552.0" stroke-width="1.25" />
<path d="M353.7,524.8 C359.9,518.4 357.0,521.6 363.6,520.0 C370.1,518.4 368.4,518.4 373.4,520.0 C378.3,521.6 377.2,521.4 378.4,524.8 C379.7,528.2 379.1,527.7 377.1,530.2 C375.1,532.8 375.5,532.8 372.3,532.4 C369.1,532.1 371.1,529.7 367.5,529.2 C363.9,528.6 365.5,526.9 361.4,530.9 C357.3,534.9 358.5,534.1 355.3,541.2 C352.0,548.2 355.0,547.4 351.5,552.1 C348.1,556.8 349.0,555.7 345.0,555.4 C341.0,555.0 339.5,556.5 339.5,551.0 C339.5,545.5 340.2,547.7 345.0,539.0 C349.7,530.2 347.5,531.1 353.7,524.8 Z" stroke-width="1.75" fill="#fff" />
<path d="M347.2,547.7 C349.0,543.0 347.9,541.2 352.6,533.5 C357.4,525.9 355.5,528.4 361.4,524.8 C367.2,521.1 367.2,523.3 370.1,522.6" stroke-width="1.38" fill="none" />
<circle cx="373.4" cy="525.9" r="1.8" stroke-width="1.1"/>
<path d="M338.4,552.1 C342.2,550.3 343.7,547.9 347.2,548.8 C350.7,549.7 350.7,550.7 351.5,555.4 C352.4,560.0 352.2,561.1 350.4,566.3 C348.7,571.5 348.5,571.5 345.0,575.0 C341.5,578.5 338.5,575.9 337.3,579.4 C336.2,582.9 338.2,584.1 340.6,588.2 C343.1,592.2 344.5,590.0 346.5,594.7 C348.6,599.4 350.1,602.1 348.3,605.6 C346.4,609.1 342.4,609.3 339.5,607.8 C336.6,606.4 341.4,604.0 337.3,600.2 C333.3,596.4 328.4,599.2 324.2,593.6 C320.0,588.1 321.3,587.3 321.6,579.4 C321.9,571.5 322.3,570.5 325.3,564.1 C328.3,557.7 329.5,558.6 333.0,555.4 C336.5,552.2 334.6,553.8 338.4,552.1 Z" stroke-width="1.75" fill="#fff" />
<path d="M325.3,566.3 C327.0,565.6 332.2,563.4 335.2,561.9 C338.1,560.5 341.5,558.3 342.8,557.6" stroke-width="1.38" fill="none" />
<path d="M335.2,561.9 C334.8,563.8 332.8,569.2 333.0,572.9 C333.1,576.5 334.8,580.1 336.2,583.8 C337.7,587.4 340.8,592.9 341.7,594.7" stroke-width="1.38" fill="none" />
<path d="M321.6,580.5 L336.2,588.2 L336.9,596.9 L323.8,590.3" stroke-width="1.5" fill="none" />
<path d="M338.0,600.2 L347.8,599.1 L348.3,605.6 L339.5,607.8" stroke-width="1.62" fill="none" />
<line x1="338.6" y1="603.5" x2="348.3" y2="602.4" stroke-width="1.38" />
<circle cx="339.5" cy="554.9" r="2.3" stroke-width="1.3"/>
<path d="M350.4,557.6 C353.1,558.7 350.9,563.6 355.3,567.4 C359.6,571.2 357.9,568.4 363.6,568.9 C369.2,569.4 367.3,567.2 372.3,568.9 C377.3,570.6 377.0,570.1 378.4,573.9 C379.9,577.8 379.4,578.0 376.7,580.5 C373.9,583.1 374.5,582.7 370.1,581.6 C365.7,580.5 368.5,579.0 363.6,577.2 C358.6,575.4 359.8,578.0 355.3,576.1 C350.7,574.3 352.7,575.8 350.0,571.8 C347.3,567.8 347.0,568.9 347.2,564.1 C347.3,559.4 347.8,556.5 350.4,557.6 Z" stroke-width="1.75" fill="#fff" />
<circle cx="372.7" cy="575.0" r="1.8" stroke-width="1.1"/>
<path d="M352.6,570.7 C354.1,571.1 358.5,572.7 361.4,573.3 C364.3,573.8 368.7,573.8 370.1,573.9" stroke-width="1.25" fill="none" />
<line x1="353.7" y1="549.3" x2="385.4" y2="564.1" stroke-width="1.25" />
<line x1="395.2" y1="572.9" x2="403.3" y2="577.2" stroke-width="1.25" />
<line x1="403.3" y1="557.6" x2="403.3" y2="578.3" stroke-width="1.25" />
<path d="M400.7,557.6 C401.7,554.5 403.4,552.6 407.3,552.1 C411.1,551.6 413.4,553.1 417.1,555.4 C420.8,557.7 422.0,554.3 423.0,561.9 C424.0,569.6 423.1,580.5 421.5,588.2 C419.8,595.8 420.9,589.4 416.0,594.7 C411.2,600.1 405.8,606.0 400.7,611.1 C395.6,616.2 397.5,616.1 394.2,616.6 C390.8,617.1 389.0,618.4 386.5,613.3 C384.1,608.2 382.4,601.1 383.7,594.7 C384.9,588.3 387.5,589.3 392.0,586.0 C396.5,582.7 399.1,581.0 402.9,580.5 C406.7,580.0 406.7,587.6 408.4,583.8 C410.0,580.0 411.2,568.4 409.9,564.1 C408.6,559.8 405.0,566.7 402.9,565.2 C400.8,563.7 399.7,560.6 400.7,557.6 Z" stroke-width="1.75" fill="#fff" />
<path d="M409.9,564.1 C410.5,563.4 412.1,560.1 413.8,559.7 C415.6,559.4 419.3,561.6 420.4,561.9" stroke-width="1.38" fill="none" />
<path d="M408.4,583.8 C409.3,584.5 412.5,586.4 413.8,588.2 C415.1,589.9 415.6,593.3 416.0,594.3" stroke-width="1.38" fill="none" />
<path d="M384.3,594.7 C385.6,595.8 390.3,597.7 392.0,601.3 C393.6,604.8 393.8,613.6 394.2,616.1" stroke-width="1.38" fill="none" />
<line x1="392.0" y1="601.3" x2="411.6" y2="586.0" stroke-width="1.38" />
<line x1="400.7" y1="601.3" x2="413.8" y2="593.6" stroke-width="1.25" />
<circle cx="404.0" cy="584.9" r="2.2" stroke-width="1.2"/>
<circle cx="389.8" cy="610.0" r="2.6" stroke-width="1.3"/>
<circle cx="404.4" cy="556.5" r="2" stroke-width="1.2"/>
<ellipse cx="398.7" cy="557.9" rx="5.2" ry="9.0" transform="rotate(-30 398.7 557.9)" stroke-width="1.75" fill="#fff" />
<polygon points="386.4,554.6 395.4,570.2 403.2,565.7 394.2,550.1" fill="#fff" stroke="none"/>
<line x1="386.4" y1="554.6" x2="394.2" y2="550.1" stroke-width="1.75" />
<line x1="395.4" y1="570.2" x2="403.2" y2="565.7" stroke-width="1.75" />
<ellipse cx="390.9" cy="562.4" rx="5.2" ry="9.0" transform="rotate(-30 390.9 562.4)" stroke-width="1.75" fill="#fff" />
<ellipse cx="390.9" cy="562.4" rx="2.1" ry="3.6" transform="rotate(-30 390.9 562.4)" stroke-width="1.75" fill="none" />
<line x1="329.6" y1="737.4" x2="426.0" y2="737.4" stroke-width="2.2" />
<path d="M328,661.5 L338.6,661.5 L338.6,666.8 L328,666.8 Z" stroke-width="1.75" fill="#fff" />
<path d="M330.8,666.8 L335.8,666.8 L335.8,681.5 L330.8,681.5 Z" stroke-width="1.5" fill="#fff" />
<line x1="330.8" y1="670.0" x2="335.8" y2="670.0" stroke-width="1.25" />
<line x1="330.8" y1="672.5" x2="335.8" y2="672.5" stroke-width="1.25" />
<line x1="330.8" y1="675.0" x2="335.8" y2="675.0" stroke-width="1.25" />
<line x1="330.8" y1="677.5" x2="335.8" y2="677.5" stroke-width="1.25" />
<line x1="330.8" y1="680.0" x2="335.8" y2="680.0" stroke-width="1.25" />
<line x1="333.3" y1="681.5" x2="333.3" y2="696.0" stroke-width="1.25" />
<line x1="328.4" y1="695.4" x2="345.0" y2="697.6" stroke-width="2.4" />
<path d="M332.5,697.2 C332.5,700.2 332.1,716.9 332.5,720.4 C333.0,723.8 332.8,722.8 335.7,723.3 C338.6,723.8 351.1,725.4 354.0,724.0 C356.9,722.6 356.9,716.3 357.7,713.0 C358.5,709.8 359.8,701.4 360.1,699.6" stroke-width="1.62" fill="none" />
<path d="M344.2,697.9 C345.6,699.0 345.9,700.7 349.1,702.0 C352.4,703.3 353.4,703.6 356.5,702.8 C359.5,702.0 359.5,700.1 360.6,699.1" stroke-width="1.75" fill="#333" />
<line x1="345.0" y1="697.6" x2="360.5" y2="699.2" stroke-width="1.62" />
<line x1="396.8" y1="664.1" x2="414.1" y2="656.0" stroke-width="5.2" stroke-linecap="round"/>
<line x1="396.8" y1="664.1" x2="414.1" y2="656.0" stroke-width="2.2" stroke="#fff" stroke-linecap="round"/>
<line x1="396.2" y1="662.5" x2="397.4" y2="665.7" stroke-width="1.25" />
<line x1="397.8" y1="661.7" x2="399.0" y2="664.9" stroke-width="1.25" />
<line x1="399.3" y1="661.0" x2="400.5" y2="664.2" stroke-width="1.25" />
<line x1="400.9" y1="660.3" x2="402.1" y2="663.5" stroke-width="1.25" />
<line x1="402.4" y1="659.5" x2="403.6" y2="662.7" stroke-width="1.25" />
<line x1="404.0" y1="658.8" x2="405.2" y2="662.0" stroke-width="1.25" />
<line x1="405.6" y1="658.1" x2="406.8" y2="661.3" stroke-width="1.25" />
<line x1="407.1" y1="657.4" x2="408.3" y2="660.6" stroke-width="1.25" />
<line x1="408.7" y1="656.6" x2="409.9" y2="659.8" stroke-width="1.25" />
<line x1="410.9" y1="654.8" x2="412.7" y2="659.4" stroke-width="1.62" />
<path d="M394.7,666.0 Q388.3,668.3 387.8,671.8 L387.8,686.3" stroke-width="2.3" fill="none" stroke-dasharray="6 3.5" stroke-linecap="butt"/>
<path d="M369.8,710.6 C369.9,706.1 369.7,704.1 370.4,702.5 C371.1,700.8 373.0,699.9 374.5,699.6 C375.9,699.2 378.8,700.6 380.2,700.2 C381.7,699.7 383.0,698.2 384.3,696.7 C385.6,695.1 387.5,691.4 388.9,689.7 C390.3,688.1 391.5,686.5 393.5,685.7 C395.6,684.9 400.9,684.5 402.8,684.5 C404.7,684.6 405.8,685.3 406.3,686.3 C406.8,687.2 407.3,690.2 406.3,690.9 C405.2,691.6 401.0,690.6 399.3,691.1 C397.7,691.7 396.1,693.0 395.3,694.4 C394.5,695.7 393.9,697.9 393.8,700.2 C393.7,702.4 394.6,707.0 394.7,709.4 C394.8,711.8 394.2,715.1 394.7,716.4 C395.2,717.6 396.4,717.2 398.2,717.5 C399.9,717.9 405.1,717.8 406.3,718.7 C407.5,719.5 407.5,722.3 406.3,723.3 C405.1,724.2 400.3,724.7 398.2,725.0 C396.1,725.4 394.0,724.5 392.4,725.6 C390.8,726.7 388.5,730.0 387.8,732.5 C387.1,735.1 388.8,740.9 387.8,742.4 C386.7,743.9 382.7,742.5 380.8,742.4 C378.9,742.3 376.7,743.3 375.0,741.8 C373.4,740.3 370.6,737.2 369.8,732.5 C369.1,727.9 369.7,715.1 369.8,710.6 Z" stroke-width="1.75" fill="#fff" />
<path d="M384.3,696.7 C384.9,697.3 386.8,698.8 387.8,700.2 C388.8,701.5 389.9,700.9 390.3,704.8 C390.7,708.6 390.3,720.2 390.3,723.3" stroke-width="1.62" fill="none" />
<line x1="384.9" y1="704.8" x2="384.9" y2="723.3" stroke-width="2.0" />
<line x1="387.8" y1="704.8" x2="387.8" y2="721.0" stroke-width="1.62" />
<path d="M377.4,714.0 C377.2,715.2 375.6,719.1 376.2,721.0 C376.8,722.9 379.4,725.1 380.8,725.6 C382.3,726.1 384.2,724.2 384.9,723.9" stroke-width="1.62" fill="none" />
<path d="M377.4,714.0 C378.1,713.6 380.7,711.9 382.0,711.1 C383.2,710.4 384.4,709.7 384.9,709.4" stroke-width="1.5" fill="none" />
<path d="M388.9,689.7 C389.4,690.2 391.0,690.9 391.8,692.6 C392.6,694.4 393.3,698.9 393.5,700.2" stroke-width="1.38" fill="none" />
<line x1="394.7" y1="716.4" x2="390.3" y2="723.3" stroke-width="1.38" />
<path d="M369.8,727.9 L377.4,736.0 L377.4,741.8 L375.0,741.8 L369.8,732.5 Z" stroke-width="1.62" fill="#333" />
<path d="M371.6,723.3 L383.1,733.7 L380.8,736.0 L371.0,726.8 Z" stroke-width="1.5" fill="#fff" />
<path d="M380.2,738.3 L387.8,738.3 L387.8,743.2 L380.2,743.2 Z" stroke-width="1.75" fill="#fff" />
<line x1="380.2" y1="740.6" x2="387.8" y2="740.6" stroke-width="1.38" />
<circle cx="374.5" cy="705.9" r="5.2" fill="#fff" stroke-width="1.8"/>
<circle cx="374.0" cy="704.9" r="2.2" stroke-width="1.3"/>
<line x1="367.2" y1="707.7" x2="369.5" y2="707.1" stroke-width="1.25" />
<ellipse cx="403.0" cy="688.0" rx="3.8" ry="2.6" fill="#333" stroke-width="1.5"/>
<ellipse cx="402.6" cy="698.4" rx="5" ry="3.4" fill="#333" stroke-width="1.5"/>
<ellipse cx="403.0" cy="708.3" rx="5" ry="3.4" fill="#333" stroke-width="1.5"/>
<ellipse cx="403.4" cy="719.2" rx="4.2" ry="3.2" fill="#333" stroke-width="1.5"/>
<line x1="402.8" y1="679.9" x2="402.8" y2="685.7" stroke-width="1.5" />
<line x1="403.0" y1="690.9" x2="403.0" y2="716.4" stroke-width="3" />
<line x1="402.6" y1="725.6" x2="402.6" y2="731.4" stroke-width="1.38" />
<path d="M273.2,729.1 L278.4,722.9 L286.6,720.8 L286.6,755.8 L282.5,755.8 L276.3,750.7 L276.3,741.4 L273.2,740.4 Z" stroke-width="1.75" fill="#fff" />
<path d="M295.3,721.9 L301.5,721.9 L301.5,723.9 L313.3,733.2 L314.4,735.2 L314.4,741.4 L306.1,747.6 L301.5,753.8 L301.5,757.9 L295.3,757.9 Z" stroke-width="1.75" fill="#fff" />
<path d="M286.6,714.7 L295.3,714.7 L295.3,762.0 L286.6,762.0 Z" stroke-width="2.0" fill="#fff" />
<line x1="291.5" y1="714.7" x2="291.5" y2="762.0" stroke-width="1.62" />
<path d="M282.5,755.8 L286.6,755.8 L286.6,761.0 L283.0,759.9 Z" stroke-width="1.62" fill="#333" />
<path d="M295.3,756.8 L301.0,756.8 L300.5,761.0 L295.3,761.0 Z" stroke-width="1.62" fill="#333" />
<path d="M283.0,727.0 L286.6,727.0 L286.6,732.2 L283.0,732.2" stroke-width="1.5" fill="none" />
<path d="M287.1,730.1 L290.7,730.1 L290.7,734.2 L287.1,734.2" stroke-width="1.5" fill="none" />
<path d="M296.4,728.0 L300.5,728.0 L300.5,731.1 L296.4,731.1" stroke-width="1.5" fill="none" />
<line x1="276.3" y1="741.4" x2="286.6" y2="741.4" stroke-width="1.38" />
<line x1="277.9" y1="750.7" x2="286.6" y2="750.7" stroke-width="1.38" />
<line x1="297.9" y1="721.9" x2="297.9" y2="756.8" stroke-width="1.38" />
<line x1="301.5" y1="723.9" x2="301.5" y2="753.8" stroke-width="1.38" />
<line x1="306.1" y1="729.1" x2="306.1" y2="747.6" stroke-width="1.38" />
<path d="M314.4,735.8 L318.5,735.8 L318.5,740.9 L314.4,740.9 Z" stroke-width="1.62" fill="#fff" />
<path d="M318.5,736.8 L324.1,736.8 L324.1,739.4 L318.5,739.4 Z" stroke-width="1.5" fill="#fff" />
<path d="M324.1,734.2 L327.7,734.2 L327.7,741.4 L324.1,741.4 Z" stroke-width="1.75" fill="#222" />
<path d="M445.8,703.0 C447.2,682.5 443.0,697.2 445.3,687.6 C447.6,677.9 447.2,678.9 453.6,670.8 C459.9,662.8 458.7,665.2 466.4,660.6 C474.1,655.9 471.6,657.4 479.3,655.4 C487.0,653.5 484.4,653.8 492.1,654.1 C499.8,654.5 497.3,653.6 505.0,656.7 C512.7,659.8 509.3,659.4 517.8,664.4 C526.3,669.4 523.2,666.1 533.3,673.4 C543.3,680.7 541.2,679.2 551.2,688.8 C561.3,698.5 558.2,694.8 566.7,705.6 C575.2,716.3 572.2,712.1 579.5,724.8 C586.9,737.6 585.5,734.1 591.1,748.0 C596.6,761.9 595.2,758.0 598.0,771.1 C600.9,784.2 600.4,778.6 600.6,791.7 C600.8,804.8 600.6,802.5 598.5,814.8 C596.5,827.1 599.4,826.2 593.7,832.8 C588.0,839.4 587.6,834.0 579.5,836.7 C571.4,839.4 575.9,839.5 566.7,841.8 C557.4,844.1 556.4,844.8 548.7,844.4 C541.0,844.0 544.8,844.0 541.0,840.5 C537.1,837.0 540.4,835.1 535.8,832.8 C531.2,830.5 532.5,830.9 525.5,832.8 C518.6,834.7 519.6,834.6 512.7,839.2 C505.7,843.9 507.8,845.1 502.4,848.2 C497.0,851.3 498.2,850.7 494.7,849.5 C491.2,848.4 499.3,853.2 490.8,844.4 C482.4,835.5 481.5,846.6 466.4,819.9 C451.4,793.3 446.9,790.8 440.7,755.7 C434.5,720.6 444.5,723.4 445.8,703.0 Z" stroke-width="1.75" fill="#fff" />
<path d="M449.7,695.3 C451.6,689.5 450.7,684.9 456.1,676.0 C461.5,667.1 460.4,670.2 467.7,665.7 C475.0,661.2 473.2,662.8 480.6,661.1 C487.9,659.4 485.2,659.6 492.1,660.1 C499.1,660.5 496.4,659.8 503.7,662.6 C511.0,665.5 508.4,664.8 516.5,669.6 C524.6,674.3 521.4,671.6 530.7,678.6 C539.9,685.5 537.8,683.4 547.4,692.7 C557.0,702.0 554.6,699.0 562.8,709.4 C571.1,719.8 568.0,715.1 574.9,727.4 C581.8,739.7 580.6,737.0 586.0,750.5 C591.3,764.0 590.2,760.1 592.9,772.4 C595.6,784.7 594.8,779.7 594.9,791.7 C595.1,803.6 594.9,801.1 593.4,812.2 C591.9,823.4 590.9,823.9 589.8,828.9" stroke-width="1.38" fill="none" />
<path d="M577.5,717.1 L594.9,721.7 L599.1,726.9 L599.1,737.7 L592.9,742.3 L584.7,737.7 Z" stroke-width="1.62" fill="#fff" />
<path d="M589.8,727.4 L598.5,728.7 L598.5,737.2 L592.4,741.5 L589.8,736.4" stroke-width="1.38" fill="none" />
<path d="M574.9,799.4 L592.4,808.4 L592.9,832.8 L579.5,836.7" stroke-width="1.62" fill="#fff" />
<path d="M583.4,784.0 C584.9,782.7 590.6,785.2 592.4,787.8 C594.2,790.4 593.9,795.5 592.4,796.8 C590.8,798.1 586.5,796.8 584.7,794.2 C582.9,791.7 581.8,785.2 583.4,784.0 Z" stroke-width="1.5" fill="#fff" />
<path d="M453.6,707.4 C456.3,701.2 466.4,692.7 474.1,685.0 C481.8,677.3 477.6,681.1 482.4,678.6 C487.2,676.0 487.1,675.5 492.1,675.5 C497.1,675.5 497.3,675.0 501.1,678.6 C504.9,682.1 503.2,682.0 506.3,688.8 C509.3,695.7 508.2,695.4 512.7,704.3 C517.1,713.2 518.7,712.0 523.0,722.3 C527.2,732.5 526.7,731.9 528.6,742.8 C530.5,753.8 530.3,752.4 530.2,763.4 C530.0,774.4 529.5,773.7 528.1,784.0 C526.7,794.2 524.3,795.1 525.0,802.0 C525.7,808.8 528.5,804.9 530.7,809.7 C532.9,814.5 533.9,814.5 533.3,819.9 C532.6,825.4 533.6,825.1 528.1,830.2 C522.6,835.4 520.9,835.1 512.7,839.2 C504.5,843.3 502.7,846.7 497.3,845.7 C491.8,844.6 491.4,849.1 492.1,835.4 C492.8,821.7 498.5,814.1 499.8,794.2 C501.2,774.4 502.7,778.6 497.3,760.8 C491.8,743.0 488.2,741.5 479.3,727.4 C470.4,713.4 470.7,713.5 463.8,708.1 C457.0,702.8 450.8,713.5 453.6,707.4 Z" stroke-width="1.62" fill="#fff" />
<path d="M474.1,685.0 C474.8,686.1 475.4,689.7 478.0,691.4 C480.6,693.1 485.7,695.1 489.6,695.3 C493.4,695.5 498.3,693.8 501.1,692.7 C503.9,691.6 505.4,689.5 506.3,688.8" stroke-width="1.38" fill="none" />
<path d="M492.1,675.5 C492.8,677.1 494.7,681.0 496.0,685.0 C497.3,688.9 497.5,694.2 499.8,699.1 C502.2,704.1 508.4,712.0 510.1,714.6" stroke-width="1.38" fill="none" />
<path d="M482.4,678.6 C483.3,680.7 486.6,687.1 488.3,691.4 C489.9,695.7 489.6,699.1 492.1,704.3 C494.7,709.4 501.8,719.3 503.7,722.3" stroke-width="1.38" fill="none" />
<path d="M499.8,699.1 C498.1,700.4 493.0,703.8 489.6,706.8 C486.1,709.8 481.0,715.4 479.3,717.1" stroke-width="1.38" fill="none" />
<path d="M514.0,706.3 L523.0,701.7 L564.1,715.1 L569.8,717.1 L528.1,733.1 L525.0,728.7 Z" stroke-width="1.62" fill="#fff" />
<line x1="523.0" y1="701.7" x2="529.4" y2="724.8" stroke-width="1.38" />
<line x1="529.4" y1="724.8" x2="565.4" y2="713.3" stroke-width="1.38" />
<path d="M569.8,717.1 C571.4,722.3 577.3,738.5 579.5,748.0 C581.8,757.4 583.4,766.6 583.4,773.7 C583.4,780.7 580.2,787.6 579.5,790.4" stroke-width="1.5" fill="none" />
<path d="M528.1,733.1 C528.5,734.7 530.5,737.8 530.7,742.8 C530.9,747.9 530.3,753.5 529.4,763.4 C528.5,773.2 526.2,795.5 525.5,802.0" stroke-width="1.62" fill="none" />
<path d="M530.2,741.5 L559.0,728.7 L569.2,726.1" stroke-width="1.38" fill="none" />
<path d="M525.5,802.0 L529.4,790.4 L574.4,785.2 L579.5,790.4 L533.3,804.5 Z" stroke-width="1.62" fill="#fff" />
<line x1="529.4" y1="790.4" x2="532.0" y2="800.7" stroke-width="1.38" />
<path d="M533.3,804.5 C533.7,806.7 536.7,813.1 535.8,817.4 C535.0,821.7 529.4,828.1 528.1,830.2" stroke-width="1.5" fill="none" />
<path d="M579.5,790.4 C578.9,792.7 577.4,799.6 575.7,804.5 C574.0,809.5 572.0,815.7 569.2,819.9 C566.5,824.2 563.2,827.7 559.0,830.2 C554.7,832.8 546.1,834.5 543.5,835.4" stroke-width="1.5" fill="none" />
<ellipse cx="466.4" cy="668.8" rx="3.0" ry="5.2" transform="rotate(30 466.4 668.8)" stroke-width="1.62" fill="#fff" />
<ellipse cx="466.9" cy="669.1" rx="1.5" ry="2.6" transform="rotate(30 466.9 669.1)" stroke-width="1.5" fill="none" />
<ellipse cx="490.8" cy="664.9" rx="3.0" ry="5.2" transform="rotate(30 490.8 664.9)" stroke-width="1.62" fill="#fff" />
<ellipse cx="491.3" cy="665.2" rx="1.5" ry="2.6" transform="rotate(30 491.3 665.2)" stroke-width="1.5" fill="none" />
<ellipse cx="525.5" cy="681.1" rx="3.0" ry="5.2" transform="rotate(30 525.5 681.1)" stroke-width="1.62" fill="#fff" />
<ellipse cx="526.0" cy="681.4" rx="1.5" ry="2.6" transform="rotate(30 526.0 681.4)" stroke-width="1.5" fill="none" />
<ellipse cx="546.1" cy="697.8" rx="3.0" ry="5.2" transform="rotate(30 546.1 697.8)" stroke-width="1.62" fill="#fff" />
<ellipse cx="546.6" cy="698.1" rx="1.5" ry="2.6" transform="rotate(30 546.6 698.1)" stroke-width="1.5" fill="none" />
<ellipse cx="569.2" cy="728.7" rx="3.0" ry="5.2" transform="rotate(30 569.2 728.7)" stroke-width="1.62" fill="#fff" />
<ellipse cx="569.7" cy="729.0" rx="1.5" ry="2.6" transform="rotate(30 569.7 729.0)" stroke-width="1.5" fill="none" />
<ellipse cx="584.7" cy="766.0" rx="3.0" ry="5.2" transform="rotate(30 584.7 766.0)" stroke-width="1.62" fill="#fff" />
<ellipse cx="585.2" cy="766.3" rx="1.5" ry="2.6" transform="rotate(30 585.2 766.3)" stroke-width="1.5" fill="none" />
<ellipse cx="584.7" cy="812.8" rx="3.0" ry="5.2" transform="rotate(30 584.7 812.8)" stroke-width="1.62" fill="#fff" />
<ellipse cx="585.2" cy="813.1" rx="1.5" ry="2.6" transform="rotate(30 585.2 813.1)" stroke-width="1.5" fill="none" />
<ellipse cx="569.2" cy="834.1" rx="3.0" ry="5.2" transform="rotate(30 569.2 834.1)" stroke-width="1.62" fill="#fff" />
<ellipse cx="569.7" cy="834.4" rx="1.5" ry="2.6" transform="rotate(30 569.7 834.4)" stroke-width="1.5" fill="none" />
<ellipse cx="544.8" cy="837.9" rx="3.0" ry="5.2" transform="rotate(30 544.8 837.9)" stroke-width="1.62" fill="#fff" />
<ellipse cx="545.3" cy="838.2" rx="1.5" ry="2.6" transform="rotate(30 545.3 838.2)" stroke-width="1.5" fill="none" />
<ellipse cx="451.0" cy="687.6" rx="3.0" ry="5.2" transform="rotate(30 451.0 687.6)" stroke-width="1.62" fill="#fff" />
<ellipse cx="451.5" cy="687.9" rx="1.5" ry="2.6" transform="rotate(30 451.5 687.9)" stroke-width="1.5" fill="none" />
<line x1="460.0" y1="678.6" x2="469.0" y2="681.1" stroke-width="1.38" />
<line x1="475.4" y1="660.6" x2="479.3" y2="673.4" stroke-width="1.38" />
<line x1="499.8" y1="655.9" x2="498.5" y2="668.3" stroke-width="1.38" />
<line x1="505.0" y1="656.7" x2="515.3" y2="695.3" stroke-width="1.38" />
<line x1="517.8" y1="664.4" x2="514.0" y2="676.0" stroke-width="1.38" />
<line x1="535.8" y1="674.7" x2="532.0" y2="687.6" stroke-width="1.38" />
<line x1="555.1" y1="691.4" x2="548.7" y2="704.3" stroke-width="1.38" />
<line x1="561.5" y1="724.8" x2="577.0" y2="722.3" stroke-width="1.38" />
<line x1="592.4" y1="750.5" x2="582.1" y2="753.1" stroke-width="1.38" />
<line x1="579.5" y1="794.2" x2="594.9" y2="791.7" stroke-width="1.38" />
<path d="M492.1,843.1 C491.4,845.6 493.2,848.0 496.0,849.5 C498.7,851.0 500.3,850.5 502.4,848.7 C504.5,847.0 504.7,845.4 503.7,843.1 C502.7,840.8 501.6,840.0 498.5,840.0 C495.5,840.0 492.8,840.5 492.1,843.1 Z" stroke-width="1.62" fill="#fff" />
<circle cx="497.8" cy="844.9" r="2" stroke-width="1.1"/>
<line x1="503.7" y1="843.1" x2="535.8" y2="833.3" stroke-width="1.5" />
<path d="M430.4,719.7 C434.9,712.4 433.4,717.5 440.7,713.3 C448.0,709.0 447.9,707.1 454.8,705.6 C461.8,704.0 459.2,704.7 463.8,708.1 C468.5,711.6 465.6,711.0 470.3,717.1 C474.9,723.3 473.5,720.2 479.3,728.7 C485.1,737.2 484.2,735.0 489.6,745.4 C494.9,755.8 493.8,751.8 497.3,763.4 C500.7,775.0 500.7,771.6 501.1,784.0 C501.5,796.3 500.9,792.2 498.5,804.5 C496.2,816.9 496.5,814.3 493.4,825.1 C490.3,835.9 492.1,833.2 488.3,840.5 C484.4,847.8 486.3,845.7 480.6,849.5 C474.8,853.4 476.3,853.8 469.0,853.4 C461.7,853.0 463.8,854.0 456.1,848.2 C448.4,842.4 450.6,844.1 443.3,834.1 C436.0,824.1 437.1,827.5 431.7,814.8 C426.3,802.1 427.6,807.1 425.3,791.7 C423.0,776.2 423.8,779.6 424.0,763.4 C424.2,747.2 423.9,750.8 425.8,737.7 C427.7,724.6 426.0,727.0 430.4,719.7 Z" stroke-width="1.75" fill="#fff" />
<path d="M439.4,724.8 C445.2,718.7 445.5,719.7 453.6,719.7 C461.7,719.7 459.9,719.8 466.4,724.8 C473.0,729.8 470.0,727.9 475.4,736.4 C480.8,744.9 479.8,741.9 484.4,753.1 C489.0,764.3 488.5,761.3 490.8,773.7 C493.1,786.0 492.9,781.1 492.1,794.2 C491.3,807.4 491.2,805.0 488.3,817.4 C485.3,829.7 486.2,827.7 482.4,835.4 C478.5,843.1 480.2,840.8 475.4,843.1 C470.6,845.4 473.0,845.4 466.4,843.1 C459.9,840.8 461.3,843.1 453.6,835.4 C445.8,827.7 446.9,829.7 440.7,817.4 C434.5,805.0 435.7,810.4 433.0,794.2 C430.3,778.0 431.3,779.6 431.7,763.4 C432.1,747.2 432.0,751.8 434.3,740.3 C436.6,728.7 433.6,731.0 439.4,724.8 Z" stroke-width="1.5" fill="none" />
<path d="M439.4,728.7 C440.5,731.9 442.6,742.6 445.8,748.0 C449.1,753.3 453.6,756.1 458.7,760.8 C463.8,765.5 471.6,770.7 476.7,776.2 C481.8,781.8 487.4,791.2 489.6,794.2" stroke-width="1.38" fill="none" />
<path d="M461.3,727.4 C462.8,731.3 467.7,743.7 470.3,750.5 C472.8,757.4 475.6,765.5 476.7,768.5" stroke-width="1.38" fill="none" />
<path d="M476.7,714.6 C476.3,716.3 473.7,720.5 474.1,724.8 C474.6,729.1 476.7,734.3 479.3,740.3 C481.8,746.3 487.8,757.4 489.6,760.8" stroke-width="1.62" fill="none" />
<path d="M466.4,759.5 C468.5,755.9 473.9,752.8 479.3,753.1 C484.7,753.4 486.6,756.0 489.6,760.8 C492.5,765.6 493.9,769.5 492.1,773.7 C490.3,777.9 486.9,780.0 481.8,778.8 C476.7,777.6 473.9,773.0 470.3,768.5 C466.7,764.0 464.3,763.1 466.4,759.5 Z" stroke-width="1.5" fill="#fff" />
<path d="M475.4,768.5 C476.9,768.1 482.1,765.1 484.4,766.0 C486.8,766.8 488.7,772.4 489.6,773.7" stroke-width="1.38" fill="none" />
<path d="M484.4,724.8 L497.3,721.0 L502.4,728.7 L499.8,736.4 L492.1,735.1" stroke-width="1.5" fill="none" />
<ellipse cx="460.8" cy="806.6" rx="13.8" ry="24.0" transform="rotate(-30 460.8 806.6)" stroke-width="1.75" fill="#fff" />
<path d="M452.8,785.5 L451.5,786.5 L450.4,787.8 L449.5,789.4 L448.8,791.2 L448.4,793.3 L448.3,795.5 L448.4,798.0 L448.8,800.5 L449.5,803.1 L450.4,805.7 L451.5,808.3 L452.9,810.9 L454.4,813.3 L456.1,815.6 L457.9,817.7 L459.8,819.5 L461.8,821.2 L463.8,822.5 L465.9,823.5 L467.9,824.2 L469.8,824.6 L471.6,824.6 L473.3,824.2 L474.8,823.6" stroke-width="1.38" fill="none" />
<path d="M455.0,786.8 L454.1,787.9 L453.4,789.2 L452.8,790.7 L452.4,792.4 L452.3,794.2 L452.3,796.1 L452.5,798.2 L453.0,800.3 L453.6,802.4 L454.4,804.5 L455.3,806.7 L456.4,808.8 L457.7,810.7 L459.0,812.6 L460.5,814.4 L462.0,816.0 L463.7,817.4 L465.3,818.6 L467.0,819.6 L468.6,820.4 L470.3,820.9 L471.8,821.2 L473.3,821.2 L474.7,821.0" stroke-width="1.38" fill="none" />
<path d="M434.3,773.7 C435.8,775.4 441.3,780.5 443.3,784.0 C445.2,787.4 445.4,792.5 445.8,794.2" stroke-width="1.38" fill="none" />
<path d="M435.6,799.4 C436.9,802.4 440.3,812.2 443.3,817.4 C446.3,822.5 449.7,826.8 453.6,830.2 C457.4,833.7 464.3,836.7 466.4,837.9" stroke-width="1.38" fill="none" />
<path d="M476.7,819.9 C477.6,817.4 480.2,808.0 482.4,804.5 C484.5,801.1 488.4,800.2 489.6,799.4" stroke-width="1.38" fill="none" />
<path d="M445.8,819.9 C445.8,817.6 448.9,816.3 451.0,817.4 C453.0,818.4 456.1,822.8 456.1,825.1 C456.1,827.4 453.0,830.0 451.0,828.9 C448.9,827.9 445.8,822.3 445.8,819.9 Z" stroke-width="1.38" fill="none" />
<path d="M458.7,831.5 C459.2,829.6 463.1,828.2 465.1,828.9 C467.2,829.7 469.5,833.5 469.0,835.4 C468.5,837.3 464.6,839.2 462.6,838.5 C460.5,837.7 458.2,833.4 458.7,831.5 Z" stroke-width="1.38" fill="none" />
<path d="M472.8,831.5 C473.4,828.8 477.4,825.1 479.3,825.1 C481.2,825.1 482.9,828.8 482.4,831.5 C481.8,834.2 478.6,838.5 476.7,838.5 C474.8,838.5 472.3,834.2 472.8,831.5 Z" stroke-width="1.38" fill="none" />
<path d="M434.3,780.1 C434.5,778.0 437.6,776.8 439.4,777.5 C441.2,778.3 443.5,781.9 443.3,784.0 C443.0,786.0 439.9,788.6 438.1,787.8 C436.3,787.0 434.0,782.2 434.3,780.1 Z" stroke-width="1.38" fill="none" />
<path d="M440.7,772.4 C441.5,771.4 445.3,772.1 447.1,773.7 C448.9,775.2 450.5,779.1 449.7,780.1 C448.9,781.1 445.1,780.4 443.3,778.8 C441.5,777.3 439.9,773.4 440.7,772.4 Z" stroke-width="1.38" fill="none" />
<ellipse cx="439.4" cy="715.8" rx="1.3" ry="2.2" transform="rotate(-30 439.4 715.8)" stroke-width="1.5" fill="none" />
<ellipse cx="433.0" cy="728.7" rx="1.3" ry="2.2" transform="rotate(-30 433.0 728.7)" stroke-width="1.5" fill="none" />
<ellipse cx="430.4" cy="750.5" rx="1.3" ry="2.2" transform="rotate(-30 430.4 750.5)" stroke-width="1.5" fill="none" />
<ellipse cx="427.9" cy="772.4" rx="1.3" ry="2.2" transform="rotate(-30 427.9 772.4)" stroke-width="1.5" fill="none" />
<ellipse cx="427.3" cy="795.5" rx="1.3" ry="2.2" transform="rotate(-30 427.3 795.5)" stroke-width="1.5" fill="none" />
<ellipse cx="435.6" cy="819.9" rx="1.3" ry="2.2" transform="rotate(-30 435.6 819.9)" stroke-width="1.5" fill="none" />
<ellipse cx="447.1" cy="836.7" rx="1.3" ry="2.2" transform="rotate(-30 447.1 836.7)" stroke-width="1.5" fill="none" />
<ellipse cx="457.4" cy="846.9" rx="1.3" ry="2.2" transform="rotate(-30 457.4 846.9)" stroke-width="1.5" fill="none" />
<ellipse cx="465.1" cy="848.7" rx="1.3" ry="2.2" transform="rotate(-30 465.1 848.7)" stroke-width="1.5" fill="none" />
<ellipse cx="475.4" cy="847.7" rx="1.3" ry="2.2" transform="rotate(-30 475.4 847.7)" stroke-width="1.5" fill="none" />
<ellipse cx="488.3" cy="834.1" rx="1.3" ry="2.2" transform="rotate(-30 488.3 834.1)" stroke-width="1.5" fill="none" />
<ellipse cx="493.4" cy="814.3" rx="1.3" ry="2.2" transform="rotate(-30 493.4 814.3)" stroke-width="1.5" fill="none" />
<ellipse cx="496.7" cy="793.7" rx="1.3" ry="2.2" transform="rotate(-30 496.7 793.7)" stroke-width="1.5" fill="none" />
<ellipse cx="498.5" cy="772.4" rx="1.3" ry="2.2" transform="rotate(-30 498.5 772.4)" stroke-width="1.5" fill="none" />
<ellipse cx="492.1" cy="746.7" rx="1.3" ry="2.2" transform="rotate(-30 492.1 746.7)" stroke-width="1.5" fill="none" />
<ellipse cx="460.0" cy="715.1" rx="3.8" ry="6.5" transform="rotate(30 460.0 715.1)" stroke-width="1.75" fill="#fff" />
<ellipse cx="460.0" cy="715.1" rx="1.8" ry="3.2" transform="rotate(30 460.0 715.1)" stroke-width="1.75" fill="none" />
<ellipse cx="483.9" cy="733.8" rx="2.9" ry="5.0" transform="rotate(30 483.9 733.8)" stroke-width="1.62" fill="#fff" />
<ellipse cx="483.9" cy="733.8" rx="1.4" ry="2.4" transform="rotate(30 483.9 733.8)" stroke-width="1.5" fill="none" />
<ellipse cx="451.0" cy="689.4" rx="3.2" ry="5.5" transform="rotate(30 451.0 689.4)" stroke-width="1.62" fill="#fff" />
<ellipse cx="451.0" cy="689.4" rx="1.5" ry="2.6" transform="rotate(30 451.0 689.4)" stroke-width="1.5" fill="none" />
<path d="M445.8,703.0 C447.6,702.3 452.7,698.9 456.1,699.1 C459.6,699.3 463.4,701.3 466.4,704.3 C469.4,707.3 472.8,715.0 474.1,717.1" stroke-width="1.5" fill="none" />
<line x1="501.9" y1="849.5" x2="537.9" y2="837.4" stroke-width="1.5" />
<path d="M537.9,837.4 C538.5,838.4 539.7,841.8 541.5,843.1 C543.3,844.3 547.5,844.6 548.7,844.9" stroke-width="1.5" fill="none" />
<path d="M440.7,717.1 C442.0,718.4 446.3,720.5 448.4,724.8 C450.6,729.1 453.1,736.8 453.6,742.8 C454.0,748.8 451.4,757.8 451.0,760.8" stroke-width="1.38" fill="none" />
<path d="M443.3,750.5 C445.0,752.3 450.8,757.0 453.6,760.8 C456.3,764.7 458.9,771.5 460.0,773.7" stroke-width="1.38" fill="none" />
<path d="M637.1,679.3 C637.8,676.5 640.0,677.2 642.0,677.4 C643.9,677.6 644.0,676.3 646.8,680.5 C649.5,684.8 654.1,694.0 655.7,698.7 C657.3,703.4 656.1,702.3 654.8,704.0 C653.5,705.7 651.4,706.3 649.2,707.1 C647.0,708.0 645.8,711.5 643.6,708.3 C641.5,705.2 639.6,697.2 638.3,691.4 C637.0,685.6 636.4,682.1 637.1,679.3 Z" stroke-width="1.62" fill="#fff" />
<line x1="642.0" y1="677.4" x2="650.4" y2="705.9" stroke-width="1.38" />
<path d="M626.2,699.9 L635.9,690.2 L639.5,703.5 L637.1,712.0 L628.7,710.7 Z" stroke-width="1.62" fill="#fff" />
<line x1="632.3" y1="696.2" x2="635.9" y2="709.5" stroke-width="1.38" />
<path d="M628.7,714.4 C632.3,712.4 636.5,710.5 640.7,712.0 C645.0,713.4 644.5,715.6 646.8,720.4 C649.0,725.2 649.9,726.9 650.4,732.5 C651.0,738.1 650.6,739.5 649.2,744.6 C647.8,749.7 647.5,750.3 644.4,754.2 C641.3,758.2 637.9,757.0 635.9,761.5 C633.9,766.0 638.2,769.4 635.9,773.6 C633.7,777.8 631.3,779.6 626.2,779.6 C621.2,779.6 618.8,778.9 614.2,773.6 C609.5,768.2 607.0,761.5 606.4,756.7 C605.9,751.9 608.3,755.9 611.7,753.0 C615.2,750.2 618.0,749.4 621.4,744.6 C624.8,739.8 625.4,738.1 626.2,732.5 C627.1,726.9 624.5,724.6 625.0,720.4 C625.6,716.2 625.0,716.3 628.7,714.4 Z" stroke-width="1.62" fill="#fff" />
<path d="M639.5,716.8 C640.2,719.0 643.1,725.9 643.6,730.1 C644.2,734.3 643.6,738.5 642.7,742.2 C641.8,745.8 640.1,749.0 638.3,751.8 C636.6,754.7 633.3,757.9 632.3,759.1" stroke-width="1.38" fill="none" />
<path d="M643.2,715.1 C643.9,717.6 647.0,725.4 647.5,730.1 C648.0,734.8 647.4,739.3 646.3,743.4 C645.3,747.4 642.1,752.4 641.2,754.2" stroke-width="1.38" fill="none" />
<path d="M605.0,709.5 L612.2,696.2 L627.5,702.5 L629.1,716.1 L620.2,721.4 L607.4,713.6 Z" stroke-width="1.75" fill="#fff" />
<line x1="613.0" y1="697.5" x2="620.2" y2="707.8" stroke-width="1.38" />
<line x1="620.2" y1="707.8" x2="620.2" y2="720.4" stroke-width="1.38" />
<line x1="620.2" y1="707.8" x2="627.5" y2="703.5" stroke-width="1.38" />
<ellipse cx="617.1" cy="712.0" rx="2.6" ry="4.5" transform="rotate(30 617.1 712.0)" stroke-width="1.75" fill="#fff" />
<ellipse cx="617.1" cy="712.0" rx="1.3" ry="2.2" transform="rotate(30 617.1 712.0)" stroke-width="1.5" fill="none" />
<path d="M606.4,756.7 L626.2,763.9 L635.9,761.5 L635.4,773.6 L626.2,779.6 L614.2,773.6 L609.3,766.3 Z" stroke-width="1.75" fill="#fff" />
<line x1="626.2" y1="763.9" x2="626.2" y2="779.6" stroke-width="1.38" />
<ellipse cx="617.8" cy="769.2" rx="2.6" ry="4.5" transform="rotate(30 617.8 769.2)" stroke-width="1.75" fill="#fff" />
<ellipse cx="617.8" cy="769.2" rx="1.3" ry="2.2" transform="rotate(30 617.8 769.2)" stroke-width="1.5" fill="none" />
<path d="M638.3,756.7 C640.1,754.2 644.0,751.0 646.8,751.8 C649.6,752.6 654.2,758.5 655.2,761.5 C656.3,764.5 655.5,766.9 653.3,770.0 C651.1,773.0 644.8,778.2 642.0,779.6 C639.1,781.0 637.4,780.6 636.4,778.4 C635.4,776.2 635.6,770.0 635.9,766.3 C636.2,762.7 636.5,759.1 638.3,756.7 Z" stroke-width="1.62" fill="#fff" />
<line x1="646.8" y1="751.8" x2="649.2" y2="766.3" stroke-width="1.38" />
<line x1="602.1" y1="720.4" x2="610.5" y2="716.8" stroke-width="1.25" />
<line x1="604.5" y1="731.3" x2="640.7" y2="750.6" stroke-width="1.25" />
<line x1="650.4" y1="756.7" x2="663.7" y2="765.6" stroke-width="1.25" />
<line x1="658.9" y1="690.2" x2="745.0" y2="639.0" stroke-width="1.25" />
<ellipse cx="679.1" cy="775.5" rx="18.5" ry="32.0" transform="rotate(30 679.1 775.5)" stroke-width="1.75" fill="#fff" />
<polygon points="670.0,807.2 702.0,751.8 695.1,747.8 663.1,803.2" fill="#fff" stroke="none"/>
<line x1="670.0" y1="807.2" x2="663.1" y2="803.2" stroke-width="1.75" />
<line x1="702.0" y1="751.8" x2="695.1" y2="747.8" stroke-width="1.75" />
<ellipse cx="686.0" cy="779.5" rx="18.5" ry="32.0" transform="rotate(30 686.0 779.5)" stroke-width="1.75" fill="#fff" />
<ellipse cx="686.0" cy="779.5" rx="15.0" ry="26.0" transform="rotate(30 686.0 779.5)" stroke-width="1.62" fill="none" />
<ellipse cx="686.0" cy="779.5" rx="12.7" ry="22.0" transform="rotate(30 686.0 779.5)" stroke-width="1.88" fill="none" />
<path d="M694.6,759.4 L695.6,760.6 L696.4,762.0 L697.0,763.7 L697.4,765.5 L697.5,767.5 L697.5,769.7 L697.3,771.9 L696.8,774.2 L696.1,776.6 L695.3,778.9 L694.2,781.3 L693.0,783.5 L691.6,785.7 L690.1,787.8 L688.5,789.7 L686.8,791.5 L685.0,793.1 L683.2,794.4 L681.4,795.5 L679.6,796.3 L677.8,796.9 L676.0,797.2 L674.4,797.3 L672.9,797.0" stroke-width="1.25" fill="none" />
<line x1="697.0" y1="760.4" x2="699.0" y2="757.0" stroke-width="1.12" />
<line x1="700.4" y1="764.3" x2="703.0" y2="761.6" stroke-width="1.12" />
<line x1="701.6" y1="770.5" x2="704.4" y2="768.9" stroke-width="1.12" />
<line x1="700.4" y1="778.1" x2="703.0" y2="777.8" stroke-width="1.12" />
<line x1="697.0" y1="785.8" x2="699.0" y2="787.0" stroke-width="1.12" />
<line x1="691.9" y1="792.7" x2="693.0" y2="795.0" stroke-width="1.12" />
<line x1="686.0" y1="797.5" x2="686.0" y2="800.7" stroke-width="1.12" />
<line x1="680.0" y1="799.5" x2="679.0" y2="803.2" stroke-width="1.12" />
<line x1="675.0" y1="798.6" x2="673.0" y2="802.0" stroke-width="1.12" />
<line x1="671.6" y1="794.7" x2="669.0" y2="797.4" stroke-width="1.12" />
<line x1="670.4" y1="788.5" x2="667.6" y2="790.1" stroke-width="1.12" />
<line x1="671.6" y1="780.9" x2="669.0" y2="781.2" stroke-width="1.12" />
<line x1="675.0" y1="773.2" x2="673.0" y2="772.0" stroke-width="1.12" />
<line x1="680.1" y1="766.3" x2="679.0" y2="764.0" stroke-width="1.12" />
<line x1="686.0" y1="761.5" x2="686.0" y2="758.3" stroke-width="1.12" />
<line x1="692.0" y1="759.5" x2="693.0" y2="755.8" stroke-width="1.12" />
<ellipse cx="724.4" cy="801.0" rx="20.2" ry="35.0" transform="rotate(30 724.4 801.0)" stroke-width="1.75" fill="#fff" />
<polygon points="709.5,832.8 744.5,772.2 741.9,770.7 706.9,831.3" fill="#fff" stroke="none"/>
<line x1="709.5" y1="832.8" x2="706.9" y2="831.3" stroke-width="1.75" />
<line x1="744.5" y1="772.2" x2="741.9" y2="770.7" stroke-width="1.75" />
<ellipse cx="727.0" cy="802.5" rx="20.2" ry="35.0" transform="rotate(30 727.0 802.5)" stroke-width="1.75" fill="#fff" />
<ellipse cx="727.0" cy="802.5" rx="17.6" ry="30.5" transform="rotate(30 727.0 802.5)" stroke-width="1.75" fill="none" />
<line x1="742.5" y1="775.7" x2="745.3" y2="773.3" stroke-width="1.62" />
<line x1="745.4" y1="778.1" x2="748.2" y2="776.4" stroke-width="1.62" />
<line x1="747.5" y1="781.6" x2="750.3" y2="780.6" stroke-width="1.62" />
<line x1="748.6" y1="786.0" x2="751.3" y2="785.7" stroke-width="1.62" />
<line x1="748.9" y1="791.2" x2="751.2" y2="791.7" stroke-width="1.62" />
<line x1="748.2" y1="796.8" x2="750.1" y2="798.0" stroke-width="1.62" />
<line x1="746.5" y1="802.7" x2="748.0" y2="804.6" stroke-width="1.62" />
<line x1="744.0" y1="808.6" x2="745.0" y2="811.1" stroke-width="1.62" />
<line x1="740.8" y1="814.2" x2="741.2" y2="817.2" stroke-width="1.62" />
<line x1="736.9" y1="819.3" x2="736.7" y2="822.7" stroke-width="1.62" />
<line x1="732.7" y1="823.7" x2="731.9" y2="827.3" stroke-width="1.62" />
<line x1="728.1" y1="827.1" x2="726.8" y2="830.8" stroke-width="1.62" />
<line x1="723.6" y1="829.5" x2="721.7" y2="833.0" stroke-width="1.62" />
<line x1="719.1" y1="830.7" x2="716.9" y2="834.0" stroke-width="1.62" />
<line x1="715.1" y1="830.6" x2="712.5" y2="833.5" stroke-width="1.62" />
<line x1="711.5" y1="829.3" x2="708.7" y2="831.7" stroke-width="1.62" />
<line x1="708.6" y1="826.9" x2="705.8" y2="828.6" stroke-width="1.62" />
<line x1="706.5" y1="823.4" x2="703.7" y2="824.4" stroke-width="1.62" />
<line x1="705.4" y1="819.0" x2="702.7" y2="819.3" stroke-width="1.62" />
<line x1="705.1" y1="813.8" x2="702.8" y2="813.3" stroke-width="1.62" />
<line x1="705.8" y1="808.2" x2="703.9" y2="807.0" stroke-width="1.62" />
<line x1="707.5" y1="802.3" x2="706.0" y2="800.4" stroke-width="1.62" />
<line x1="710.0" y1="796.4" x2="709.0" y2="793.9" stroke-width="1.62" />
<line x1="713.2" y1="790.8" x2="712.8" y2="787.8" stroke-width="1.62" />
<line x1="717.1" y1="785.7" x2="717.3" y2="782.3" stroke-width="1.62" />
<line x1="721.3" y1="781.3" x2="722.1" y2="777.7" stroke-width="1.62" />
<line x1="725.9" y1="777.9" x2="727.2" y2="774.2" stroke-width="1.62" />
<line x1="730.4" y1="775.5" x2="732.3" y2="772.0" stroke-width="1.62" />
<line x1="734.9" y1="774.3" x2="737.1" y2="771.0" stroke-width="1.62" />
<line x1="738.9" y1="774.4" x2="741.5" y2="771.5" stroke-width="1.62" />
<line x1="679.0" y1="774.9" x2="697.0" y2="785.3" stroke-width="1.25" />
<line x1="702.0" y1="788.2" x2="706.0" y2="790.5" stroke-width="1.25" />
<line x1="712.0" y1="793.9" x2="742.0" y2="811.3" stroke-width="1.25" />
<line x1="745.5" y1="813.3" x2="757.0" y2="819.9" stroke-width="1.25" />
<path d="M220.6,835.9 C224.0,834.8 224.7,834.9 227.9,836.6 C231.1,838.3 233.0,839.9 236.5,844.4 C239.9,848.9 241.3,853.0 245.0,859.1 C248.7,865.2 251.1,868.6 254.8,874.9 C258.4,881.3 261.0,885.2 263.3,890.8 C265.6,896.4 266.1,896.2 266.3,903.0 C266.4,909.9 265.3,915.7 264.1,925.0 C262.8,934.3 261.6,940.1 260.1,949.4 C258.7,958.7 257.9,963.1 256.7,971.4 C255.6,979.7 256.1,987.5 254.3,990.9 C252.4,994.4 250.8,989.0 247.4,988.5 C244.1,988.0 242.3,987.3 237.7,988.5 C233.0,989.7 229.1,994.1 224.2,994.6 C219.4,995.1 219.6,990.6 213.3,990.9 C206.9,991.3 197.4,994.6 192.5,996.3 C187.6,998.0 191.3,1000.8 188.8,999.5 C186.4,998.2 183.7,993.9 180.3,989.7 C176.9,985.6 174.9,983.4 171.7,978.7 C168.6,974.1 166.3,972.9 164.4,966.5 C162.6,960.2 165.9,954.8 162.5,947.0 C159.0,939.2 151.3,933.6 147.3,927.4 C143.3,921.3 140.0,921.3 142.4,916.5 C144.9,911.6 155.6,908.2 159.5,903.0 C163.4,897.9 158.6,896.2 162.0,890.8 C165.4,885.4 172.2,880.6 176.6,876.2 C181.0,871.8 182.2,873.7 184.0,868.8 C185.7,864.0 182.2,856.1 185.2,851.7 C188.1,847.4 193.5,848.8 198.6,846.9 C203.7,844.9 206.4,844.2 210.8,842.0 C215.2,839.8 217.2,836.9 220.6,835.9 Z" stroke-width="1.75" fill="#fff" />
<path d="M224.2,839.5 C225.7,841.2 229.7,845.0 232.8,849.3 C235.8,853.6 239.5,859.9 242.6,865.2 C245.6,870.5 248.5,876.0 251.1,881.1 C253.8,886.1 256.8,891.6 258.4,895.7 C260.1,899.8 260.8,900.6 260.9,905.5 C261.0,910.4 260.2,917.3 259.2,925.0 C258.2,932.7 256.1,943.7 254.8,951.9 C253.4,960.0 252.1,967.9 251.1,973.8 C250.1,979.7 249.1,985.0 248.7,987.3" stroke-width="1.38" fill="none" />
<path d="M185.2,870.1 C187.2,868.2 193.1,862.9 197.4,859.1 C201.7,855.2 207.0,849.9 210.8,846.9 C214.7,843.8 218.1,841.2 220.6,840.8 C223.0,840.4 223.6,841.4 225.5,844.4 C227.3,847.5 229.5,855.0 231.6,859.1 C233.6,863.1 235.0,865.8 237.7,868.8 C240.3,871.9 244.6,874.5 247.4,877.4 C250.3,880.2 252.7,882.5 254.8,885.9 C256.8,889.4 258.8,896.1 259.7,898.1" stroke-width="1.5" fill="none" />
<path d="M198.6,856.6 C199.6,856.2 203.1,853.4 204.7,854.2 C206.3,855.0 208.0,858.3 208.4,861.5 C208.8,864.8 208.2,870.9 207.2,873.7 C206.1,876.6 203.1,877.8 202.3,878.6" stroke-width="1.5" fill="none" />
<path d="M198.6,856.6 C198.4,858.5 197.0,864.2 197.4,867.6 C197.8,871.1 200.4,875.8 201.1,877.4" stroke-width="1.38" fill="none" />
<path d="M235.2,865.2 L204.0,885.4 L235.2,874.9" stroke-width="1.5" fill="none" />
<ellipse cx="213.9" cy="877.6" rx="2.9" ry="5.0" transform="rotate(-30 213.9 877.6)" stroke-width="1.75" fill="#fff" />
<polygon points="208.8,874.8 213.8,883.4 216.4,881.9 211.4,873.3" fill="#fff" stroke="none"/>
<line x1="208.8" y1="874.8" x2="211.4" y2="873.3" stroke-width="1.75" />
<line x1="213.8" y1="883.4" x2="216.4" y2="881.9" stroke-width="1.75" />
<ellipse cx="211.3" cy="879.1" rx="2.9" ry="5.0" transform="rotate(-30 211.3 879.1)" stroke-width="1.75" fill="#fff" />
<ellipse cx="211.0" cy="879.3" rx="1.4" ry="2.5" transform="rotate(-30 211.0 879.3)" stroke-width="1.62" fill="none" />
<path d="M254.8,884.0 L215.7,903.0 L254.8,893.7" stroke-width="1.5" fill="none" />
<ellipse cx="240.3" cy="891.8" rx="2.9" ry="5.0" transform="rotate(-30 240.3 891.8)" stroke-width="1.75" fill="#fff" />
<polygon points="235.2,888.9 240.2,897.6 242.8,896.1 237.8,887.4" fill="#fff" stroke="none"/>
<line x1="235.2" y1="888.9" x2="237.8" y2="887.4" stroke-width="1.75" />
<line x1="240.2" y1="897.6" x2="242.8" y2="896.1" stroke-width="1.75" />
<ellipse cx="237.7" cy="893.3" rx="2.9" ry="5.0" transform="rotate(-30 237.7 893.3)" stroke-width="1.75" fill="#fff" />
<ellipse cx="237.4" cy="893.5" rx="1.4" ry="2.5" transform="rotate(-30 237.4 893.5)" stroke-width="1.62" fill="none" />
<path d="M262.1,905.5 L220.6,925.5 L262.1,915.2" stroke-width="1.5" fill="none" />
<ellipse cx="247.6" cy="918.1" rx="2.9" ry="5.0" transform="rotate(-30 247.6 918.1)" stroke-width="1.75" fill="#fff" />
<polygon points="242.5,915.3 247.5,924.0 250.1,922.5 245.1,913.8" fill="#fff" stroke="none"/>
<line x1="242.5" y1="915.3" x2="245.1" y2="913.8" stroke-width="1.75" />
<line x1="247.5" y1="924.0" x2="250.1" y2="922.5" stroke-width="1.75" />
<ellipse cx="245.0" cy="919.6" rx="2.9" ry="5.0" transform="rotate(-30 245.0 919.6)" stroke-width="1.75" fill="#fff" />
<ellipse cx="244.7" cy="919.8" rx="1.4" ry="2.5" transform="rotate(-30 244.7 919.8)" stroke-width="1.62" fill="none" />
<path d="M261.6,925.0 L224.2,941.6 L261.6,934.8" stroke-width="1.5" fill="none" />
<ellipse cx="243.9" cy="938.6" rx="2.9" ry="5.0" transform="rotate(-30 243.9 938.6)" stroke-width="1.75" fill="#fff" />
<polygon points="238.8,935.8 243.8,944.5 246.4,943.0 241.4,934.3" fill="#fff" stroke="none"/>
<line x1="238.8" y1="935.8" x2="241.4" y2="934.3" stroke-width="1.75" />
<line x1="243.8" y1="944.5" x2="246.4" y2="943.0" stroke-width="1.75" />
<ellipse cx="241.3" cy="940.1" rx="2.9" ry="5.0" transform="rotate(-30 241.3 940.1)" stroke-width="1.75" fill="#fff" />
<ellipse cx="241.0" cy="940.3" rx="1.4" ry="2.5" transform="rotate(-30 241.0 940.3)" stroke-width="1.62" fill="none" />
<path d="M259.7,947.0 L224.2,960.4 L259.7,956.8" stroke-width="1.5" fill="none" />
<ellipse cx="240.3" cy="959.6" rx="2.9" ry="5.0" transform="rotate(-30 240.3 959.6)" stroke-width="1.75" fill="#fff" />
<polygon points="235.2,956.8 240.2,965.5 242.8,964.0 237.8,955.3" fill="#fff" stroke="none"/>
<line x1="235.2" y1="956.8" x2="237.8" y2="955.3" stroke-width="1.75" />
<line x1="240.2" y1="965.5" x2="242.8" y2="964.0" stroke-width="1.75" />
<ellipse cx="237.7" cy="961.1" rx="2.9" ry="5.0" transform="rotate(-30 237.7 961.1)" stroke-width="1.75" fill="#fff" />
<ellipse cx="237.4" cy="961.3" rx="1.4" ry="2.5" transform="rotate(-30 237.4 961.3)" stroke-width="1.62" fill="none" />
<path d="M256.7,967.7 L224.2,978.2 L256.7,977.5" stroke-width="1.5" fill="none" />
<ellipse cx="236.6" cy="978.5" rx="2.9" ry="5.0" transform="rotate(-30 236.6 978.5)" stroke-width="1.75" fill="#fff" />
<polygon points="231.5,975.6 236.5,984.3 239.1,982.8 234.1,974.1" fill="#fff" stroke="none"/>
<line x1="231.5" y1="975.6" x2="234.1" y2="974.1" stroke-width="1.75" />
<line x1="236.5" y1="984.3" x2="239.1" y2="982.8" stroke-width="1.75" />
<ellipse cx="234.0" cy="980.0" rx="2.9" ry="5.0" transform="rotate(-30 234.0 980.0)" stroke-width="1.75" fill="#fff" />
<ellipse cx="233.7" cy="980.2" rx="1.4" ry="2.5" transform="rotate(-30 233.7 980.2)" stroke-width="1.62" fill="none" />
<path d="M213.3,939.7 C214.1,936.8 217.4,928.7 218.1,922.6 C218.9,916.5 218.9,909.1 217.7,903.0 C216.4,896.9 213.4,890.0 210.8,885.9 C208.3,881.9 205.9,880.4 202.3,878.6 C198.6,876.8 193.1,874.9 188.8,874.9 C184.6,874.9 178.7,878.0 176.6,878.6" stroke-width="1.5" fill="none" />
<path d="M213.3,939.7 C212.9,942.5 212.0,950.2 210.8,956.8 C209.6,963.3 207.8,973.0 205.9,978.7 C204.1,984.4 200.8,988.9 199.8,990.9" stroke-width="1.5" fill="none" />
<line x1="199.8" y1="990.9" x2="237.7" y2="988.5" stroke-width="1.5" />
<path d="M237.7,988.5 L247.4,976.3 L254.8,990.9" stroke-width="1.5" fill="none" />
<ellipse cx="192.5" cy="996.3" rx="2.3" ry="4.0" transform="rotate(-30 192.5 996.3)" stroke-width="1.75" fill="#fff" />
<ellipse cx="221.8" cy="993.9" rx="2.3" ry="4.0" transform="rotate(-30 221.8 993.9)" stroke-width="1.75" fill="#fff" />
<path d="M142.4,916.5 L159.5,903.0 L162.5,947.0 L147.3,927.4" stroke-width="1.5" fill="none" />
<line x1="144.9" y1="922.6" x2="162.0" y2="937.2" stroke-width="1.38" />
<ellipse cx="188.8" cy="914.7" rx="21.9" ry="38.0" transform="rotate(-30 188.8 914.7)" stroke-width="2.0" fill="#fff" />
<ellipse cx="189.8" cy="914.1" rx="19.9" ry="34.5" transform="rotate(-30 189.8 914.1)" stroke-width="1.25" fill="none" />
<ellipse cx="190.8" cy="913.7" rx="17.3" ry="30.0" transform="rotate(-30 190.8 913.7)" stroke-width="2.0" fill="none" />
<path d="M180.8,884.8 L179.0,886.1 L177.5,887.9 L176.2,890.1 L175.4,892.6 L174.8,895.4 L174.6,898.5 L174.8,901.8 L175.4,905.3 L176.3,908.8 L177.5,912.4 L179.0,915.9 L180.8,919.4 L182.9,922.7 L185.2,925.8 L187.7,928.7 L190.4,931.2 L193.1,933.4 L195.8,935.2 L198.6,936.6 L201.3,937.6 L204.0,938.1 L206.4,938.1 L208.8,937.6 L210.8,936.7" stroke-width="1.62" fill="none" />
<path d="M181.6,887.2 L180.7,888.9 L180.0,890.9 L179.6,893.0 L179.4,895.4 L179.4,897.9 L179.6,900.5 L180.0,903.1 L180.7,905.9 L181.6,908.6 L182.7,911.4 L183.9,914.1 L185.3,916.8 L186.9,919.4 L188.7,921.9 L190.5,924.2 L192.5,926.3 L194.5,928.3 L196.6,930.0 L198.8,931.5 L200.9,932.7 L203.1,933.7 L205.2,934.4 L207.2,934.8 L209.2,934.9" stroke-width="1.38" fill="none" />
<line x1="180.3" y1="905.5" x2="194.9" y2="898.1" stroke-width="1.38" />
<line x1="194.9" y1="898.1" x2="193.7" y2="927.4" stroke-width="1.62" />
<line x1="193.7" y1="927.4" x2="205.9" y2="934.8" stroke-width="1.38" />
<ellipse cx="164.4" cy="893.3" rx="1.3" ry="2.3" transform="rotate(-30 164.4 893.3)" stroke-width="1.5" fill="#fff" />
<ellipse cx="186.4" cy="884.0" rx="1.3" ry="2.3" transform="rotate(-30 186.4 884.0)" stroke-width="1.5" fill="#fff" />
<ellipse cx="209.6" cy="911.6" rx="1.3" ry="2.3" transform="rotate(-30 209.6 911.6)" stroke-width="1.5" fill="#fff" />
<ellipse cx="211.3" cy="937.7" rx="1.3" ry="2.3" transform="rotate(-30 211.3 937.7)" stroke-width="1.5" fill="#fff" />
<ellipse cx="192.5" cy="945.8" rx="1.3" ry="2.3" transform="rotate(-30 192.5 945.8)" stroke-width="1.5" fill="#fff" />
<ellipse cx="169.3" cy="923.8" rx="1.3" ry="2.3" transform="rotate(-30 169.3 923.8)" stroke-width="1.5" fill="#fff" />
<path d="M163.2,934.8 C164.9,926.5 164.9,928.3 171.7,931.1 C178.6,934.0 186.0,938.7 192.5,947.0 C199.1,955.2 198.4,956.8 199.8,966.5 C201.3,976.2 203.5,983.4 198.6,988.5 C193.8,993.6 187.0,993.6 179.1,988.5 C171.1,983.4 168.1,979.1 164.4,966.5 C160.7,954.0 161.5,943.0 163.2,934.8 Z" stroke-width="1.62" fill="#fff" />
<ellipse cx="182.0" cy="964.6" rx="12.4" ry="21.5" transform="rotate(-30 182.0 964.6)" stroke-width="1.5" fill="none" />
<ellipse cx="182.0" cy="964.6" rx="11.0" ry="19.0" transform="rotate(-30 182.0 964.6)" stroke-width="2.12" fill="#fff" />
<path d="M177.0,946.7 L175.9,947.5 L175.0,948.6 L174.2,949.9 L173.7,951.4 L173.4,953.1 L173.3,954.9 L173.4,956.9 L173.7,959.0 L174.2,961.1 L175.0,963.2 L175.9,965.4 L177.0,967.5 L178.3,969.4 L179.6,971.3 L181.1,973.0 L182.7,974.6 L184.3,975.9 L186.0,977.0 L187.7,977.8 L189.3,978.4 L190.9,978.7 L192.4,978.7 L193.8,978.4 L195.0,977.9" stroke-width="2.0" fill="none" />
<path d="M180.9,947.0 L180.1,947.9 L179.6,948.9 L179.1,950.1 L178.8,951.5 L178.7,952.9 L178.7,954.5 L178.9,956.1 L179.2,957.8 L179.7,959.5 L180.4,961.2 L181.1,962.9 L182.0,964.6 L183.0,966.2 L184.1,967.7 L185.3,969.1 L186.5,970.4 L187.8,971.5 L189.1,972.5 L190.5,973.3 L191.8,973.9 L193.1,974.3 L194.3,974.5 L195.5,974.6 L196.7,974.4" stroke-width="1.75" fill="none" />
<path d="M183.6,947.2 L183.1,948.2 L182.8,949.2 L182.5,950.3 L182.4,951.5 L182.4,952.8 L182.5,954.1 L182.8,955.5 L183.1,956.9 L183.6,958.4 L184.1,959.8 L184.8,961.2 L185.5,962.6 L186.3,963.9 L187.2,965.2 L188.2,966.4 L189.2,967.5 L190.3,968.5 L191.3,969.4 L192.5,970.2 L193.6,970.8 L194.7,971.3 L195.8,971.7 L196.8,971.9 L197.8,972.0" stroke-width="1.38" fill="none" />
<path d="M173.0,971.4 L180.3,976.3 L179.1,980.0 L171.7,975.1" stroke-width="1.5" fill="none" />
<path d="M184.0,851.7 L191.3,849.3 L192.5,856.6 L185.2,859.1" stroke-width="1.5" fill="none" />
<path d="M176.6,870.1 L185.2,867.6 L187.6,872.5 L180.3,875.7" stroke-width="1.5" fill="none" />
<ellipse cx="411.1" cy="833.5" rx="13.6" ry="23.5" transform="rotate(-30 411.1 833.5)" stroke-width="1.75" fill="#fff" />
<polygon points="389.9,818.6 413.4,859.4 422.9,853.9 399.4,813.1" fill="#fff" stroke="none"/>
<line x1="389.9" y1="818.6" x2="399.4" y2="813.1" stroke-width="1.75" />
<line x1="413.4" y1="859.4" x2="422.9" y2="853.9" stroke-width="1.75" />
<ellipse cx="401.6" cy="839.0" rx="13.6" ry="23.5" transform="rotate(-30 401.6 839.0)" stroke-width="1.75" fill="#fff" />
<ellipse cx="401.6" cy="839.0" rx="9.5" ry="16.5" transform="rotate(-30 401.6 839.0)" stroke-width="1.62" fill="none" />
<ellipse cx="402.6" cy="838.4" rx="7.5" ry="13.0" transform="rotate(-30 402.6 838.4)" stroke-width="1.62" fill="none" />
<path d="M400.1,824.7 L399.3,825.3 L398.6,826.1 L398.1,827.0 L397.7,828.1 L397.5,829.4 L397.4,830.7 L397.5,832.1 L397.7,833.6 L398.1,835.2 L398.6,836.7 L399.3,838.2 L400.1,839.8 L401.0,841.2 L402.0,842.5 L403.1,843.8 L404.2,844.9 L405.4,845.8 L406.6,846.6 L407.8,847.2 L409.0,847.6 L410.1,847.8 L411.2,847.8 L412.2,847.7 L413.1,847.3" stroke-width="1.25" fill="none" />
<path d="M422.8,851.9 L423.4,850.5 L423.8,848.9 L424.1,847.1 L424.2,845.3 L424.1,843.4 L423.9,841.3 L423.5,839.3 L423.0,837.1 L422.3,835.0 L421.4,832.9 L420.5,830.8 L419.3,828.7 L418.1,826.7 L416.8,824.8 L415.4,823.0 L413.9,821.4 L412.3,819.8 L410.7,818.5 L409.1,817.2 L407.4,816.2 L405.8,815.4 L404.1,814.7 L402.5,814.3 L401.0,814.1" stroke-width="1.25" fill="none" />
<line x1="425.0" y1="825.5" x2="434.0" y2="820.3" stroke-width="1.25" />
<line x1="377.0" y1="853.2" x2="388.5" y2="846.6" stroke-width="1.25" />
<line x1="398.0" y1="841.1" x2="410.0" y2="834.2" stroke-width="1.25" />
<ellipse cx="365.6" cy="858.5" rx="21.1" ry="36.5" transform="rotate(-30 365.6 858.5)" stroke-width="1.62" fill="#fff" />
<path d="M335.2,833.9 L371.8,897.1 L383.9,890.1 L347.4,826.9 Z" stroke-width="0.12" fill="#fff" />
<path d="M371.8,897.1 L383.9,890.1 L385.8,888.8 L373.6,895.8 Z" stroke-width="1.5" fill="#fff" />
<path d="M375.1,894.2 L387.3,887.2 L388.7,885.2 L376.6,892.2 Z" stroke-width="1.5" fill="#fff" />
<path d="M377.6,890.1 L389.7,883.1 L390.6,880.5 L378.5,887.5 Z" stroke-width="1.5" fill="#fff" />
<path d="M379.0,884.9 L391.1,877.9 L391.4,874.8 L379.3,881.8 Z" stroke-width="1.5" fill="#fff" />
<path d="M379.3,878.8 L391.4,871.8 L391.1,868.4 L379.0,875.4 Z" stroke-width="1.5" fill="#fff" />
<path d="M378.4,872.2 L390.5,865.2 L389.7,861.6 L377.5,868.6 Z" stroke-width="1.5" fill="#fff" />
<path d="M376.5,865.3 L388.6,858.3 L387.2,854.6 L375.1,861.6 Z" stroke-width="1.5" fill="#fff" />
<path d="M373.5,858.3 L385.7,851.3 L383.8,847.8 L371.6,854.8 Z" stroke-width="1.5" fill="#fff" />
<path d="M369.7,851.7 L381.9,844.7 L379.6,841.5 L367.4,848.5 Z" stroke-width="1.5" fill="#fff" />
<path d="M365.2,845.7 L377.3,838.7 L374.7,835.9 L362.6,842.9 Z" stroke-width="1.5" fill="#fff" />
<path d="M360.2,840.6 L372.3,833.6 L369.5,831.3 L357.4,838.3 Z" stroke-width="1.5" fill="#fff" />
<path d="M354.8,836.5 L367.0,829.5 L364.1,827.9 L352.0,834.9 Z" stroke-width="1.5" fill="#fff" />
<path d="M349.5,833.7 L361.6,826.7 L358.8,825.8 L346.7,832.8 Z" stroke-width="1.5" fill="#fff" />
<path d="M344.2,832.3 L356.4,825.3 L353.8,825.2 L341.7,832.2 Z" stroke-width="1.5" fill="#fff" />
<path d="M339.4,832.4 L351.6,825.4 L349.3,826.0 L337.2,833.0 Z" stroke-width="1.5" fill="#fff" />
<path d="M335.2,833.9 L347.4,826.9 L345.5,828.2 L333.4,835.2 Z" stroke-width="1.5" fill="#fff" />
<path d="M331.9,836.8 L344.0,829.8 L342.6,831.8 L330.4,838.8 Z" stroke-width="1.5" fill="#fff" />
<path d="M329.4,840.9 L341.5,833.9 L340.7,836.5 L328.5,843.5 Z" stroke-width="1.5" fill="#fff" />
<path d="M328.0,846.1 L340.1,839.1 L339.9,842.2 L327.7,849.2 Z" stroke-width="1.5" fill="#fff" />
<path d="M327.7,852.2 L339.9,845.2 L340.2,848.6 L328.0,855.6 Z" stroke-width="1.5" fill="#fff" />
<path d="M328.6,858.8 L340.7,851.8 L341.6,855.4 L329.5,862.4 Z" stroke-width="1.5" fill="#fff" />
<path d="M330.5,865.7 L342.6,858.7 L344.1,862.4 L331.9,869.4 Z" stroke-width="1.5" fill="#fff" />
<path d="M333.5,872.7 L345.6,865.7 L347.5,869.2 L335.4,876.2 Z" stroke-width="1.5" fill="#fff" />
<path d="M337.3,879.3 L349.4,872.3 L351.7,875.5 L339.6,882.5 Z" stroke-width="1.5" fill="#fff" />
<path d="M341.8,885.3 L353.9,878.3 L356.5,881.1 L344.4,888.1 Z" stroke-width="1.5" fill="#fff" />
<path d="M346.8,890.4 L359.0,883.4 L361.7,885.7 L349.6,892.7 Z" stroke-width="1.5" fill="#fff" />
<path d="M352.2,894.5 L364.3,887.5 L367.1,889.1 L355.0,896.1 Z" stroke-width="1.5" fill="#fff" />
<path d="M357.5,897.3 L369.7,890.3 L372.4,891.2 L360.3,898.2 Z" stroke-width="1.5" fill="#fff" />
<path d="M362.8,898.7 L374.9,891.7 L377.5,891.8 L365.3,898.8 Z" stroke-width="1.5" fill="#fff" />
<path d="M367.6,898.6 L379.7,891.6 L382.0,891.0 L369.8,898.0 Z" stroke-width="1.5" fill="#fff" />
<ellipse cx="353.5" cy="865.5" rx="20.2" ry="35.0" transform="rotate(-30 353.5 865.5)" stroke-width="0.12" fill="#fff" />
<path d="M371.8,897.1 L373.6,895.8 L371.6,892.3 L372.6,891.3 L375.1,894.2 L376.6,892.2 L374.2,889.0 L374.8,887.7 L377.6,890.1 L378.5,887.5 L375.8,884.7 L376.1,883.1 L379.0,884.9 L379.3,881.8 L376.5,879.6 L376.5,877.8 L379.3,878.8 L379.0,875.4 L376.1,873.9 L375.8,871.9 L378.4,872.2 L377.5,868.6 L374.8,867.8 L374.1,865.7 L376.5,865.3 L375.1,861.6 L372.5,861.6 L371.6,859.5 L373.5,858.3 L371.6,854.8 L369.4,855.6 L368.2,853.6 L369.7,851.7 L367.4,848.5 L365.6,850.0 L364.2,848.2 L365.2,845.7 L362.6,842.9 L361.3,845.0 L359.8,843.6 L360.2,840.6 L357.4,838.3 L356.6,841.0 L355.0,839.9 L354.8,836.5 L352.0,834.9 L351.8,838.1 L350.2,837.4 L349.5,833.7 L346.7,832.8 L347.1,836.3 L345.6,836.0 L344.2,832.3 L341.7,832.2 L342.7,835.8 L341.3,836.0 L339.4,832.4 L337.2,833.0 L338.7,836.7 L337.5,837.2 L335.2,833.9 L333.4,835.2 L335.4,838.7 L334.4,839.7 L331.9,836.8 L330.4,838.8 L332.8,842.0 L332.2,843.3 L329.4,840.9 L328.5,843.5 L331.2,846.3 L330.9,847.9 L328.0,846.1 L327.7,849.2 L330.5,851.4 L330.5,853.2 L327.7,852.2 L328.0,855.6 L330.9,857.1 L331.2,859.1 L328.6,858.8 L329.5,862.4 L332.2,863.2 L332.9,865.3 L330.5,865.7 L331.9,869.4 L334.5,869.4 L335.4,871.5 L333.5,872.7 L335.4,876.2 L337.6,875.4 L338.8,877.4 L337.3,879.3 L339.6,882.5 L341.4,881.0 L342.8,882.8 L341.8,885.3 L344.4,888.1 L345.7,886.0 L347.2,887.4 L346.8,890.4 L349.6,892.7 L350.4,890.0 L352.0,891.1 L352.2,894.5 L355.0,896.1 L355.2,892.9 L356.8,893.6 L357.5,897.3 L360.3,898.2 L359.9,894.7 L361.4,895.0 L362.8,898.7 L365.3,898.8 L364.3,895.2 L365.7,895.0 L367.6,898.6 L369.8,898.0 L368.3,894.3 L369.5,893.8 Z" stroke-width="1.5" fill="#fff" />
<ellipse cx="353.5" cy="865.5" rx="17.3" ry="30.0" transform="rotate(-30 353.5 865.5)" stroke-width="1.62" fill="none" />
<ellipse cx="353.5" cy="865.5" rx="15.6" ry="27.0" transform="rotate(-30 353.5 865.5)" stroke-width="1.25" fill="none" />
<ellipse cx="350.6" cy="867.2" rx="10.1" ry="17.5" transform="rotate(-30 350.6 867.2)" stroke-width="1.62" fill="#fff" />
<polygon points="341.8,852.0 359.2,882.4 359.3,882.3 341.8,852.0" fill="#fff" stroke="none"/>
<line x1="341.8" y1="852.0" x2="341.8" y2="852.0" stroke-width="1.62" />
<line x1="359.2" y1="882.4" x2="359.3" y2="882.3" stroke-width="1.62" />
<ellipse cx="350.5" cy="867.2" rx="10.1" ry="17.5" transform="rotate(-30 350.5 867.2)" stroke-width="1.62" fill="#fff" />
<ellipse cx="350.5" cy="867.2" rx="6.9" ry="12.0" transform="rotate(-30 350.5 867.2)" stroke-width="1.75" fill="none" />
<path d="M349.5,853.9 L348.8,854.4 L348.2,855.2 L347.7,856.0 L347.3,857.0 L347.1,858.2 L347.0,859.4 L347.1,860.7 L347.3,862.1 L347.7,863.5 L348.2,865.0 L348.8,866.4 L349.5,867.8 L350.3,869.1 L351.3,870.3 L352.3,871.5 L353.3,872.5 L354.4,873.4 L355.5,874.1 L356.6,874.7 L357.7,875.0 L358.7,875.2 L359.7,875.2 L360.7,875.1 L361.5,874.7" stroke-width="1.25" fill="none" />
<path d="M345.5,850.9 L344.9,852.0 L344.6,853.2 L344.3,854.5 L344.1,855.9 L344.1,857.4 L344.3,859.0 L344.6,860.6 L345.0,862.2 L345.5,863.9 L346.1,865.6 L346.9,867.2 L347.8,868.8 L348.7,870.4 L349.8,871.9 L350.9,873.3 L352.1,874.6 L353.3,875.7 L354.6,876.8 L355.9,877.7 L357.2,878.4 L358.4,879.0 L359.7,879.4 L360.9,879.7 L362.1,879.8" stroke-width="1.25" fill="none" />
<line x1="343.0" y1="872.8" x2="355.0" y2="865.9" stroke-width="1.25" />
<ellipse cx="322.0" cy="884.5" rx="13.8" ry="24.0" transform="rotate(-30 322.0 884.5)" stroke-width="1.75" fill="#fff" />
<polygon points="303.5,867.5 327.5,909.1 334.0,905.3 310.0,863.8" fill="#fff" stroke="none"/>
<line x1="303.5" y1="867.5" x2="310.0" y2="863.8" stroke-width="1.75" />
<line x1="327.5" y1="909.1" x2="334.0" y2="905.3" stroke-width="1.75" />
<ellipse cx="315.5" cy="888.3" rx="13.8" ry="24.0" transform="rotate(-30 315.5 888.3)" stroke-width="1.75" fill="#fff" />
<ellipse cx="315.5" cy="888.3" rx="9.8" ry="17.0" transform="rotate(-30 315.5 888.3)" stroke-width="1.62" fill="none" />
<ellipse cx="315.5" cy="888.3" rx="8.4" ry="14.5" transform="rotate(-30 315.5 888.3)" stroke-width="2.0" fill="none" />
<ellipse cx="315.5" cy="888.3" rx="6.3" ry="11.0" transform="rotate(-30 315.5 888.3)" stroke-width="1.62" fill="none" />
<path d="M314.0,876.5 L313.3,877.0 L312.8,877.6 L312.3,878.4 L312.0,879.3 L311.8,880.4 L311.7,881.5 L311.8,882.7 L312.0,884.0 L312.3,885.3 L312.8,886.6 L313.3,887.9 L314.0,889.2 L314.8,890.4 L315.6,891.5 L316.5,892.6 L317.5,893.5 L318.5,894.3 L319.5,895.0 L320.5,895.5 L321.5,895.8 L322.5,896.0 L323.4,896.0 L324.2,895.9 L325.0,895.5" stroke-width="1.25" fill="none" />
<line x1="311.0" y1="891.3" x2="321.0" y2="885.5" stroke-width="1.25" />
<line x1="296.5" y1="899.6" x2="300.5" y2="897.3" stroke-width="1.25" />
<ellipse cx="287.7" cy="904.1" rx="11.8" ry="20.5" transform="rotate(-30 287.7 904.1)" stroke-width="1.88" fill="#fff" />
<polygon points="275.2,887.6 295.8,923.2 297.9,921.9 277.4,886.4" fill="#fff" stroke="none"/>
<line x1="275.2" y1="887.6" x2="277.4" y2="886.4" stroke-width="1.88" />
<line x1="295.8" y1="923.2" x2="297.9" y2="921.9" stroke-width="1.88" />
<ellipse cx="285.5" cy="905.4" rx="11.8" ry="20.5" transform="rotate(-30 285.5 905.4)" stroke-width="1.88" fill="#fff" />
<ellipse cx="285.5" cy="905.4" rx="8.7" ry="15.0" transform="rotate(-30 285.5 905.4)" stroke-width="1.62" fill="none" />
<ellipse cx="285.5" cy="905.4" rx="6.1" ry="10.5" transform="rotate(-30 285.5 905.4)" stroke-width="2.2" fill="none" />
<ellipse cx="285.5" cy="905.4" rx="2.9" ry="5.0" transform="rotate(-30 285.5 905.4)" stroke-width="2.0" fill="none" />
<line x1="288.6" y1="909.1" x2="292.1" y2="913.2" stroke-width="2" />
<line x1="285.3" y1="901.2" x2="285.2" y2="896.6" stroke-width="2" />
<line x1="282.5" y1="905.9" x2="279.3" y2="906.4" stroke-width="2" />
<line x1="262.0" y1="919.5" x2="267.5" y2="916.4" stroke-width="1.25" />
<ellipse cx="306.4" cy="811.0" rx="13.4" ry="23.2" transform="rotate(-30 306.4 811.0)" stroke-width="1.75" fill="#fff" />
<polygon points="265.4,807.9 288.6,848.1 318.0,831.1 294.8,790.9" fill="#fff" stroke="none"/>
<line x1="265.4" y1="807.9" x2="294.8" y2="790.9" stroke-width="1.75" />
<line x1="288.6" y1="848.1" x2="318.0" y2="831.1" stroke-width="1.75" />
<ellipse cx="277.0" cy="828.0" rx="13.4" ry="23.2" transform="rotate(-30 277.0 828.0)" stroke-width="1.75" fill="#fff" />
<path d="M318.1,829.7 L318.8,828.3 L319.3,826.8 L319.6,825.0 L319.8,823.2 L319.8,821.2 L319.6,819.1 L319.3,816.9 L318.8,814.8 L318.1,812.5 L317.2,810.3 L316.2,808.1 L315.0,806.0 L313.8,803.9 L312.4,802.0 L310.9,800.1 L309.3,798.4 L307.7,796.9 L306.0,795.5 L304.3,794.3 L302.6,793.3 L300.9,792.5 L299.2,792.0 L297.6,791.6 L296.0,791.5" stroke-width="1.25" fill="none" />
<path d="M318.2,827.7 L313.7,828.1 L313.7,823.4 L318.8,822.5" stroke-width="1.38" fill="none" />
<path d="M318.0,816.4 L312.1,816.2 L309.8,810.9 L315.8,810.1" stroke-width="1.38" fill="none" />
<path d="M312.4,804.1 L305.4,804.2 L301.6,800.3 L308.2,798.9" stroke-width="1.38" fill="none" />
<path d="M303.4,794.9 L295.9,796.5 L291.9,795.2 L298.5,792.6" stroke-width="1.38" fill="none" />
<ellipse cx="277.0" cy="828.0" rx="12.3" ry="21.3" transform="rotate(-30 277.0 828.0)" stroke-width="2.8" fill="none" />
<ellipse cx="277.0" cy="828.0" rx="10.3" ry="17.8" transform="rotate(-30 277.0 828.0)" stroke-width="2.4" fill="none" stroke-dasharray="2.2 1.6"/>
<ellipse cx="277.0" cy="828.0" rx="8.4" ry="14.5" transform="rotate(-30 277.0 828.0)" stroke-width="2.25" fill="none" />
<ellipse cx="282.8" cy="838.0" rx="0.9" ry="1.6" transform="rotate(-30 282.8 838.0)" stroke-width="1.62" fill="#333" />
<ellipse cx="285.1" cy="832.7" rx="0.9" ry="1.6" transform="rotate(-30 285.1 832.7)" stroke-width="1.62" fill="#333" />
<ellipse cx="282.7" cy="824.7" rx="0.9" ry="1.6" transform="rotate(-30 282.7 824.7)" stroke-width="1.62" fill="#333" />
<ellipse cx="277.0" cy="818.6" rx="0.9" ry="1.6" transform="rotate(-30 277.0 818.6)" stroke-width="1.62" fill="#333" />
<ellipse cx="271.2" cy="818.0" rx="0.9" ry="1.6" transform="rotate(-30 271.2 818.0)" stroke-width="1.62" fill="#333" />
<ellipse cx="268.9" cy="823.3" rx="0.9" ry="1.6" transform="rotate(-30 268.9 823.3)" stroke-width="1.62" fill="#333" />
<ellipse cx="271.3" cy="831.3" rx="0.9" ry="1.6" transform="rotate(-30 271.3 831.3)" stroke-width="1.62" fill="#333" />
<ellipse cx="277.0" cy="837.4" rx="0.9" ry="1.6" transform="rotate(-30 277.0 837.4)" stroke-width="1.62" fill="#333" />
<ellipse cx="277.0" cy="828.0" rx="4.6" ry="8.0" transform="rotate(-30 277.0 828.0)" stroke-width="1.75" fill="none" />
<ellipse cx="277.5" cy="827.7" rx="2.9" ry="5.0" transform="rotate(-30 277.5 827.7)" stroke-width="2.25" fill="none" />
<ellipse cx="277.5" cy="827.7" rx="1.3" ry="2.2" transform="rotate(-30 277.5 827.7)" stroke-width="1.5" fill="none" />
<ellipse cx="258.0" cy="839.2" rx="2.7" ry="4.6" transform="rotate(-30 258.0 839.2)" stroke-width="2.0" fill="#fff" />
<polygon points="247.0,840.2 251.6,848.2 260.3,843.2 255.7,835.2" fill="#fff" stroke="none"/>
<line x1="247.0" y1="840.2" x2="255.7" y2="835.2" stroke-width="2.0" />
<line x1="251.6" y1="848.2" x2="260.3" y2="843.2" stroke-width="2.0" />
<ellipse cx="249.3" cy="844.2" rx="2.7" ry="4.6" transform="rotate(-30 249.3 844.2)" stroke-width="2.0" fill="#fff" />
<ellipse cx="249.3" cy="844.2" rx="1.3" ry="2.3" transform="rotate(-30 249.3 844.2)" stroke-width="2.25" fill="none" />
<line x1="243.0" y1="847.8" x2="246.0" y2="846.1" stroke-width="1.25" />
<line x1="64.0" y1="793.0" x2="81.8" y2="812.5" stroke-width="3.2" stroke-linecap="butt"/>
<path d="M59.8,791.7 L64.0,787.4 L68.4,791.3 L64.5,795.7 Z" stroke-width="1.62" fill="#fff" />
<ellipse cx="88.4" cy="819.8" rx="4.6" ry="2" transform="rotate(-40 88.4 819.8)" fill="#444" stroke-width="1.2"/>
<line x1="82.5" y1="813.2" x2="86.0" y2="817.6" stroke-width="1.25" />
<line x1="90.8" y1="822.5" x2="97.7" y2="831.3" stroke-width="1.25" />
<line x1="114.8" y1="849.1" x2="161.2" y2="904.1" stroke-width="1.25" />
<path d="M81.8,846.7 L90.8,833.3 L102.6,829.6 L117.2,845.5 L113.6,854.0 L98.9,868.7 L94.0,867.4 L83.0,852.8 Z" stroke-width="1.75" fill="#fff" />
<path d="M90.8,833.3 L102.6,829.6 L117.2,845.5 L105.0,850.4" stroke-width="1.5" fill="none" />
<line x1="105.0" y1="850.4" x2="98.9" y2="868.7" stroke-width="1.5" />
<line x1="81.8" y1="846.7" x2="96.5" y2="854.0" stroke-width="1.5" />
<line x1="96.5" y1="854.0" x2="105.0" y2="850.4" stroke-width="1.5" />
<line x1="83.0" y1="850.8" x2="95.7" y2="858.9" stroke-width="2.0" />
<line x1="95.7" y1="858.9" x2="111.1" y2="851.6" stroke-width="1.75" />
<line x1="96.5" y1="854.0" x2="95.7" y2="865.0" stroke-width="1.38" />
<line x1="96.5" y1="838.1" x2="107.4" y2="844.2" stroke-width="1.25" />
<line x1="100.1" y1="834.5" x2="98.9" y2="844.2" stroke-width="1.25" />
<path d="M103.8,877.7 C102.8,876.7 104.8,871.0 107.4,867.4 C110.1,863.9 113.3,862.3 117.2,860.1 C121.1,857.9 126.0,855.7 127.0,856.5 C128.0,857.2 125.0,860.6 122.1,863.8 C119.2,867.0 116.0,869.5 112.3,872.3 C108.7,875.1 104.8,878.7 103.8,877.7 Z" stroke-width="1.5" fill="#333" />
<line x1="103.8" y1="874.8" x2="114.8" y2="868.7" stroke-width="1.88" />
<line x1="105.0" y1="880.1" x2="111.1" y2="879.7" stroke-width="1.5" />
<path d="M84.2,912.5 L114.8,895.4 L125.8,895.4 L144.1,904.0 L112.3,922.3 Z" stroke-width="1.62" fill="#fff" />
<path d="M73.3,921.1 C73.8,919.3 76.9,917.7 78.1,916.7 C79.4,915.7 83.2,912.3 84.2,912.5 C85.3,912.7 86.3,918.3 87.4,918.6 C88.6,918.9 92.0,915.4 94.0,914.9 C96.1,914.5 103.3,914.4 105.0,914.9 C106.7,915.5 107.8,919.0 108.7,919.8 C109.5,920.7 111.5,921.6 112.3,922.3 C113.2,922.9 112.7,923.0 116.0,925.4 C119.3,927.9 141.4,938.1 140.4,943.0 C139.4,948.0 111.7,965.2 107.4,967.9 C103.2,970.6 104.4,967.1 103.8,966.2 C103.2,965.3 102.8,961.3 102.1,960.1 C101.4,959.0 99.0,957.0 97.7,956.5 C96.4,955.9 93.0,956.7 90.8,955.2 C88.7,953.8 81.4,947.0 79.4,944.2 C77.3,941.5 74.0,934.7 73.3,932.0 C72.5,929.3 72.7,922.8 73.3,921.1 Z" stroke-width="1.88" fill="#fff" />
<line x1="105.0" y1="914.9" x2="109.9" y2="924.0" stroke-width="1.38" />
<circle cx="120.9" cy="910.1" r="3.4" fill="#555" stroke-width="1.4"/>
<path d="M39.1,938.6 C41.7,937.1 46.8,936.7 50.1,936.2 C53.3,935.7 55.1,935.0 58.6,935.7 C62.1,936.4 67.4,937.5 70.8,940.6 C74.3,943.6 78.1,950.6 79.4,954.0 C80.7,957.5 79.6,959.4 78.6,961.3 C77.6,963.3 75.2,964.9 73.3,965.5 C71.3,966.1 68.3,963.5 67.2,965.0 C66.0,966.6 65.9,971.9 66.4,974.8 C67.0,977.6 69.2,979.5 70.3,982.1 C71.5,984.7 72.0,987.4 73.3,990.6 C74.5,993.9 77.3,998.9 77.7,1001.6 C78.0,1004.4 76.4,1006.3 75.2,1007.0 C74.1,1007.7 72.6,1007.7 70.8,1006.0 C69.1,1004.3 66.7,999.9 64.7,996.8 C62.7,993.6 61.3,990.4 58.6,987.0 C56.0,983.5 52.1,979.3 48.8,976.0 C45.6,972.7 41.6,970.7 39.1,967.4 C36.5,964.2 34.5,960.1 33.7,956.5 C32.9,952.8 33.3,948.4 34.2,945.5 C35.1,942.5 36.4,940.2 39.1,938.6 Z" stroke-width="1.88" fill="#fff" />
<ellipse cx="48.8" cy="957.2" rx="9.5" ry="16.5" transform="rotate(-30 48.8 957.2)" stroke-width="1.88" fill="none" />
<path d="M52.5,938.1 C53.9,939.2 58.4,941.2 61.1,944.2 C63.7,947.3 66.3,953.0 68.4,956.5 C70.4,959.9 72.4,963.6 73.3,965.0" stroke-width="1.38" fill="none" />
<path d="M58.6,936.9 C59.8,937.7 63.5,939.0 65.9,941.8 C68.4,944.7 71.3,950.9 73.3,954.0 C75.2,957.2 76.9,959.5 77.7,960.6" stroke-width="1.38" fill="none" />
<circle cx="66.4" cy="941.3" r="1.5" stroke-width="1.1"/>
<circle cx="75.2" cy="954.0" r="1.5" stroke-width="1.1"/>
<path d="M61.1,991.9 L72.0,994.3 L74.5,1004.1 L65.9,996.8" stroke-width="1.5" fill="none" />
<circle cx="72.0" cy="1001.1" r="1.5" stroke-width="1.1"/>
<ellipse cx="23.2" cy="965.7" rx="2.1" ry="3.6" transform="rotate(-30 23.2 965.7)" stroke-width="1.75" fill="#fff" />
<ellipse cx="23.2" cy="965.7" rx="0.9" ry="1.5" transform="rotate(-30 23.2 965.7)" stroke-width="1.5" fill="none" />
<line x1="26.4" y1="964.5" x2="68.4" y2="942.5" stroke-width="1.25" />
<line x1="39.1" y1="960.1" x2="73.3" y2="943.5" stroke-width="1.25" />
<line x1="75.7" y1="939.4" x2="114.8" y2="918.6" stroke-width="1.25" />
<line x1="78.1" y1="941.8" x2="108.7" y2="927.2" stroke-width="1.25" />
<line x1="124.5" y1="908.8" x2="153.4" y2="900.3" stroke-width="1.25" />
<line x1="160.0" y1="978.4" x2="170.9" y2="973.6" stroke-width="1.25" />
<line x1="105.0" y1="896.6" x2="117.2" y2="907.6" stroke-width="1.25" />
<path d="M11.0,1090.5 L13.2,1082.2 L19.5,1083.7 L44.0,1068.0 L51.5,1071.8 L27.3,1086.2 L27.3,1090.3 Z" stroke-width="2.4" fill="#fff" />
<text x="82.1" y="111.3" font-size="17" text-anchor="middle">48</text>
<text x="128.4" y="119.7" font-size="17" text-anchor="middle">19</text>
<text x="169.7" y="143.2" font-size="17" text-anchor="middle">35</text>
<text x="216" y="131.7" font-size="17" text-anchor="middle">27</text>
<text x="274.6" y="149.79999999999998" font-size="17" text-anchor="middle">25</text>
<text x="351.3" y="185.1" font-size="17" text-anchor="middle">21</text>
<text x="432.3" y="260.3" font-size="17" text-anchor="middle">26</text>
<text x="554.7" y="91.2" font-size="17" text-anchor="middle">23</text>
<text x="567.5" y="262.2" font-size="17" text-anchor="middle">22</text>
<text x="464.3" y="318.2" font-size="17" text-anchor="middle">34</text>
<text x="501" y="340.0" font-size="17" text-anchor="middle">31</text>
<text x="545.2" y="341.7" font-size="17" text-anchor="middle">30</text>
<text x="593.6" y="331.7" font-size="17" text-anchor="middle">33</text>
<text x="384.4" y="390.5" font-size="17" text-anchor="middle">37</text>
<text x="153.8" y="361.7" font-size="17" text-anchor="middle">17</text>
<text x="119.9" y="388.2" font-size="17" text-anchor="middle">18</text>
<text x="87.7" y="419.3" font-size="17" text-anchor="middle">15</text>
<text x="61.1" y="433.5" font-size="17" text-anchor="middle">14</text>
<text x="29.4" y="447.59999999999997" font-size="17" text-anchor="middle">13</text>
<text x="497.8" y="468.7" font-size="17" text-anchor="middle">29</text>
<text x="532.1" y="482.09999999999997" font-size="17" text-anchor="middle">32</text>
<text x="612.5" y="404.8" font-size="17" text-anchor="middle">34</text>
<text x="657.2" y="411.3" font-size="17" text-anchor="middle">24</text>
<text x="735.4" y="460.4" font-size="17" text-anchor="middle">28</text>
<text x="696.3" y="561.2" font-size="17" text-anchor="middle">48</text>
<text x="334" y="517.7" font-size="17" text-anchor="middle">40</text>
<text x="431" y="521.2" font-size="17" text-anchor="middle">41</text>
<text x="437.9" y="550.2" font-size="17" text-anchor="middle">42</text>
<text x="108" y="597.8000000000001" font-size="17" text-anchor="middle">46</text>
<text x="209.5" y="675.0" font-size="17" text-anchor="middle">44</text>
<text x="46.3" y="625.8000000000001" font-size="17" text-anchor="middle">45</text>
<text x="302.7" y="658.2" font-size="17" text-anchor="middle">47</text>
<text x="440.7" y="655.7" font-size="17" text-anchor="middle">43</text>
<text x="301.5" y="696.0" font-size="17" text-anchor="middle">49</text>
<text x="431" y="693.1" font-size="17" text-anchor="middle">38</text>
<text x="390.7" y="775.0" font-size="17" text-anchor="middle">39</text>
<text x="599.3" y="681.2" font-size="17" text-anchor="middle">53</text>
<text x="718" y="739.8000000000001" font-size="17" text-anchor="middle">36</text>
<text x="710.8" y="869.5" font-size="17" text-anchor="middle">20</text>
<text x="530.4" y="877.7" font-size="17" text-anchor="middle">51</text>
<text x="84" y="779.9000000000001" font-size="17" text-anchor="middle">2</text>
<text x="106.4" y="804.2" font-size="17" text-anchor="middle">3</text>
<text x="128.9" y="822.7" font-size="17" text-anchor="middle">1</text>
<text x="150.4" y="852.2" font-size="17" text-anchor="middle">4</text>
<text x="237.8" y="821.7" font-size="17" text-anchor="middle">9</text>
<text x="262.6" y="790.2" font-size="17" text-anchor="middle">50</text>
<text x="94.3" y="896.0" font-size="17" text-anchor="middle">8</text>
<text x="66.5" y="901.7" font-size="17" text-anchor="middle">6</text>
<text x="32.7" y="918.2" font-size="17" text-anchor="middle">5</text>
<text x="29.6" y="999.3000000000001" font-size="17" text-anchor="middle">7</text>
<text x="307.5" y="952.0" font-size="17" text-anchor="middle">10</text>
<text x="340" y="935.4000000000001" font-size="17" text-anchor="middle">11</text>
<text x="397.4" y="921.2" font-size="17" text-anchor="middle">12</text>
<text x="432" y="889.3000000000001" font-size="17" text-anchor="middle">16</text>
<text x="243.6" y="1030.1" font-size="17" text-anchor="middle">52</text>
<line x1="75.2" y1="111.6" x2="67.5" y2="128.2" stroke-width="1.25" />
<line x1="126.5" y1="120.5" x2="123.4" y2="137.8" stroke-width="1.25" />
<line x1="166.6" y1="143.6" x2="162.0" y2="160.2" stroke-width="1.25" />
<line x1="213.3" y1="132.4" x2="208.2" y2="148.6" stroke-width="1.25" />
<line x1="270.0" y1="150.6" x2="259.2" y2="165.6" stroke-width="1.25" />
<line x1="349.4" y1="186.6" x2="345.5" y2="207.8" stroke-width="1.25" />
<line x1="425.3" y1="263.0" x2="419.6" y2="271.5" stroke-width="1.25" />
<line x1="563.5" y1="88.9" x2="580.3" y2="96.5" stroke-width="1.25" />
<line x1="580.3" y1="255.8" x2="598.0" y2="257.4" stroke-width="1.25" />
<line x1="458.4" y1="323.0" x2="452.0" y2="337.0" stroke-width="1.25" />
<line x1="495.6" y1="341.3" x2="487.8" y2="357.3" stroke-width="1.25" />
<line x1="548.6" y1="343.0" x2="553.8" y2="355.2" stroke-width="1.25" />
<line x1="589.9" y1="333.4" x2="585.5" y2="346.5" stroke-width="1.25" />
<line x1="607.2" y1="407.3" x2="598.6" y2="422.5" stroke-width="1.25" />
<line x1="652.9" y1="413.8" x2="646.3" y2="429.0" stroke-width="1.25" />
<line x1="728.9" y1="461.6" x2="721.5" y2="472.5" stroke-width="1.25" />
<line x1="503.0" y1="454.2" x2="508.6" y2="437.7" stroke-width="1.25" />
<line x1="536.4" y1="467.2" x2="542.1" y2="450.7" stroke-width="1.25" />
<line x1="700.6" y1="547.2" x2="708.5" y2="531.1" stroke-width="1.25" />
<line x1="157.2" y1="365.0" x2="162.9" y2="381.0" stroke-width="1.25" />
<line x1="120.0" y1="391.0" x2="120.0" y2="406.4" stroke-width="1.25" />
<line x1="90.5" y1="421.6" x2="95.0" y2="437.5" stroke-width="1.25" />
<line x1="66.7" y1="436.3" x2="76.4" y2="451.6" stroke-width="1.25" />
<line x1="36.8" y1="450.0" x2="46.4" y2="463.0" stroke-width="1.25" />
<line x1="388.5" y1="376.5" x2="395.2" y2="360.4" stroke-width="1.25" />
<line x1="340.6" y1="517.1" x2="350.4" y2="528.0" stroke-width="1.25" />
<line x1="407.3" y1="519.3" x2="419.3" y2="517.8" stroke-width="1.25" />
<line x1="429.1" y1="548.8" x2="419.3" y2="556.5" stroke-width="1.25" />
<line x1="117.6" y1="597.5" x2="128.9" y2="604.6" stroke-width="1.25" />
<line x1="53.4" y1="629.5" x2="59.6" y2="639.1" stroke-width="1.25" />
<line x1="211.7" y1="658.3" x2="213.7" y2="643.6" stroke-width="1.25" />
<line x1="314.2" y1="657.4" x2="327.2" y2="662.2" stroke-width="1.25" />
<line x1="312.5" y1="692.3" x2="330.8" y2="695.9" stroke-width="1.25" />
<line x1="429.7" y1="651.5" x2="416.3" y2="654.4" stroke-width="1.25" />
<line x1="420.0" y1="691.5" x2="407.7" y2="698.4" stroke-width="1.25" />
<line x1="387.0" y1="757.0" x2="384.5" y2="744.8" stroke-width="1.25" />
<line x1="605.4" y1="684.7" x2="613.6" y2="699.0" stroke-width="1.25" />
<line x1="710.8" y1="743.6" x2="703.7" y2="755.0" stroke-width="1.25" />
<line x1="713.7" y1="849.0" x2="715.5" y2="834.7" stroke-width="1.25" />
<line x1="525.7" y1="857.3" x2="522.2" y2="845.5" stroke-width="1.25" />
<line x1="78.1" y1="785.6" x2="72.0" y2="793.0" stroke-width="1.25" />
<line x1="98.9" y1="808.8" x2="91.6" y2="817.4" stroke-width="1.25" />
<line x1="119.7" y1="825.9" x2="111.1" y2="835.7" stroke-width="1.25" />
<line x1="139.2" y1="850.4" x2="117.2" y2="861.3" stroke-width="1.25" />
<line x1="103.8" y1="896.8" x2="117.2" y2="906.5" stroke-width="1.25" />
<line x1="75.7" y1="904.1" x2="84.2" y2="911.4" stroke-width="1.25" />
<line x1="35.4" y1="924.0" x2="40.3" y2="938.1" stroke-width="1.25" />
<line x1="26.9" y1="979.7" x2="23.2" y2="969.9" stroke-width="1.25" />
<line x1="242.7" y1="826.6" x2="249.2" y2="837.9" stroke-width="1.25" />
<line x1="272.4" y1="794.0" x2="279.5" y2="802.5" stroke-width="1.25" />
<line x1="302.8" y1="935.2" x2="295.7" y2="920.4" stroke-width="1.25" />
<line x1="337.1" y1="918.6" x2="330.0" y2="902.6" stroke-width="1.25" />
<line x1="390.3" y1="905.6" x2="378.5" y2="890.8" stroke-width="1.25" />
<line x1="427.0" y1="873.0" x2="419.9" y2="855.3" stroke-width="1.25" />
<line x1="239.5" y1="1013.2" x2="233.6" y2="997.2" stroke-width="1.25" />
<text transform="translate(769,1092) rotate(-90)" font-size="11.5" font-weight="bold" text-anchor="start">392 070</text>
</svg>
</body></html>
